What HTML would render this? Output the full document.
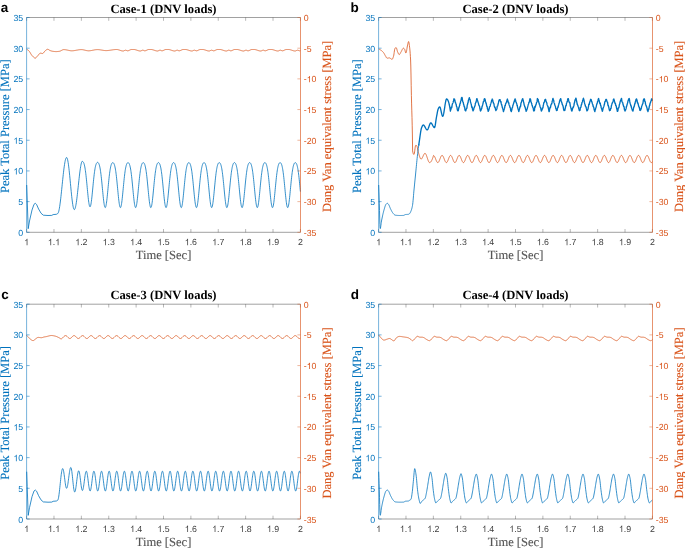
<!DOCTYPE html>
<html><head><meta charset="utf-8"><style>
html,body{margin:0;padding:0;background:#fff;}
svg{display:block;}
svg{will-change:transform;}
text{text-rendering:geometricPrecision;}
.tk{font-family:"Liberation Sans",sans-serif;font-size:8.8px;}
.lab{font-family:"Liberation Serif",serif;font-size:12.55px;stroke-width:0.12px;}
.ttl{font-family:"Liberation Serif",serif;font-size:12.6px;font-weight:bold;fill:#000;}
.let{font-family:"Liberation Sans",sans-serif;font-size:13.5px;font-weight:bold;fill:#000;}
</style></head><body>
<svg width="685" height="548" viewBox="0 0 685 548">
<rect width="685" height="548" fill="#fff"/>
<path d="M26.60 49.20 L26.85 49.32 L27.10 49.45 L27.35 49.61 L27.60 49.78 L27.85 49.97 L28.10 50.17 L28.35 50.39 L28.60 50.62 L28.85 50.85 L29.10 51.10 L29.35 51.40 L29.60 51.75 L29.85 52.13 L30.10 52.54 L30.35 52.97 L30.60 53.41 L30.85 53.84 L31.10 54.26 L31.35 54.65 L31.60 55.02 L31.85 55.33 L32.10 55.60 L32.35 55.87 L32.60 56.14 L32.85 56.42 L33.10 56.68 L33.35 56.94 L33.60 57.18 L33.85 57.41 L34.10 57.61 L34.35 57.78 L34.60 57.92 L34.85 58.02 L35.10 58.08 L35.35 58.10 L35.60 58.03 L35.85 57.87 L36.10 57.65 L36.35 57.37 L36.60 57.07 L36.85 56.75 L37.10 56.44 L37.35 56.15 L37.60 55.90 L37.85 55.63 L38.10 55.33 L38.35 55.01 L38.60 54.69 L38.85 54.37 L39.10 54.07 L39.35 53.80 L39.60 53.57 L39.85 53.38 L40.10 53.26 L40.35 53.20 L40.60 53.21 L40.85 53.23 L41.10 53.27 L41.35 53.32 L41.60 53.37 L41.85 53.42 L42.10 53.46 L42.35 53.49 L42.60 53.50 L42.85 53.44 L43.10 53.28 L43.35 53.05 L43.60 52.75 L43.85 52.42 L44.10 52.07 L44.35 51.72 L44.60 51.40 L44.85 51.13 L45.10 50.92 L45.35 50.71 L45.60 50.50 L45.85 50.29 L46.10 50.08 L46.35 49.88 L46.60 49.71 L46.85 49.55 L47.10 49.43 L47.35 49.35 L47.60 49.30 L47.85 49.31 L48.10 49.37 L48.35 49.48 L48.60 49.63 L48.85 49.79 L49.10 49.97 L49.35 50.14 L49.60 50.30 L49.85 50.44 L50.10 50.54 L50.35 50.63 L50.60 50.72 L50.85 50.80 L51.10 50.89 L51.35 50.97 L51.60 51.04 L51.85 51.11 L52.10 51.17 L52.35 51.22 L52.60 51.27 L52.85 51.31 L53.10 51.34 L53.35 51.38 L53.60 51.41 L53.85 51.44 L54.10 51.47 L54.35 51.50 L54.60 51.53 L54.85 51.55 L55.10 51.57 L55.35 51.58 L55.60 51.59 L55.85 51.60 L56.10 51.60 L56.35 51.60 L56.60 51.59 L56.85 51.58 L57.10 51.56 L57.35 51.54 L57.60 51.52 L57.85 51.49 L58.10 51.47 L58.35 51.44 L58.60 51.41 L58.85 51.38 L59.10 51.34 L59.35 51.31 L59.60 51.26 L59.85 51.20 L60.10 51.12 L60.35 51.01 L60.60 50.90 L60.85 50.78 L61.10 50.65 L61.35 50.51 L61.60 50.37 L61.85 50.24 L62.10 50.11 L62.35 49.99 L62.60 49.88 L62.85 49.78 L63.10 49.70 L63.35 49.64 L63.60 49.61 L63.85 49.60 L64.10 49.60 L64.35 49.62 L64.60 49.63 L64.85 49.66 L65.10 49.68 L65.35 49.72 L65.60 49.75 L65.85 49.80 L66.10 49.84 L66.35 49.89 L66.60 49.94 L66.85 49.99 L67.10 50.04 L67.35 50.10 L67.60 50.16 L67.85 50.21 L68.10 50.27 L68.35 50.32 L68.60 50.38 L68.85 50.43 L69.10 50.48 L69.35 50.53 L69.60 50.58 L69.85 50.62 L70.10 50.66 L70.35 50.70 L70.60 50.73 L70.85 50.75 L71.10 50.77 L71.35 50.79 L71.60 50.80 L71.85 50.80 L72.10 50.80 L72.35 50.79 L72.60 50.78 L72.85 50.76 L73.10 50.74 L73.35 50.71 L73.60 50.69 L73.85 50.66 L74.10 50.62 L74.35 50.59 L74.60 50.55 L74.85 50.51 L75.10 50.47 L75.35 50.42 L75.60 50.38 L75.85 50.33 L76.10 50.29 L76.35 50.24 L76.60 50.19 L76.85 50.14 L77.10 50.10 L77.35 50.05 L77.60 50.00 L77.85 49.96 L78.10 49.92 L78.35 49.88 L78.60 49.84 L78.85 49.80 L79.10 49.76 L79.35 49.73 L79.60 49.70 L79.85 49.68 L80.10 49.65 L80.35 49.63 L80.60 49.62 L80.85 49.61 L81.10 49.60 L81.35 49.60 L81.60 49.61 L81.85 49.62 L82.10 49.64 L82.35 49.67 L82.60 49.70 L82.85 49.74 L83.10 49.78 L83.35 49.83 L83.60 49.88 L83.85 49.94 L84.10 49.99 L84.35 50.05 L84.60 50.11 L84.85 50.18 L85.10 50.24 L85.35 50.30 L85.60 50.36 L85.85 50.42 L86.10 50.47 L86.35 50.53 L86.60 50.58 L86.85 50.63 L87.10 50.67 L87.35 50.71 L87.60 50.74 L87.85 50.76 L88.10 50.78 L88.35 50.80 L88.60 50.80 L88.85 50.80 L89.10 50.79 L89.35 50.78 L89.60 50.76 L89.85 50.73 L90.10 50.71 L90.35 50.68 L90.60 50.64 L90.85 50.60 L91.10 50.56 L91.35 50.52 L91.60 50.48 L91.85 50.43 L92.10 50.38 L92.35 50.33 L92.60 50.28 L92.85 50.23 L93.10 50.18 L93.35 50.13 L93.60 50.08 L93.85 50.03 L94.10 49.98 L94.35 49.93 L94.60 49.89 L94.85 49.84 L95.10 49.80 L95.35 49.77 L95.60 49.73 L95.85 49.70 L96.10 49.67 L96.35 49.65 L96.60 49.63 L96.85 49.61 L97.10 49.60 L97.35 49.60 L97.60 49.60 L97.85 49.61 L98.10 49.62 L98.35 49.63 L98.60 49.65 L98.85 49.67 L99.10 49.70 L99.35 49.73 L99.60 49.76 L99.85 49.79 L100.10 49.83 L100.35 49.87 L100.60 49.91 L100.85 49.95 L101.10 49.99 L101.35 50.03 L101.60 50.07 L101.85 50.12 L102.10 50.16 L102.35 50.20 L102.60 50.24 L102.85 50.29 L103.10 50.33 L103.35 50.36 L103.60 50.40 L103.85 50.43 L104.10 50.47 L104.35 50.49 L104.60 50.52 L104.85 50.54 L105.10 50.56 L105.35 50.58 L105.60 50.59 L105.85 50.60 L106.10 50.60 L106.35 50.60 L106.60 50.59 L106.85 50.58 L107.10 50.57 L107.35 50.56 L107.60 50.54 L107.85 50.52 L108.10 50.50 L108.35 50.47 L108.60 50.44 L108.85 50.41 L109.10 50.38 L109.35 50.35 L109.60 50.31 L109.85 50.28 L110.10 50.24 L110.35 50.21 L110.60 50.17 L110.85 50.13 L111.10 50.09 L111.35 50.05 L111.60 50.01 L111.85 49.97 L112.10 49.93 L112.35 49.89 L112.60 49.86 L112.85 49.82 L113.10 49.79 L113.35 49.75 L113.60 49.72 L113.85 49.69 L114.10 49.66 L114.35 49.63 L114.60 49.60 L114.85 49.58 L115.10 49.56 L115.35 49.54 L115.60 49.53 L115.85 49.52 L116.10 49.51 L116.35 49.50 L116.60 49.50 L116.85 49.51 L117.10 49.53 L117.35 49.56 L117.60 49.60 L117.85 49.65 L118.10 49.70 L118.35 49.77 L118.60 49.84 L118.85 49.91 L119.10 49.99 L119.35 50.08 L119.60 50.16 L119.85 50.25 L120.10 50.34 L120.35 50.42 L120.60 50.51 L120.85 50.59 L121.10 50.66 L121.35 50.73 L121.60 50.80 L121.85 50.85 L122.10 50.90 L122.35 50.94 L122.60 50.97 L122.85 50.99 L123.10 51.00 L123.35 50.98 L123.60 50.92 L123.85 50.83 L124.10 50.72 L124.35 50.60 L124.60 50.48 L124.85 50.37 L125.10 50.28 L125.35 50.22 L125.60 50.20 L125.85 50.23 L126.10 50.29 L126.35 50.39 L126.60 50.50 L126.85 50.61 L127.10 50.71 L127.35 50.77 L127.60 50.80 L127.85 50.79 L128.10 50.74 L128.35 50.68 L128.60 50.60 L128.85 50.50 L129.10 50.39 L129.35 50.27 L129.60 50.15 L129.85 50.03 L130.10 49.91 L130.35 49.80 L130.60 49.70 L130.85 49.62 L131.10 49.56 L131.35 49.51 L131.60 49.50 L131.85 49.50 L132.10 49.50 L132.35 49.50 L132.60 49.50 L132.85 49.50 L133.10 49.50 L133.35 49.50 L133.60 49.50 L133.85 49.50 L134.10 49.51 L134.35 49.53 L134.60 49.56 L134.85 49.60 L135.10 49.66 L135.35 49.72 L135.60 49.78 L135.85 49.85 L136.10 49.93 L136.35 50.01 L136.60 50.10 L136.85 50.18 L137.10 50.27 L137.35 50.35 L137.60 50.44 L137.85 50.52 L138.10 50.60 L138.35 50.68 L138.60 50.75 L138.85 50.81 L139.10 50.87 L139.35 50.91 L139.60 50.95 L139.85 50.98 L140.10 51.00 L140.35 51.00 L140.60 50.97 L140.85 50.90 L141.10 50.81 L141.35 50.70 L141.60 50.58 L141.85 50.46 L142.10 50.35 L142.35 50.27 L142.60 50.21 L142.85 50.20 L143.10 50.24 L143.35 50.31 L143.60 50.41 L143.85 50.52 L144.10 50.63 L144.35 50.72 L144.60 50.78 L144.85 50.80 L145.10 50.78 L145.35 50.73 L145.60 50.66 L145.85 50.58 L146.10 50.48 L146.35 50.37 L146.60 50.25 L146.85 50.13 L147.10 50.00 L147.35 49.89 L147.60 49.78 L147.85 49.69 L148.10 49.61 L148.35 49.55 L148.60 49.51 L148.85 49.50 L149.10 49.50 L149.35 49.50 L149.60 49.50 L149.85 49.50 L150.10 49.50 L150.35 49.50 L150.60 49.50 L150.85 49.50 L151.10 49.50 L151.35 49.51 L151.60 49.54 L151.85 49.57 L152.10 49.61 L152.35 49.67 L152.60 49.73 L152.85 49.80 L153.10 49.87 L153.35 49.95 L153.60 50.03 L153.85 50.11 L154.10 50.20 L154.35 50.28 L154.60 50.37 L154.85 50.46 L155.10 50.54 L155.35 50.62 L155.60 50.69 L155.85 50.76 L156.10 50.82 L156.35 50.88 L156.60 50.92 L156.85 50.96 L157.10 50.98 L157.35 51.00 L157.60 51.00 L157.85 50.96 L158.10 50.88 L158.35 50.79 L158.60 50.67 L158.85 50.55 L159.10 50.44 L159.35 50.33 L159.60 50.25 L159.85 50.21 L160.10 50.20 L160.35 50.25 L160.60 50.33 L160.85 50.43 L161.10 50.54 L161.35 50.65 L161.60 50.74 L161.85 50.79 L162.10 50.80 L162.35 50.77 L162.60 50.72 L162.85 50.65 L163.10 50.56 L163.35 50.46 L163.60 50.34 L163.85 50.22 L164.10 50.10 L164.35 49.98 L164.60 49.87 L164.85 49.76 L165.10 49.67 L165.35 49.59 L165.60 49.54 L165.85 49.51 L166.10 49.50 L166.35 49.50 L166.60 49.50 L166.85 49.50 L167.10 49.50 L167.35 49.50 L167.60 49.50 L167.85 49.50 L168.10 49.50 L168.35 49.50 L168.60 49.52 L168.85 49.54 L169.10 49.58 L169.35 49.62 L169.60 49.68 L169.85 49.74 L170.10 49.81 L170.35 49.88 L170.60 49.96 L170.85 50.04 L171.10 50.13 L171.35 50.22 L171.60 50.30 L171.85 50.39 L172.10 50.47 L172.35 50.55 L172.60 50.63 L172.85 50.70 L173.10 50.77 L173.35 50.83 L173.60 50.89 L173.85 50.93 L174.10 50.96 L174.35 50.99 L174.60 51.00 L174.85 50.99 L175.10 50.95 L175.35 50.87 L175.60 50.76 L175.85 50.65 L176.10 50.53 L176.35 50.41 L176.60 50.32 L176.85 50.24 L177.10 50.20 L177.35 50.21 L177.60 50.26 L177.85 50.35 L178.10 50.46 L178.35 50.57 L178.60 50.67 L178.85 50.75 L179.10 50.80 L179.35 50.79 L179.60 50.76 L179.85 50.71 L180.10 50.63 L180.35 50.54 L180.60 50.43 L180.85 50.32 L181.10 50.20 L181.35 50.08 L181.60 49.96 L181.85 49.84 L182.10 49.74 L182.35 49.65 L182.60 49.58 L182.85 49.53 L183.10 49.50 L183.35 49.50 L183.60 49.50 L183.85 49.50 L184.10 49.50 L184.35 49.50 L184.60 49.50 L184.85 49.50 L185.10 49.50 L185.35 49.50 L185.60 49.50 L185.85 49.52 L186.10 49.55 L186.35 49.59 L186.60 49.63 L186.85 49.69 L187.10 49.75 L187.35 49.82 L187.60 49.90 L187.85 49.98 L188.10 50.06 L188.35 50.15 L188.60 50.23 L188.85 50.32 L189.10 50.40 L189.35 50.49 L189.60 50.57 L189.85 50.65 L190.10 50.72 L190.35 50.78 L190.60 50.84 L190.85 50.90 L191.10 50.94 L191.35 50.97 L191.60 50.99 L191.85 51.00 L192.10 50.99 L192.35 50.93 L192.60 50.85 L192.85 50.74 L193.10 50.62 L193.35 50.50 L193.60 50.39 L193.85 50.30 L194.10 50.23 L194.35 50.20 L194.60 50.22 L194.85 50.28 L195.10 50.37 L195.35 50.48 L195.60 50.59 L195.85 50.69 L196.10 50.76 L196.35 50.80 L196.60 50.79 L196.85 50.75 L197.10 50.69 L197.35 50.61 L197.60 50.52 L197.85 50.41 L198.10 50.30 L198.35 50.17 L198.60 50.05 L198.85 49.93 L199.10 49.82 L199.35 49.72 L199.60 49.64 L199.85 49.57 L200.10 49.52 L200.35 49.50 L200.60 49.50 L200.85 49.50 L201.10 49.50 L201.35 49.50 L201.60 49.50 L201.85 49.50 L202.10 49.50 L202.35 49.50 L202.60 49.50 L202.85 49.51 L203.10 49.53 L203.35 49.56 L203.60 49.60 L203.85 49.65 L204.10 49.70 L204.35 49.77 L204.60 49.84 L204.85 49.91 L205.10 49.99 L205.35 50.08 L205.60 50.16 L205.85 50.25 L206.10 50.34 L206.35 50.42 L206.60 50.51 L206.85 50.59 L207.10 50.66 L207.35 50.73 L207.60 50.80 L207.85 50.85 L208.10 50.90 L208.35 50.94 L208.60 50.97 L208.85 50.99 L209.10 51.00 L209.35 50.98 L209.60 50.92 L209.85 50.83 L210.10 50.72 L210.35 50.60 L210.60 50.48 L210.85 50.37 L211.10 50.28 L211.35 50.22 L211.60 50.20 L211.85 50.23 L212.10 50.29 L212.35 50.39 L212.60 50.50 L212.85 50.61 L213.10 50.71 L213.35 50.77 L213.60 50.80 L213.85 50.79 L214.10 50.74 L214.35 50.68 L214.60 50.60 L214.85 50.50 L215.10 50.39 L215.35 50.27 L215.60 50.15 L215.85 50.03 L216.10 49.91 L216.35 49.80 L216.60 49.70 L216.85 49.62 L217.10 49.56 L217.35 49.51 L217.60 49.50 L217.85 49.50 L218.10 49.50 L218.35 49.50 L218.60 49.50 L218.85 49.50 L219.10 49.50 L219.35 49.50 L219.60 49.50 L219.85 49.50 L220.10 49.51 L220.35 49.53 L220.60 49.56 L220.85 49.60 L221.10 49.66 L221.35 49.72 L221.60 49.78 L221.85 49.85 L222.10 49.93 L222.35 50.01 L222.60 50.10 L222.85 50.18 L223.10 50.27 L223.35 50.35 L223.60 50.44 L223.85 50.52 L224.10 50.60 L224.35 50.68 L224.60 50.75 L224.85 50.81 L225.10 50.87 L225.35 50.91 L225.60 50.95 L225.85 50.98 L226.10 51.00 L226.35 51.00 L226.60 50.97 L226.85 50.90 L227.10 50.81 L227.35 50.70 L227.60 50.58 L227.85 50.46 L228.10 50.35 L228.35 50.27 L228.60 50.21 L228.85 50.20 L229.10 50.24 L229.35 50.31 L229.60 50.41 L229.85 50.52 L230.10 50.63 L230.35 50.72 L230.60 50.78 L230.85 50.80 L231.10 50.78 L231.35 50.73 L231.60 50.66 L231.85 50.58 L232.10 50.48 L232.35 50.37 L232.60 50.25 L232.85 50.13 L233.10 50.00 L233.35 49.89 L233.60 49.78 L233.85 49.69 L234.10 49.61 L234.35 49.55 L234.60 49.51 L234.85 49.50 L235.10 49.50 L235.35 49.50 L235.60 49.50 L235.85 49.50 L236.10 49.50 L236.35 49.50 L236.60 49.50 L236.85 49.50 L237.10 49.50 L237.35 49.51 L237.60 49.54 L237.85 49.57 L238.10 49.61 L238.35 49.67 L238.60 49.73 L238.85 49.80 L239.10 49.87 L239.35 49.95 L239.60 50.03 L239.85 50.11 L240.10 50.20 L240.35 50.28 L240.60 50.37 L240.85 50.46 L241.10 50.54 L241.35 50.62 L241.60 50.69 L241.85 50.76 L242.10 50.82 L242.35 50.88 L242.60 50.92 L242.85 50.96 L243.10 50.98 L243.35 51.00 L243.60 51.00 L243.85 50.96 L244.10 50.88 L244.35 50.79 L244.60 50.67 L244.85 50.55 L245.10 50.44 L245.35 50.33 L245.60 50.25 L245.85 50.21 L246.10 50.20 L246.35 50.25 L246.60 50.33 L246.85 50.43 L247.10 50.54 L247.35 50.65 L247.60 50.74 L247.85 50.79 L248.10 50.80 L248.35 50.77 L248.60 50.72 L248.85 50.65 L249.10 50.56 L249.35 50.46 L249.60 50.34 L249.85 50.22 L250.10 50.10 L250.35 49.98 L250.60 49.87 L250.85 49.76 L251.10 49.67 L251.35 49.59 L251.60 49.54 L251.85 49.51 L252.10 49.50 L252.35 49.50 L252.60 49.50 L252.85 49.50 L253.10 49.50 L253.35 49.50 L253.60 49.50 L253.85 49.50 L254.10 49.50 L254.35 49.50 L254.60 49.52 L254.85 49.54 L255.10 49.58 L255.35 49.62 L255.60 49.68 L255.85 49.74 L256.10 49.81 L256.35 49.88 L256.60 49.96 L256.85 50.04 L257.10 50.13 L257.35 50.22 L257.60 50.30 L257.85 50.39 L258.10 50.47 L258.35 50.55 L258.60 50.63 L258.85 50.70 L259.10 50.77 L259.35 50.83 L259.60 50.89 L259.85 50.93 L260.10 50.96 L260.35 50.99 L260.60 51.00 L260.85 50.99 L261.10 50.95 L261.35 50.87 L261.60 50.76 L261.85 50.65 L262.10 50.53 L262.35 50.41 L262.60 50.32 L262.85 50.24 L263.10 50.20 L263.35 50.21 L263.60 50.26 L263.85 50.35 L264.10 50.46 L264.35 50.57 L264.60 50.67 L264.85 50.75 L265.10 50.80 L265.35 50.79 L265.60 50.76 L265.85 50.71 L266.10 50.63 L266.35 50.54 L266.60 50.43 L266.85 50.32 L267.10 50.20 L267.35 50.08 L267.60 49.96 L267.85 49.84 L268.10 49.74 L268.35 49.65 L268.60 49.58 L268.85 49.53 L269.10 49.50 L269.35 49.50 L269.60 49.50 L269.85 49.50 L270.10 49.50 L270.35 49.50 L270.60 49.50 L270.85 49.50 L271.10 49.50 L271.35 49.50 L271.60 49.50 L271.85 49.52 L272.10 49.55 L272.35 49.59 L272.60 49.63 L272.85 49.69 L273.10 49.75 L273.35 49.82 L273.60 49.90 L273.85 49.98 L274.10 50.06 L274.35 50.15 L274.60 50.23 L274.85 50.32 L275.10 50.40 L275.35 50.49 L275.60 50.57 L275.85 50.65 L276.10 50.72 L276.35 50.78 L276.60 50.84 L276.85 50.90 L277.10 50.94 L277.35 50.97 L277.60 50.99 L277.85 51.00 L278.10 50.99 L278.35 50.93 L278.60 50.85 L278.85 50.74 L279.10 50.62 L279.35 50.50 L279.60 50.39 L279.85 50.30 L280.10 50.23 L280.35 50.20 L280.60 50.22 L280.85 50.28 L281.10 50.37 L281.35 50.48 L281.60 50.59 L281.85 50.69 L282.10 50.76 L282.35 50.80 L282.60 50.79 L282.85 50.75 L283.10 50.69 L283.35 50.61 L283.60 50.52 L283.85 50.41 L284.10 50.30 L284.35 50.17 L284.60 50.05 L284.85 49.93 L285.10 49.82 L285.35 49.72 L285.60 49.64 L285.85 49.57 L286.10 49.52 L286.35 49.50 L286.60 49.50 L286.85 49.50 L287.10 49.50 L287.35 49.50 L287.60 49.50 L287.85 49.50 L288.10 49.50 L288.35 49.50 L288.60 49.50 L288.85 49.51 L289.10 49.53 L289.35 49.56 L289.60 49.60 L289.85 49.65 L290.10 49.70 L290.35 49.77 L290.60 49.84 L290.85 49.91 L291.10 49.99 L291.35 50.08 L291.60 50.16 L291.85 50.25 L292.10 50.34 L292.35 50.42 L292.60 50.51 L292.85 50.59 L293.10 50.66 L293.35 50.73 L293.60 50.80 L293.85 50.85 L294.10 50.90 L294.35 50.94 L294.60 50.97 L294.85 50.99 L295.10 51.00 L295.35 50.98 L295.60 50.92 L295.85 50.83 L296.10 50.72 L296.35 50.60 L296.60 50.48 L296.85 50.37 L297.10 50.28 L297.35 50.22 L297.60 50.20 L297.85 50.23 L298.10 50.29 L298.35 50.39 L298.60 50.50 L298.85 50.61 L299.10 50.71 L299.35 50.77 L299.60 50.80 L299.85 50.79 L300.10 50.74 L300.35 50.68" fill="none" stroke="#D95319" stroke-width="0.80" stroke-linejoin="round"/>
<path d="M26.70 185.00 L27.20 200.00 L28.20 228.70 L29.50 221.00 L32.00 210.00 L34.00 204.30 L35.30 203.30 L36.60 204.50 L38.60 209.00 L41.00 213.20 L43.30 215.20 L48.00 215.50 L51.80 215.40 L53.10 214.60 L56.40 214.30 L57.60 213.60 L57.86 213.49 L58.11 213.15 L58.37 212.59 L58.63 211.81 L58.89 210.82 L59.14 209.63 L59.40 208.24 L59.66 206.67 L59.91 204.93 L60.17 203.04 L60.43 201.00 L60.69 198.84 L60.94 196.57 L61.20 194.22 L61.46 191.79 L61.71 189.32 L61.97 186.81 L62.23 184.29 L62.49 181.78 L62.74 179.31 L63.00 176.88 L63.26 174.53 L63.51 172.26 L63.77 170.10 L64.03 168.06 L64.29 166.17 L64.54 164.43 L64.80 162.86 L65.06 161.47 L65.31 160.28 L65.57 159.29 L65.83 158.51 L66.09 157.95 L66.34 157.61 L66.60 157.50 L66.86 157.64 L67.11 158.07 L67.37 158.77 L67.63 159.75 L67.88 160.99 L68.14 162.48 L68.40 164.19 L68.65 166.12 L68.91 168.24 L69.17 170.53 L69.42 172.95 L69.68 175.50 L69.94 178.13 L70.19 180.83 L70.45 183.55 L70.71 186.27 L70.96 188.97 L71.22 191.60 L71.48 194.15 L71.73 196.57 L71.99 198.86 L72.25 200.98 L72.50 202.91 L72.76 204.62 L73.02 206.11 L73.27 207.35 L73.53 208.33 L73.79 209.03 L74.04 209.46 L74.30 209.60 L74.55 209.48 L74.81 209.14 L75.06 208.56 L75.31 207.76 L75.57 206.74 L75.82 205.52 L76.07 204.11 L76.33 202.51 L76.58 200.75 L76.83 198.84 L77.08 196.81 L77.34 194.66 L77.59 192.42 L77.84 190.12 L78.10 187.77 L78.35 185.40 L78.60 183.03 L78.86 180.68 L79.11 178.38 L79.36 176.14 L79.62 173.99 L79.87 171.96 L80.12 170.05 L80.38 168.29 L80.63 166.69 L80.88 165.28 L81.13 164.06 L81.39 163.04 L81.64 162.24 L81.89 161.66 L82.15 161.32 L82.40 161.40 L82.60 161.43 L82.80 161.53 L83.00 161.68 L83.20 161.91 L83.40 162.21 L83.60 162.59 L83.80 163.06 L84.00 163.62 L84.20 164.27 L84.40 165.04 L84.60 165.91 L84.80 166.90 L85.00 168.02 L85.20 169.26 L85.40 170.62 L85.60 172.10 L85.80 173.71 L86.00 175.43 L86.20 177.25 L86.40 179.16 L86.60 181.16 L86.80 183.21 L87.00 185.31 L87.20 187.43 L87.40 189.55 L87.60 191.66 L87.80 193.71 L88.00 195.70 L88.20 197.58 L88.40 199.35 L88.60 200.98 L88.80 202.44 L89.00 203.71 L89.20 204.78 L89.40 205.64 L89.60 206.26 L89.80 206.65 L90.00 206.80 L90.20 206.70 L90.40 206.35 L90.60 205.77 L90.80 204.95 L91.00 203.92 L91.20 202.69 L91.40 201.26 L91.60 199.68 L91.80 197.95 L92.00 196.09 L92.20 194.15 L92.40 192.12 L92.60 190.05 L92.80 187.96 L93.00 185.87 L93.20 183.80 L93.40 181.77 L93.60 179.80 L93.80 177.91 L94.00 176.11 L94.20 174.42 L94.40 172.83 L94.60 171.37 L94.80 170.03 L95.00 168.81 L95.20 167.71 L95.40 166.73 L95.60 165.87 L95.80 165.13 L96.00 164.48 L96.20 163.94 L96.40 163.49 L96.60 163.12 L96.80 162.83 L97.00 162.62 L97.20 162.47 L97.40 162.38 L97.60 162.36 L97.80 162.40 L98.00 162.50 L98.20 162.66 L98.40 162.90 L98.60 163.20 L98.80 163.58 L99.00 164.05 L99.20 164.61 L99.40 165.26 L99.60 166.02 L99.80 166.89 L100.00 167.88 L100.20 168.99 L100.40 170.22 L100.60 171.58 L100.80 173.05 L101.00 174.65 L101.20 176.36 L101.40 178.17 L101.60 180.08 L101.80 182.06 L102.00 184.10 L102.20 186.19 L102.40 188.31 L102.60 190.42 L102.80 192.51 L103.00 194.56 L103.20 196.53 L103.40 198.41 L103.60 200.17 L103.80 201.79 L104.00 203.24 L104.20 204.51 L104.40 205.58 L104.60 206.43 L104.80 207.05 L105.00 207.43 L105.20 207.57 L105.40 207.46 L105.60 207.11 L105.80 206.52 L106.00 205.70 L106.20 204.66 L106.40 203.41 L106.60 201.98 L106.80 200.38 L107.00 198.64 L107.20 196.78 L107.40 194.82 L107.60 192.78 L107.80 190.70 L108.00 188.59 L108.20 186.48 L108.40 184.39 L108.60 182.35 L108.80 180.36 L109.00 178.46 L109.20 176.64 L109.40 174.92 L109.60 173.32 L109.80 171.84 L110.00 170.48 L110.20 169.24 L110.40 168.13 L110.60 167.13 L110.80 166.26 L111.00 165.49 L111.20 164.83 L111.40 164.27 L111.60 163.81 L111.80 163.43 L112.00 163.12 L112.20 162.89 L112.40 162.73 L112.60 162.63 L112.80 162.60 L113.00 162.62 L113.20 162.71 L113.40 162.87 L113.60 163.09 L113.80 163.38 L114.00 163.75 L114.20 164.21 L114.40 164.75 L114.60 165.40 L114.80 166.15 L115.00 167.01 L115.20 167.98 L115.40 169.08 L115.60 170.30 L115.80 171.65 L116.00 173.11 L116.20 174.70 L116.40 176.40 L116.60 178.20 L116.80 180.10 L117.00 182.08 L117.20 184.11 L117.40 186.20 L117.60 188.31 L117.80 190.42 L118.00 192.51 L118.20 194.55 L118.40 196.53 L118.60 198.41 L118.80 200.17 L119.00 201.79 L119.20 203.24 L119.40 204.52 L119.60 205.59 L119.80 206.44 L120.00 207.07 L120.20 207.45 L120.40 207.60 L120.60 207.50 L120.80 207.15 L121.00 206.57 L121.20 205.75 L121.40 204.72 L121.60 203.48 L121.80 202.05 L122.00 200.46 L122.20 198.72 L122.40 196.86 L122.60 194.90 L122.80 192.87 L123.00 190.78 L123.20 188.68 L123.40 186.57 L123.60 184.48 L123.80 182.43 L124.00 180.44 L124.20 178.53 L124.40 176.71 L124.60 174.99 L124.80 173.38 L125.00 171.90 L125.20 170.53 L125.40 169.29 L125.60 168.17 L125.80 167.17 L126.00 166.29 L126.20 165.52 L126.40 164.86 L126.60 164.30 L126.80 163.83 L127.00 163.44 L127.20 163.13 L127.40 162.90 L127.60 162.74 L127.80 162.64 L128.00 162.60 L128.20 162.62 L128.40 162.71 L128.60 162.86 L128.80 163.08 L129.00 163.37 L129.20 163.74 L129.40 164.19 L129.60 164.73 L129.80 165.37 L130.00 166.12 L130.20 166.98 L130.40 167.95 L130.60 169.04 L130.80 170.26 L131.00 171.60 L131.20 173.06 L131.40 174.64 L131.60 176.34 L131.80 178.14 L132.00 180.03 L132.20 182.01 L132.40 184.04 L132.60 186.12 L132.80 188.23 L133.00 190.34 L133.20 192.43 L133.40 194.48 L133.60 196.46 L133.80 198.34 L134.00 200.11 L134.20 201.73 L134.40 203.20 L134.60 204.48 L134.80 205.55 L135.00 206.42 L135.20 207.05 L135.40 207.45 L135.60 207.60 L135.80 207.51 L136.00 207.17 L136.20 206.59 L136.40 205.79 L136.60 204.76 L136.80 203.53 L137.00 202.11 L137.20 200.52 L137.40 198.79 L137.60 196.93 L137.80 194.97 L138.00 192.94 L138.20 190.86 L138.40 188.75 L138.60 186.64 L138.80 184.55 L139.00 182.50 L139.20 180.51 L139.40 178.59 L139.60 176.77 L139.80 175.05 L140.00 173.44 L140.20 171.95 L140.40 170.57 L140.60 169.33 L140.80 168.20 L141.00 167.20 L141.20 166.32 L141.40 165.55 L141.60 164.88 L141.80 164.31 L142.00 163.84 L142.20 163.45 L142.40 163.14 L142.60 162.91 L142.80 162.74 L143.00 162.64 L143.20 162.60 L143.40 162.62 L143.60 162.71 L143.80 162.86 L144.00 163.07 L144.20 163.36 L144.40 163.72 L144.60 164.17 L144.80 164.71 L145.00 165.35 L145.20 166.09 L145.40 166.94 L145.60 167.91 L145.80 169.00 L146.00 170.21 L146.20 171.55 L146.40 173.01 L146.60 174.59 L146.80 176.28 L147.00 178.07 L147.20 179.96 L147.40 181.94 L147.60 183.97 L147.80 186.05 L148.00 188.16 L148.20 190.27 L148.40 192.36 L148.60 194.41 L148.80 196.39 L149.00 198.28 L149.20 200.05 L149.40 201.68 L149.60 203.15 L149.80 204.43 L150.00 205.52 L150.20 206.39 L150.40 207.03 L150.60 207.44 L150.80 207.60 L151.00 207.51 L151.20 207.18 L151.40 206.62 L151.60 205.82 L151.80 204.80 L152.00 203.57 L152.20 202.16 L152.40 200.58 L152.60 198.85 L152.80 197.00 L153.00 195.04 L153.20 193.01 L153.40 190.93 L153.60 188.82 L153.80 186.71 L154.00 184.62 L154.20 182.57 L154.40 180.58 L154.60 178.66 L154.80 176.83 L155.00 175.11 L155.20 173.49 L155.40 172.00 L155.60 170.62 L155.80 169.37 L156.00 168.24 L156.20 167.24 L156.40 166.35 L156.60 165.57 L156.80 164.90 L157.00 164.33 L157.20 163.86 L157.40 163.47 L157.60 163.15 L157.80 162.92 L158.00 162.75 L158.20 162.64 L158.40 162.60 L158.60 162.62 L158.80 162.70 L159.00 162.85 L159.20 163.06 L159.40 163.35 L159.60 163.71 L159.80 164.16 L160.00 164.69 L160.20 165.33 L160.40 166.06 L160.60 166.91 L160.80 167.88 L161.00 168.96 L161.20 170.17 L161.40 171.50 L161.60 172.96 L161.80 174.53 L162.00 176.22 L162.20 178.01 L162.40 179.90 L162.60 181.87 L162.80 183.90 L163.00 185.98 L163.20 188.08 L163.40 190.20 L163.60 192.29 L163.80 194.34 L164.00 196.32 L164.20 198.21 L164.40 199.99 L164.60 201.62 L164.80 203.10 L165.00 204.39 L165.20 205.48 L165.40 206.36 L165.60 207.01 L165.80 207.43 L166.00 207.60 L166.20 207.52 L166.40 207.20 L166.60 206.64 L166.80 205.85 L167.00 204.84 L167.20 203.62 L167.40 202.21 L167.60 200.64 L167.80 198.91 L168.00 197.06 L168.20 195.11 L168.40 193.08 L168.60 191.00 L168.80 188.90 L169.00 186.79 L169.20 184.69 L169.40 182.64 L169.60 180.65 L169.80 178.73 L170.00 176.90 L170.20 175.17 L170.40 173.55 L170.60 172.05 L170.80 170.67 L171.00 169.41 L171.20 168.28 L171.40 167.27 L171.60 166.38 L171.80 165.60 L172.00 164.92 L172.20 164.35 L172.40 163.87 L172.60 163.48 L172.80 163.16 L173.00 162.92 L173.20 162.75 L173.40 162.65 L173.60 162.60 L173.80 162.62 L174.00 162.70 L174.20 162.84 L174.40 163.05 L174.60 163.34 L174.80 163.70 L175.00 164.14 L175.20 164.67 L175.40 165.30 L175.60 166.04 L175.80 166.88 L176.00 167.84 L176.20 168.92 L176.40 170.12 L176.60 171.45 L176.80 172.90 L177.00 174.47 L177.20 176.16 L177.40 177.95 L177.60 179.83 L177.80 181.80 L178.00 183.83 L178.20 185.90 L178.40 188.01 L178.60 190.12 L178.80 192.22 L179.00 194.27 L179.20 196.25 L179.40 198.15 L179.60 199.93 L179.80 201.57 L180.00 203.05 L180.20 204.35 L180.40 205.45 L180.60 206.34 L180.80 206.99 L181.00 207.42 L181.20 207.59 L181.40 207.53 L181.60 207.22 L181.80 206.66 L182.00 205.88 L182.20 204.88 L182.40 203.67 L182.60 202.27 L182.80 200.69 L183.00 198.97 L183.20 197.13 L183.40 195.18 L183.60 193.16 L183.80 191.08 L184.00 188.97 L184.20 186.86 L184.40 184.77 L184.60 182.71 L184.80 180.71 L185.00 178.79 L185.20 176.96 L185.40 175.22 L185.60 173.60 L185.80 172.10 L186.00 170.71 L186.20 169.45 L186.40 168.32 L186.60 167.30 L186.80 166.41 L187.00 165.62 L187.20 164.95 L187.40 164.37 L187.60 163.89 L187.80 163.49 L188.00 163.17 L188.20 162.93 L188.40 162.76 L188.60 162.65 L188.80 162.60 L189.00 162.62 L189.20 162.70 L189.40 162.84 L189.60 163.05 L189.80 163.33 L190.00 163.68 L190.20 164.12 L190.40 164.65 L190.60 165.28 L190.80 166.01 L191.00 166.85 L191.20 167.80 L191.40 168.88 L191.60 170.08 L191.80 171.40 L192.00 172.85 L192.20 174.42 L192.40 176.10 L192.60 177.88 L192.80 179.76 L193.00 181.73 L193.20 183.75 L193.40 185.83 L193.60 187.94 L193.80 190.05 L194.00 192.14 L194.20 194.20 L194.40 196.19 L194.60 198.08 L194.80 199.87 L195.00 201.52 L195.20 203.00 L195.40 204.31 L195.60 205.42 L195.80 206.31 L196.00 206.97 L196.20 207.40 L196.40 207.59 L196.60 207.53 L196.80 207.23 L197.00 206.69 L197.20 205.91 L197.40 204.91 L197.60 203.71 L197.80 202.32 L198.00 200.75 L198.20 199.04 L198.40 197.20 L198.60 195.25 L198.80 193.23 L199.00 191.15 L199.20 189.05 L199.40 186.93 L199.60 184.84 L199.80 182.78 L200.00 180.78 L200.20 178.86 L200.40 177.02 L200.60 175.28 L200.80 173.66 L201.00 172.15 L201.20 170.76 L201.40 169.49 L201.60 168.35 L201.80 167.34 L202.00 166.44 L202.20 165.65 L202.40 164.97 L202.60 164.39 L202.80 163.90 L203.00 163.50 L203.20 163.18 L203.40 162.94 L203.60 162.76 L203.80 162.65 L204.00 162.60 L204.20 162.62 L204.40 162.69 L204.60 162.83 L204.80 163.04 L205.00 163.31 L205.20 163.67 L205.40 164.10 L205.60 164.63 L205.80 165.25 L206.00 165.98 L206.20 166.82 L206.40 167.77 L206.60 168.84 L206.80 170.04 L207.00 171.35 L207.20 172.80 L207.40 174.36 L207.60 176.03 L207.80 177.82 L208.00 179.69 L208.20 181.66 L208.40 183.68 L208.60 185.76 L208.80 187.86 L209.00 189.97 L209.20 192.07 L209.40 194.13 L209.60 196.12 L209.80 198.02 L210.00 199.81 L210.20 201.46 L210.40 202.95 L210.60 204.27 L210.80 205.38 L211.00 206.28 L211.20 206.96 L211.40 207.39 L211.60 207.59 L211.80 207.54 L212.00 207.24 L212.20 206.71 L212.40 205.94 L212.60 204.95 L212.80 203.76 L213.00 202.37 L213.20 200.81 L213.40 199.10 L213.60 197.26 L213.80 195.32 L214.00 193.30 L214.20 191.22 L214.40 189.12 L214.60 187.01 L214.80 184.91 L215.00 182.85 L215.20 180.85 L215.40 178.92 L215.60 177.08 L215.80 175.34 L216.00 173.71 L216.20 172.20 L216.40 170.81 L216.60 169.54 L216.80 168.39 L217.00 167.37 L217.20 166.46 L217.40 165.67 L217.60 164.99 L217.80 164.41 L218.00 163.92 L218.20 163.52 L218.40 163.19 L218.60 162.94 L218.80 162.77 L219.00 162.65 L219.20 162.60 L219.40 162.61 L219.60 162.69 L219.80 162.82 L220.00 163.03 L220.20 163.30 L220.40 163.65 L220.60 164.09 L220.80 164.61 L221.00 165.23 L221.20 165.95 L221.40 166.79 L221.60 167.73 L221.80 168.80 L222.00 169.99 L222.20 171.31 L222.40 172.74 L222.60 174.30 L222.80 175.97 L223.00 177.75 L223.20 179.63 L223.40 181.59 L223.60 183.61 L223.80 185.68 L224.00 187.79 L224.20 189.90 L224.40 192.00 L224.60 194.06 L224.80 196.05 L225.00 197.96 L225.20 199.75 L225.40 201.41 L225.60 202.90 L225.80 204.22 L226.00 205.34 L226.20 206.25 L226.40 206.94 L226.60 207.38 L226.80 207.59 L227.00 207.55 L227.20 207.26 L227.40 206.73 L227.60 205.97 L227.80 204.99 L228.00 203.80 L228.20 202.42 L228.40 200.87 L228.60 199.16 L228.80 197.33 L229.00 195.39 L229.20 193.37 L229.40 191.30 L229.60 189.19 L229.80 187.08 L230.00 184.99 L230.20 182.93 L230.40 180.92 L230.60 178.99 L230.80 177.15 L231.00 175.40 L231.20 173.77 L231.40 172.25 L231.60 170.85 L231.80 169.58 L232.00 168.43 L232.20 167.40 L232.40 166.49 L232.60 165.70 L232.80 165.01 L233.00 164.43 L233.20 163.93 L233.40 163.53 L233.60 163.20 L233.80 162.95 L234.00 162.77 L234.20 162.66 L234.40 162.60 L234.60 162.61 L234.80 162.68 L235.00 162.82 L235.20 163.02 L235.40 163.29 L235.60 163.64 L235.80 164.07 L236.00 164.59 L236.20 165.21 L236.40 165.93 L236.60 166.76 L236.80 167.70 L237.00 168.76 L237.20 169.95 L237.40 171.26 L237.60 172.69 L237.80 174.25 L238.00 175.91 L238.20 177.69 L238.40 179.56 L238.60 181.52 L238.80 183.54 L239.00 185.61 L239.20 187.71 L239.40 189.83 L239.60 191.92 L239.80 193.98 L240.00 195.98 L240.20 197.89 L240.40 199.69 L240.60 201.35 L240.80 202.85 L241.00 204.18 L241.20 205.31 L241.40 206.23 L241.60 206.92 L241.80 207.37 L242.00 207.58 L242.20 207.55 L242.40 207.27 L242.60 206.76 L242.80 206.00 L243.00 205.03 L243.20 203.85 L243.40 202.47 L243.60 200.92 L243.80 199.22 L244.00 197.39 L244.20 195.46 L244.40 193.44 L244.60 191.37 L244.80 189.27 L245.00 187.16 L245.20 185.06 L245.40 183.00 L245.60 180.99 L245.80 179.06 L246.00 177.21 L246.20 175.46 L246.40 173.82 L246.60 172.30 L246.80 170.90 L247.00 169.62 L247.20 168.47 L247.40 167.44 L247.60 166.52 L247.80 165.73 L248.00 165.03 L248.20 164.44 L248.40 163.95 L248.60 163.54 L248.80 163.21 L249.00 162.96 L249.20 162.78 L249.40 162.66 L249.60 162.60 L249.80 162.61 L250.00 162.68 L250.20 162.81 L250.40 163.01 L250.60 163.28 L250.80 163.63 L251.00 164.05 L251.20 164.57 L251.40 165.18 L251.60 165.90 L251.80 166.72 L252.00 167.66 L252.20 168.72 L252.40 169.90 L252.60 171.21 L252.80 172.64 L253.00 174.19 L253.20 175.85 L253.40 177.63 L253.60 179.49 L253.80 181.45 L254.00 183.47 L254.20 185.54 L254.40 187.64 L254.60 189.75 L254.80 191.85 L255.00 193.91 L255.20 195.91 L255.40 197.83 L255.60 199.63 L255.80 201.29 L256.00 202.80 L256.20 204.14 L256.40 205.27 L256.60 206.20 L256.80 206.90 L257.00 207.36 L257.20 207.58 L257.40 207.56 L257.60 207.29 L257.80 206.78 L258.00 206.03 L258.20 205.07 L258.40 203.89 L258.60 202.52 L258.80 200.98 L259.00 199.29 L259.20 197.46 L259.40 195.53 L259.60 193.51 L259.80 191.44 L260.00 189.34 L260.20 187.23 L260.40 185.13 L260.60 183.07 L260.80 181.06 L261.00 179.12 L261.20 177.27 L261.40 175.52 L261.60 173.88 L261.80 172.35 L262.00 170.95 L262.20 169.66 L262.40 168.51 L262.60 167.47 L262.80 166.55 L263.00 165.75 L263.20 165.06 L263.40 164.46 L263.60 163.96 L263.80 163.55 L264.00 163.22 L264.20 162.97 L264.40 162.78 L264.60 162.66 L264.80 162.61 L265.00 162.61 L265.20 162.68 L265.40 162.81 L265.60 163.00 L265.80 163.27 L266.00 163.61 L266.20 164.04 L266.40 164.55 L266.60 165.16 L266.80 165.87 L267.00 166.69 L267.20 167.63 L267.40 168.68 L267.60 169.86 L267.80 171.16 L268.00 172.59 L268.20 174.13 L268.40 175.79 L268.60 177.56 L268.80 179.43 L269.00 181.38 L269.20 183.40 L269.40 185.47 L269.60 187.57 L269.80 189.68 L270.00 191.78 L270.20 193.84 L270.40 195.84 L270.60 197.76 L270.80 199.57 L271.00 201.24 L271.20 202.75 L271.40 204.09 L271.60 205.24 L271.80 206.17 L272.00 206.87 L272.20 207.35 L272.40 207.58 L272.60 207.56 L272.80 207.30 L273.00 206.80 L273.20 206.06 L273.40 205.10 L273.60 203.94 L273.80 202.57 L274.00 201.04 L274.20 199.35 L274.40 197.53 L274.60 195.60 L274.80 193.59 L275.00 191.52 L275.20 189.42 L275.40 187.30 L275.60 185.20 L275.80 183.14 L276.00 181.13 L276.20 179.19 L276.40 177.33 L276.60 175.58 L276.80 173.93 L277.00 172.40 L277.20 170.99 L277.40 169.71 L277.60 168.55 L277.80 167.51 L278.00 166.58 L278.20 165.78 L278.40 165.08 L278.60 164.48 L278.80 163.98 L279.00 163.57 L279.20 163.23 L279.40 162.98 L279.60 162.79 L279.80 162.67 L280.00 162.61 L280.20 162.61 L280.40 162.67 L280.60 162.80 L280.80 163.00 L281.00 163.26 L281.20 163.60 L281.40 164.02 L281.60 164.53 L281.80 165.14 L282.00 165.85 L282.20 166.66 L282.40 167.59 L282.60 168.64 L282.80 169.82 L283.00 171.11 L283.20 172.54 L283.40 174.08 L283.60 175.73 L283.80 177.50 L284.00 179.36 L284.20 181.31 L284.40 183.32 L284.60 185.39 L284.80 187.49 L285.00 189.61 L285.20 191.71 L285.40 193.77 L285.60 195.77 L285.80 197.69 L286.00 199.50 L286.20 201.18 L286.40 202.70 L286.60 204.05 L286.80 205.20 L287.00 206.14 L287.20 206.85 L287.40 207.33 L287.60 207.57 L287.80 207.57 L288.00 207.31 L288.20 206.82 L288.40 206.09 L288.60 205.14 L288.80 203.98 L289.00 202.62 L289.20 201.09 L289.40 199.41 L289.60 197.59 L289.80 195.67 L290.00 193.66 L290.20 191.59 L290.40 189.49 L290.60 187.38 L290.80 185.28 L291.00 183.21 L291.20 181.20 L291.40 179.26 L291.60 177.40 L291.80 175.64 L292.00 173.99 L292.20 172.45 L292.40 171.04 L292.60 169.75 L292.80 168.58 L293.00 167.54 L293.20 166.61 L293.40 165.80 L293.60 165.10 L293.80 164.50 L294.00 164.00 L294.20 163.58 L294.40 163.24 L294.60 162.98 L294.80 162.79 L295.00 162.67 L295.20 162.61 L295.40 162.61 L295.60 162.67 L295.80 162.80 L296.00 162.99 L296.20 163.25 L296.40 163.59 L296.60 164.01 L296.80 164.51 L297.00 165.12 L297.20 165.82 L297.40 166.63 L297.60 167.56 L297.80 168.61 L298.00 169.77 L298.20 171.07 L298.40 172.48 L298.60 174.02 L298.80 175.67 L299.00 177.43 L299.20 179.29 L299.40 181.24 L299.60 183.25 L299.80 185.32 L300.00 187.42 L300.20 189.53 L300.40 191.63" fill="none" stroke="#0072BD" stroke-width="0.80" stroke-linejoin="round"/>
<line x1="26.60" y1="17.50" x2="300.40" y2="17.50" stroke="#262626" stroke-width="0.8" stroke-opacity="0.55"/>
<line x1="26.60" y1="232.30" x2="300.40" y2="232.30" stroke="#262626" stroke-width="0.8" stroke-opacity="0.55"/>
<line x1="26.60" y1="232.30" x2="26.60" y2="229.00" stroke="#262626" stroke-width="0.6" stroke-opacity="0.55"/>
<line x1="26.60" y1="17.50" x2="26.60" y2="20.80" stroke="#262626" stroke-width="0.6" stroke-opacity="0.55"/>
<path d="M763 0L583 0L583 1147Q518 1085 412 1023Q306 961 222 930L222 1104Q373 1175 486 1276Q599 1377 646 1472L763 1472Z" transform="translate(24.15 245.20) scale(0.00430 -0.00430)" fill="#404040"/>
<line x1="53.98" y1="232.30" x2="53.98" y2="229.00" stroke="#262626" stroke-width="0.6" stroke-opacity="0.55"/>
<line x1="53.98" y1="17.50" x2="53.98" y2="20.80" stroke="#262626" stroke-width="0.6" stroke-opacity="0.55"/>
<path d="M763 0L583 0L583 1147Q518 1085 412 1023Q306 961 222 930L222 1104Q373 1175 486 1276Q599 1377 646 1472L763 1472Z" transform="translate(47.86 245.20) scale(0.00430 -0.00430)" fill="#404040"/><text x="52.76" y="245.20" class="tk" fill="#404040">.</text><path d="M763 0L583 0L583 1147Q518 1085 412 1023Q306 961 222 930L222 1104Q373 1175 486 1276Q599 1377 646 1472L763 1472Z" transform="translate(55.20 245.20) scale(0.00430 -0.00430)" fill="#404040"/>
<line x1="81.36" y1="232.30" x2="81.36" y2="229.00" stroke="#262626" stroke-width="0.6" stroke-opacity="0.55"/>
<line x1="81.36" y1="17.50" x2="81.36" y2="20.80" stroke="#262626" stroke-width="0.6" stroke-opacity="0.55"/>
<path d="M763 0L583 0L583 1147Q518 1085 412 1023Q306 961 222 930L222 1104Q373 1175 486 1276Q599 1377 646 1472L763 1472Z" transform="translate(75.24 245.20) scale(0.00430 -0.00430)" fill="#404040"/><text x="80.14" y="245.20" class="tk" fill="#404040">.</text><text x="82.58" y="245.20" class="tk" fill="#404040">2</text>
<line x1="108.74" y1="232.30" x2="108.74" y2="229.00" stroke="#262626" stroke-width="0.6" stroke-opacity="0.55"/>
<line x1="108.74" y1="17.50" x2="108.74" y2="20.80" stroke="#262626" stroke-width="0.6" stroke-opacity="0.55"/>
<path d="M763 0L583 0L583 1147Q518 1085 412 1023Q306 961 222 930L222 1104Q373 1175 486 1276Q599 1377 646 1472L763 1472Z" transform="translate(102.62 245.20) scale(0.00430 -0.00430)" fill="#404040"/><text x="107.52" y="245.20" class="tk" fill="#404040">.</text><text x="109.96" y="245.20" class="tk" fill="#404040">3</text>
<line x1="136.12" y1="232.30" x2="136.12" y2="229.00" stroke="#262626" stroke-width="0.6" stroke-opacity="0.55"/>
<line x1="136.12" y1="17.50" x2="136.12" y2="20.80" stroke="#262626" stroke-width="0.6" stroke-opacity="0.55"/>
<path d="M763 0L583 0L583 1147Q518 1085 412 1023Q306 961 222 930L222 1104Q373 1175 486 1276Q599 1377 646 1472L763 1472Z" transform="translate(130.00 245.20) scale(0.00430 -0.00430)" fill="#404040"/><text x="134.90" y="245.20" class="tk" fill="#404040">.</text><text x="137.34" y="245.20" class="tk" fill="#404040">4</text>
<line x1="163.50" y1="232.30" x2="163.50" y2="229.00" stroke="#262626" stroke-width="0.6" stroke-opacity="0.55"/>
<line x1="163.50" y1="17.50" x2="163.50" y2="20.80" stroke="#262626" stroke-width="0.6" stroke-opacity="0.55"/>
<path d="M763 0L583 0L583 1147Q518 1085 412 1023Q306 961 222 930L222 1104Q373 1175 486 1276Q599 1377 646 1472L763 1472Z" transform="translate(157.38 245.20) scale(0.00430 -0.00430)" fill="#404040"/><text x="162.28" y="245.20" class="tk" fill="#404040">.</text><text x="164.72" y="245.20" class="tk" fill="#404040">5</text>
<line x1="190.88" y1="232.30" x2="190.88" y2="229.00" stroke="#262626" stroke-width="0.6" stroke-opacity="0.55"/>
<line x1="190.88" y1="17.50" x2="190.88" y2="20.80" stroke="#262626" stroke-width="0.6" stroke-opacity="0.55"/>
<path d="M763 0L583 0L583 1147Q518 1085 412 1023Q306 961 222 930L222 1104Q373 1175 486 1276Q599 1377 646 1472L763 1472Z" transform="translate(184.76 245.20) scale(0.00430 -0.00430)" fill="#404040"/><text x="189.66" y="245.20" class="tk" fill="#404040">.</text><text x="192.10" y="245.20" class="tk" fill="#404040">6</text>
<line x1="218.26" y1="232.30" x2="218.26" y2="229.00" stroke="#262626" stroke-width="0.6" stroke-opacity="0.55"/>
<line x1="218.26" y1="17.50" x2="218.26" y2="20.80" stroke="#262626" stroke-width="0.6" stroke-opacity="0.55"/>
<path d="M763 0L583 0L583 1147Q518 1085 412 1023Q306 961 222 930L222 1104Q373 1175 486 1276Q599 1377 646 1472L763 1472Z" transform="translate(212.14 245.20) scale(0.00430 -0.00430)" fill="#404040"/><text x="217.04" y="245.20" class="tk" fill="#404040">.</text><text x="219.48" y="245.20" class="tk" fill="#404040">7</text>
<line x1="245.64" y1="232.30" x2="245.64" y2="229.00" stroke="#262626" stroke-width="0.6" stroke-opacity="0.55"/>
<line x1="245.64" y1="17.50" x2="245.64" y2="20.80" stroke="#262626" stroke-width="0.6" stroke-opacity="0.55"/>
<path d="M763 0L583 0L583 1147Q518 1085 412 1023Q306 961 222 930L222 1104Q373 1175 486 1276Q599 1377 646 1472L763 1472Z" transform="translate(239.52 245.20) scale(0.00430 -0.00430)" fill="#404040"/><text x="244.42" y="245.20" class="tk" fill="#404040">.</text><text x="246.86" y="245.20" class="tk" fill="#404040">8</text>
<line x1="273.02" y1="232.30" x2="273.02" y2="229.00" stroke="#262626" stroke-width="0.6" stroke-opacity="0.55"/>
<line x1="273.02" y1="17.50" x2="273.02" y2="20.80" stroke="#262626" stroke-width="0.6" stroke-opacity="0.55"/>
<path d="M763 0L583 0L583 1147Q518 1085 412 1023Q306 961 222 930L222 1104Q373 1175 486 1276Q599 1377 646 1472L763 1472Z" transform="translate(266.90 245.20) scale(0.00430 -0.00430)" fill="#404040"/><text x="271.80" y="245.20" class="tk" fill="#404040">.</text><text x="274.24" y="245.20" class="tk" fill="#404040">9</text>
<line x1="300.40" y1="232.30" x2="300.40" y2="229.00" stroke="#262626" stroke-width="0.6" stroke-opacity="0.55"/>
<line x1="300.40" y1="17.50" x2="300.40" y2="20.80" stroke="#262626" stroke-width="0.6" stroke-opacity="0.55"/>
<text x="297.95" y="245.20" class="tk" fill="#404040">2</text>
<line x1="26.60" y1="17.50" x2="26.60" y2="232.30" stroke="#0072BD" stroke-width="0.9" stroke-opacity="0.60"/>
<line x1="300.50" y1="17.50" x2="300.50" y2="232.30" stroke="#D95319" stroke-width="0.9" stroke-opacity="0.70"/>
<line x1="26.60" y1="232.30" x2="29.60" y2="232.30" stroke="#0072BD" stroke-width="0.7" stroke-opacity="0.75"/>
<text x="18.31" y="235.80" class="tk" fill="#0072BD">0</text>
<line x1="300.40" y1="17.50" x2="297.40" y2="17.50" stroke="#D95319" stroke-width="0.7" stroke-opacity="0.6"/>
<text x="303.80" y="21.00" class="tk" fill="#D95319">0</text>
<line x1="26.60" y1="201.61" x2="29.60" y2="201.61" stroke="#0072BD" stroke-width="0.7" stroke-opacity="0.75"/>
<text x="18.31" y="205.11" class="tk" fill="#0072BD">5</text>
<line x1="300.40" y1="48.19" x2="297.40" y2="48.19" stroke="#D95319" stroke-width="0.7" stroke-opacity="0.6"/>
<text x="303.80" y="51.69" class="tk" fill="#D95319">-</text><text x="306.73" y="51.69" class="tk" fill="#D95319">5</text>
<line x1="26.60" y1="170.93" x2="29.60" y2="170.93" stroke="#0072BD" stroke-width="0.7" stroke-opacity="0.75"/>
<path d="M763 0L583 0L583 1147Q518 1085 412 1023Q306 961 222 930L222 1104Q373 1175 486 1276Q599 1377 646 1472L763 1472Z" transform="translate(13.41 174.43) scale(0.00430 -0.00430)" fill="#0072BD"/><text x="18.31" y="174.43" class="tk" fill="#0072BD">0</text>
<line x1="300.40" y1="78.87" x2="297.40" y2="78.87" stroke="#D95319" stroke-width="0.7" stroke-opacity="0.6"/>
<text x="303.80" y="82.37" class="tk" fill="#D95319">-</text><path d="M763 0L583 0L583 1147Q518 1085 412 1023Q306 961 222 930L222 1104Q373 1175 486 1276Q599 1377 646 1472L763 1472Z" transform="translate(306.73 82.37) scale(0.00430 -0.00430)" fill="#D95319"/><text x="311.62" y="82.37" class="tk" fill="#D95319">0</text>
<line x1="26.60" y1="140.24" x2="29.60" y2="140.24" stroke="#0072BD" stroke-width="0.7" stroke-opacity="0.75"/>
<path d="M763 0L583 0L583 1147Q518 1085 412 1023Q306 961 222 930L222 1104Q373 1175 486 1276Q599 1377 646 1472L763 1472Z" transform="translate(13.41 143.74) scale(0.00430 -0.00430)" fill="#0072BD"/><text x="18.31" y="143.74" class="tk" fill="#0072BD">5</text>
<line x1="300.40" y1="109.56" x2="297.40" y2="109.56" stroke="#D95319" stroke-width="0.7" stroke-opacity="0.6"/>
<text x="303.80" y="113.06" class="tk" fill="#D95319">-</text><path d="M763 0L583 0L583 1147Q518 1085 412 1023Q306 961 222 930L222 1104Q373 1175 486 1276Q599 1377 646 1472L763 1472Z" transform="translate(306.73 113.06) scale(0.00430 -0.00430)" fill="#D95319"/><text x="311.62" y="113.06" class="tk" fill="#D95319">5</text>
<line x1="26.60" y1="109.56" x2="29.60" y2="109.56" stroke="#0072BD" stroke-width="0.7" stroke-opacity="0.75"/>
<text x="13.41" y="113.06" class="tk" fill="#0072BD">2</text><text x="18.31" y="113.06" class="tk" fill="#0072BD">0</text>
<line x1="300.40" y1="140.24" x2="297.40" y2="140.24" stroke="#D95319" stroke-width="0.7" stroke-opacity="0.6"/>
<text x="303.80" y="143.74" class="tk" fill="#D95319">-</text><text x="306.73" y="143.74" class="tk" fill="#D95319">2</text><text x="311.62" y="143.74" class="tk" fill="#D95319">0</text>
<line x1="26.60" y1="78.87" x2="29.60" y2="78.87" stroke="#0072BD" stroke-width="0.7" stroke-opacity="0.75"/>
<text x="13.41" y="82.37" class="tk" fill="#0072BD">2</text><text x="18.31" y="82.37" class="tk" fill="#0072BD">5</text>
<line x1="300.40" y1="170.93" x2="297.40" y2="170.93" stroke="#D95319" stroke-width="0.7" stroke-opacity="0.6"/>
<text x="303.80" y="174.43" class="tk" fill="#D95319">-</text><text x="306.73" y="174.43" class="tk" fill="#D95319">2</text><text x="311.62" y="174.43" class="tk" fill="#D95319">5</text>
<line x1="26.60" y1="48.19" x2="29.60" y2="48.19" stroke="#0072BD" stroke-width="0.7" stroke-opacity="0.75"/>
<text x="13.41" y="51.69" class="tk" fill="#0072BD">3</text><text x="18.31" y="51.69" class="tk" fill="#0072BD">0</text>
<line x1="300.40" y1="201.61" x2="297.40" y2="201.61" stroke="#D95319" stroke-width="0.7" stroke-opacity="0.6"/>
<text x="303.80" y="205.11" class="tk" fill="#D95319">-</text><text x="306.73" y="205.11" class="tk" fill="#D95319">3</text><text x="311.62" y="205.11" class="tk" fill="#D95319">0</text>
<line x1="26.60" y1="17.50" x2="29.60" y2="17.50" stroke="#0072BD" stroke-width="0.7" stroke-opacity="0.75"/>
<text x="13.41" y="21.00" class="tk" fill="#0072BD">3</text><text x="18.31" y="21.00" class="tk" fill="#0072BD">5</text>
<line x1="300.40" y1="232.30" x2="297.40" y2="232.30" stroke="#D95319" stroke-width="0.7" stroke-opacity="0.6"/>
<text x="303.80" y="235.80" class="tk" fill="#D95319">-</text><text x="306.73" y="235.80" class="tk" fill="#D95319">3</text><text x="311.62" y="235.80" class="tk" fill="#D95319">5</text>
<text x="163.50" y="12.70" class="ttl" text-anchor="middle">Case-1 (DNV loads)</text>
<text x="163.50" y="259.10" class="lab" fill="#555555" stroke="#555555" text-anchor="middle">Time [Sec]</text>
<text transform="translate(9.00 126.20) rotate(-90)" class="lab" fill="#0072BD" stroke="#0072BD" text-anchor="middle">Peak Total Pressure [MPa]</text>
<text transform="translate(331.30 126.30) rotate(-90)" class="lab" fill="#D95319" stroke="#D95319" text-anchor="middle">Dang Van equivalent stress [MPa]</text>
<path d="M378.80 49.10 L379.00 49.17 L379.20 49.25 L379.40 49.34 L379.60 49.43 L379.80 49.53 L380.00 49.64 L380.20 49.76 L380.40 49.88 L380.60 50.00 L380.80 50.13 L381.00 50.26 L381.20 50.40 L381.40 50.54 L381.60 50.69 L381.80 50.85 L382.00 51.02 L382.20 51.20 L382.40 51.38 L382.60 51.58 L382.80 51.78 L383.00 52.00 L383.20 52.22 L383.40 52.46 L383.60 52.70 L383.80 52.97 L384.00 53.29 L384.20 53.63 L384.40 54.00 L384.60 54.38 L384.80 54.76 L385.00 55.14 L385.20 55.50 L385.40 55.84 L385.60 56.16 L385.80 56.51 L386.00 56.87 L386.20 57.23 L386.40 57.57 L386.60 57.85 L386.80 58.07 L387.00 58.18 L387.20 58.20 L387.40 58.18 L387.60 58.16 L387.80 58.13 L388.00 58.09 L388.20 58.05 L388.40 58.01 L388.60 57.97 L388.80 57.94 L389.00 57.92 L389.20 57.90 L389.40 57.91 L389.60 57.94 L389.80 58.02 L390.00 58.12 L390.20 58.24 L390.40 58.38 L390.60 58.53 L390.80 58.67 L391.00 58.82 L391.20 58.96 L391.40 59.08 L391.60 59.18 L391.80 59.26 L392.00 59.29 L392.20 59.28 L392.40 59.11 L392.60 58.80 L392.80 58.37 L393.00 57.85 L393.20 57.26 L393.40 56.64 L393.60 56.00 L393.80 55.12 L394.00 53.87 L394.20 52.42 L394.40 50.95 L394.60 49.64 L394.80 48.67 L395.00 48.20 L395.20 48.06 L395.40 47.94 L395.60 47.84 L395.80 47.76 L396.00 47.72 L396.20 47.70 L396.40 47.87 L396.60 48.33 L396.80 48.99 L397.00 49.75 L397.20 50.54 L397.40 51.25 L397.60 51.80 L397.80 52.26 L398.00 52.73 L398.20 53.20 L398.40 53.64 L398.60 54.02 L398.80 54.33 L399.00 54.53 L399.20 54.60 L399.40 54.54 L399.60 54.38 L399.80 54.13 L400.00 53.81 L400.20 53.46 L400.40 53.08 L400.60 52.69 L400.80 52.33 L401.00 52.00 L401.20 51.67 L401.40 51.30 L401.60 50.90 L401.80 50.48 L402.00 50.06 L402.20 49.65 L402.40 49.26 L402.60 48.92 L402.80 48.62 L403.00 48.40 L403.20 48.25 L403.40 48.20 L403.60 48.24 L403.80 48.34 L404.00 48.49 L404.20 48.67 L404.40 48.89 L404.60 49.16 L404.80 49.68 L405.00 50.40 L405.20 51.20 L405.40 51.96 L405.60 52.58 L405.80 52.95 L406.00 52.94 L406.20 52.51 L406.40 51.74 L406.60 50.72 L406.80 49.54 L407.00 48.28 L407.20 47.05 L407.40 45.92 L407.60 45.00 L407.80 44.13 L408.00 43.20 L408.20 42.35 L408.40 41.74 L408.60 41.50 L408.80 41.86 L409.00 42.81 L409.20 44.13 L409.40 45.64 L409.60 47.17 L409.80 48.89 L410.00 50.94 L410.20 53.41 L410.40 56.40 L410.60 60.00 L410.80 66.00 L411.00 75.02 L411.20 85.41 L411.40 95.55 L411.60 103.92 L411.80 110.85 L412.00 117.55 L412.20 125.20 L412.40 135.00 L412.60 150.90 L412.80 152.02 L413.00 152.89 L413.20 153.52 L413.40 153.95 L413.60 154.22 L413.80 154.36 L414.00 154.40 L414.20 154.06 L414.40 153.14 L414.60 151.83 L414.80 150.30 L415.00 148.72 L415.20 147.28 L415.40 146.14 L415.60 145.49 L415.80 145.40 L416.00 145.42 L416.20 145.47 L416.40 145.53 L416.60 145.61 L416.80 145.70 L417.00 146.05 L417.20 146.80 L417.40 147.81 L417.60 148.94 L417.80 150.06 L418.00 151.02 L418.20 151.74 L418.40 152.43 L418.60 153.13 L418.80 153.84 L419.00 154.54 L419.20 155.23 L419.40 155.88 L419.60 156.51 L419.80 157.09 L420.00 157.61 L420.20 158.07 L420.40 158.46 L420.60 158.76 L420.80 158.97 L421.00 159.09 L421.20 159.09 L421.40 159.00 L421.60 158.84 L421.80 158.61 L422.00 158.32 L422.20 157.98 L422.40 157.60 L422.60 157.19 L422.80 156.75 L423.00 156.31 L423.20 155.87 L423.40 155.43 L423.60 155.01 L423.80 154.61 L424.00 154.25 L424.20 153.93 L424.40 153.67 L424.60 153.47 L424.80 153.34 L425.00 153.30 L425.20 153.35 L425.40 153.50 L425.60 153.73 L425.80 154.05 L426.00 154.43 L426.20 154.87 L426.40 155.36 L426.60 155.89 L426.80 156.46 L427.00 157.05 L427.20 157.65 L427.40 158.25 L427.60 158.85 L427.80 159.44 L428.00 160.01 L428.20 160.54 L428.40 161.03 L428.60 161.47 L428.80 161.85 L429.00 162.17 L429.20 162.40 L429.40 162.55 L429.60 162.60 L429.80 162.58 L430.00 162.52 L430.20 162.43 L430.40 162.29 L430.60 162.12 L430.80 161.91 L431.00 161.67 L431.20 161.38 L431.40 161.06 L431.60 160.70 L431.80 160.31 L432.00 159.88 L432.20 159.41 L432.40 158.91 L432.60 158.37 L432.80 157.79 L433.00 157.18 L433.20 156.54 L433.40 155.85 L433.50 155.50 L433.71 155.54 L433.91 155.66 L434.12 155.85 L434.32 156.12 L434.53 156.45 L434.73 156.84 L434.94 157.28 L435.14 157.75 L435.35 158.26 L435.55 158.78 L435.76 159.32 L435.96 159.84 L436.17 160.35 L436.37 160.82 L436.58 161.26 L436.78 161.65 L436.99 161.98 L437.19 162.25 L437.40 162.44 L437.60 162.56 L437.81 162.60 L438.01 162.56 L438.22 162.44 L438.42 162.24 L438.62 161.97 L438.83 161.64 L439.03 161.24 L439.23 160.80 L439.44 160.32 L439.64 159.80 L439.84 159.27 L440.05 158.73 L440.25 158.20 L440.45 157.68 L440.66 157.20 L440.86 156.76 L441.06 156.36 L441.27 156.03 L441.47 155.76 L441.67 155.56 L441.88 155.44 L442.08 155.40 L442.28 155.44 L442.49 155.56 L442.69 155.76 L442.89 156.03 L443.10 156.36 L443.30 156.76 L443.50 157.20 L443.71 157.68 L443.91 158.20 L444.11 158.73 L444.32 159.27 L444.52 159.80 L444.72 160.32 L444.93 160.80 L445.13 161.24 L445.33 161.64 L445.54 161.97 L445.74 162.24 L445.94 162.44 L446.15 162.56 L446.35 162.60 L446.55 162.56 L446.76 162.44 L446.96 162.24 L447.16 161.97 L447.37 161.64 L447.57 161.24 L447.77 160.80 L447.98 160.32 L448.18 159.80 L448.38 159.27 L448.59 158.73 L448.79 158.20 L448.99 157.68 L449.20 157.20 L449.40 156.76 L449.60 156.36 L449.81 156.03 L450.01 155.76 L450.21 155.56 L450.42 155.44 L450.62 155.40 L450.82 155.44 L451.03 155.56 L451.23 155.76 L451.43 156.03 L451.64 156.36 L451.84 156.76 L452.04 157.20 L452.25 157.68 L452.45 158.20 L452.65 158.73 L452.86 159.27 L453.06 159.80 L453.26 160.32 L453.47 160.80 L453.67 161.24 L453.87 161.64 L454.08 161.97 L454.28 162.24 L454.48 162.44 L454.69 162.56 L454.89 162.60 L455.09 162.56 L455.30 162.44 L455.50 162.24 L455.70 161.97 L455.91 161.64 L456.11 161.24 L456.31 160.80 L456.52 160.32 L456.72 159.80 L456.92 159.27 L457.13 158.73 L457.33 158.20 L457.53 157.68 L457.74 157.20 L457.94 156.76 L458.14 156.36 L458.35 156.03 L458.55 155.76 L458.75 155.56 L458.96 155.44 L459.16 155.40 L459.36 155.44 L459.57 155.56 L459.77 155.76 L459.97 156.03 L460.18 156.36 L460.38 156.76 L460.58 157.20 L460.79 157.68 L460.99 158.20 L461.19 158.73 L461.40 159.27 L461.60 159.80 L461.80 160.32 L462.01 160.80 L462.21 161.24 L462.41 161.64 L462.62 161.97 L462.82 162.24 L463.02 162.44 L463.23 162.56 L463.43 162.60 L463.63 162.56 L463.84 162.44 L464.04 162.24 L464.24 161.97 L464.45 161.64 L464.65 161.24 L464.85 160.80 L465.06 160.32 L465.26 159.80 L465.46 159.27 L465.67 158.73 L465.87 158.20 L466.07 157.68 L466.28 157.20 L466.48 156.76 L466.68 156.36 L466.89 156.03 L467.09 155.76 L467.29 155.56 L467.50 155.44 L467.70 155.40 L467.90 155.44 L468.11 155.56 L468.31 155.76 L468.51 156.03 L468.72 156.36 L468.92 156.76 L469.12 157.20 L469.33 157.68 L469.53 158.20 L469.73 158.73 L469.94 159.27 L470.14 159.80 L470.34 160.32 L470.55 160.80 L470.75 161.24 L470.95 161.64 L471.16 161.97 L471.36 162.24 L471.56 162.44 L471.77 162.56 L471.97 162.60 L472.17 162.56 L472.38 162.44 L472.58 162.24 L472.78 161.97 L472.99 161.64 L473.19 161.24 L473.39 160.80 L473.60 160.32 L473.80 159.80 L474.00 159.27 L474.21 158.73 L474.41 158.20 L474.61 157.68 L474.82 157.20 L475.02 156.76 L475.22 156.36 L475.43 156.03 L475.63 155.76 L475.83 155.56 L476.04 155.44 L476.24 155.40 L476.44 155.44 L476.65 155.56 L476.85 155.76 L477.05 156.03 L477.26 156.36 L477.46 156.76 L477.66 157.20 L477.87 157.68 L478.07 158.20 L478.27 158.73 L478.48 159.27 L478.68 159.80 L478.88 160.32 L479.09 160.80 L479.29 161.24 L479.49 161.64 L479.70 161.97 L479.90 162.24 L480.10 162.44 L480.31 162.56 L480.51 162.60 L480.71 162.56 L480.92 162.44 L481.12 162.24 L481.32 161.97 L481.53 161.64 L481.73 161.24 L481.93 160.80 L482.14 160.32 L482.34 159.80 L482.54 159.27 L482.75 158.73 L482.95 158.20 L483.15 157.68 L483.36 157.20 L483.56 156.76 L483.76 156.36 L483.97 156.03 L484.17 155.76 L484.37 155.56 L484.58 155.44 L484.78 155.40 L484.98 155.44 L485.19 155.56 L485.39 155.76 L485.59 156.03 L485.80 156.36 L486.00 156.76 L486.20 157.20 L486.41 157.68 L486.61 158.20 L486.81 158.73 L487.02 159.27 L487.22 159.80 L487.42 160.32 L487.63 160.80 L487.83 161.24 L488.03 161.64 L488.24 161.97 L488.44 162.24 L488.64 162.44 L488.85 162.56 L489.05 162.60 L489.25 162.56 L489.46 162.44 L489.66 162.24 L489.86 161.97 L490.07 161.64 L490.27 161.24 L490.47 160.80 L490.68 160.32 L490.88 159.80 L491.08 159.27 L491.29 158.73 L491.49 158.20 L491.69 157.68 L491.90 157.20 L492.10 156.76 L492.30 156.36 L492.51 156.03 L492.71 155.76 L492.91 155.56 L493.12 155.44 L493.32 155.40 L493.52 155.44 L493.73 155.56 L493.93 155.76 L494.13 156.03 L494.34 156.36 L494.54 156.76 L494.74 157.20 L494.95 157.68 L495.15 158.20 L495.35 158.73 L495.56 159.27 L495.76 159.80 L495.96 160.32 L496.17 160.80 L496.37 161.24 L496.57 161.64 L496.78 161.97 L496.98 162.24 L497.18 162.44 L497.39 162.56 L497.59 162.60 L497.79 162.56 L498.00 162.44 L498.20 162.24 L498.40 161.97 L498.61 161.64 L498.81 161.24 L499.01 160.80 L499.22 160.32 L499.42 159.80 L499.62 159.27 L499.83 158.73 L500.03 158.20 L500.23 157.68 L500.44 157.20 L500.64 156.76 L500.84 156.36 L501.05 156.03 L501.25 155.76 L501.45 155.56 L501.66 155.44 L501.86 155.40 L502.06 155.44 L502.27 155.56 L502.47 155.76 L502.67 156.03 L502.88 156.36 L503.08 156.76 L503.28 157.20 L503.49 157.68 L503.69 158.20 L503.89 158.73 L504.10 159.27 L504.30 159.80 L504.50 160.32 L504.71 160.80 L504.91 161.24 L505.11 161.64 L505.32 161.97 L505.52 162.24 L505.72 162.44 L505.93 162.56 L506.13 162.60 L506.33 162.56 L506.54 162.44 L506.74 162.24 L506.94 161.97 L507.15 161.64 L507.35 161.24 L507.55 160.80 L507.76 160.32 L507.96 159.80 L508.16 159.27 L508.37 158.73 L508.57 158.20 L508.77 157.68 L508.98 157.20 L509.18 156.76 L509.38 156.36 L509.59 156.03 L509.79 155.76 L509.99 155.56 L510.20 155.44 L510.40 155.40 L510.60 155.44 L510.81 155.56 L511.01 155.76 L511.21 156.03 L511.42 156.36 L511.62 156.76 L511.82 157.20 L512.03 157.68 L512.23 158.20 L512.43 158.73 L512.64 159.27 L512.84 159.80 L513.04 160.32 L513.25 160.80 L513.45 161.24 L513.65 161.64 L513.86 161.97 L514.06 162.24 L514.26 162.44 L514.47 162.56 L514.67 162.60 L514.87 162.56 L515.08 162.44 L515.28 162.24 L515.48 161.97 L515.69 161.64 L515.89 161.24 L516.09 160.80 L516.30 160.32 L516.50 159.80 L516.70 159.27 L516.91 158.73 L517.11 158.20 L517.31 157.68 L517.52 157.20 L517.72 156.76 L517.92 156.36 L518.13 156.03 L518.33 155.76 L518.53 155.56 L518.74 155.44 L518.94 155.40 L519.14 155.44 L519.35 155.56 L519.55 155.76 L519.75 156.03 L519.96 156.36 L520.16 156.76 L520.36 157.20 L520.57 157.68 L520.77 158.20 L520.97 158.73 L521.18 159.27 L521.38 159.80 L521.58 160.32 L521.79 160.80 L521.99 161.24 L522.19 161.64 L522.40 161.97 L522.60 162.24 L522.80 162.44 L523.01 162.56 L523.21 162.60 L523.41 162.56 L523.62 162.44 L523.82 162.24 L524.02 161.97 L524.23 161.64 L524.43 161.24 L524.63 160.80 L524.84 160.32 L525.04 159.80 L525.24 159.27 L525.45 158.73 L525.65 158.20 L525.85 157.68 L526.06 157.20 L526.26 156.76 L526.46 156.36 L526.67 156.03 L526.87 155.76 L527.07 155.56 L527.28 155.44 L527.48 155.40 L527.68 155.44 L527.89 155.56 L528.09 155.76 L528.29 156.03 L528.50 156.36 L528.70 156.76 L528.90 157.20 L529.11 157.68 L529.31 158.20 L529.51 158.73 L529.72 159.27 L529.92 159.80 L530.12 160.32 L530.33 160.80 L530.53 161.24 L530.73 161.64 L530.94 161.97 L531.14 162.24 L531.34 162.44 L531.55 162.56 L531.75 162.60 L531.95 162.56 L532.16 162.44 L532.36 162.24 L532.56 161.97 L532.77 161.64 L532.97 161.24 L533.17 160.80 L533.38 160.32 L533.58 159.80 L533.78 159.27 L533.99 158.73 L534.19 158.20 L534.39 157.68 L534.60 157.20 L534.80 156.76 L535.00 156.36 L535.21 156.03 L535.41 155.76 L535.61 155.56 L535.82 155.44 L536.02 155.40 L536.22 155.44 L536.43 155.56 L536.63 155.76 L536.83 156.03 L537.04 156.36 L537.24 156.76 L537.44 157.20 L537.65 157.68 L537.85 158.20 L538.05 158.73 L538.26 159.27 L538.46 159.80 L538.66 160.32 L538.87 160.80 L539.07 161.24 L539.27 161.64 L539.48 161.97 L539.68 162.24 L539.88 162.44 L540.09 162.56 L540.29 162.60 L540.49 162.56 L540.70 162.44 L540.90 162.24 L541.10 161.97 L541.31 161.64 L541.51 161.24 L541.71 160.80 L541.92 160.32 L542.12 159.80 L542.32 159.27 L542.53 158.73 L542.73 158.20 L542.93 157.68 L543.14 157.20 L543.34 156.76 L543.54 156.36 L543.75 156.03 L543.95 155.76 L544.15 155.56 L544.36 155.44 L544.56 155.40 L544.76 155.44 L544.97 155.56 L545.17 155.76 L545.37 156.03 L545.58 156.36 L545.78 156.76 L545.98 157.20 L546.19 157.68 L546.39 158.20 L546.59 158.73 L546.80 159.27 L547.00 159.80 L547.20 160.32 L547.41 160.80 L547.61 161.24 L547.81 161.64 L548.02 161.97 L548.22 162.24 L548.42 162.44 L548.63 162.56 L548.83 162.60 L549.03 162.56 L549.24 162.44 L549.44 162.24 L549.64 161.97 L549.85 161.64 L550.05 161.24 L550.25 160.80 L550.46 160.32 L550.66 159.80 L550.86 159.27 L551.07 158.73 L551.27 158.20 L551.47 157.68 L551.68 157.20 L551.88 156.76 L552.08 156.36 L552.29 156.03 L552.49 155.76 L552.69 155.56 L552.90 155.44 L553.10 155.40 L553.30 155.44 L553.51 155.56 L553.71 155.76 L553.91 156.03 L554.12 156.36 L554.32 156.76 L554.52 157.20 L554.73 157.68 L554.93 158.20 L555.13 158.73 L555.34 159.27 L555.54 159.80 L555.74 160.32 L555.95 160.80 L556.15 161.24 L556.35 161.64 L556.56 161.97 L556.76 162.24 L556.96 162.44 L557.17 162.56 L557.37 162.60 L557.57 162.56 L557.78 162.44 L557.98 162.24 L558.18 161.97 L558.39 161.64 L558.59 161.24 L558.79 160.80 L559.00 160.32 L559.20 159.80 L559.40 159.27 L559.61 158.73 L559.81 158.20 L560.01 157.68 L560.22 157.20 L560.42 156.76 L560.62 156.36 L560.83 156.03 L561.03 155.76 L561.23 155.56 L561.44 155.44 L561.64 155.40 L561.84 155.44 L562.05 155.56 L562.25 155.76 L562.45 156.03 L562.66 156.36 L562.86 156.76 L563.06 157.20 L563.27 157.68 L563.47 158.20 L563.67 158.73 L563.88 159.27 L564.08 159.80 L564.28 160.32 L564.49 160.80 L564.69 161.24 L564.89 161.64 L565.10 161.97 L565.30 162.24 L565.50 162.44 L565.71 162.56 L565.91 162.60 L566.11 162.56 L566.32 162.44 L566.52 162.24 L566.72 161.97 L566.93 161.64 L567.13 161.24 L567.33 160.80 L567.54 160.32 L567.74 159.80 L567.94 159.27 L568.15 158.73 L568.35 158.20 L568.55 157.68 L568.76 157.20 L568.96 156.76 L569.16 156.36 L569.37 156.03 L569.57 155.76 L569.77 155.56 L569.98 155.44 L570.18 155.40 L570.38 155.44 L570.59 155.56 L570.79 155.76 L570.99 156.03 L571.20 156.36 L571.40 156.76 L571.60 157.20 L571.81 157.68 L572.01 158.20 L572.21 158.73 L572.42 159.27 L572.62 159.80 L572.82 160.32 L573.03 160.80 L573.23 161.24 L573.43 161.64 L573.64 161.97 L573.84 162.24 L574.04 162.44 L574.25 162.56 L574.45 162.60 L574.65 162.56 L574.86 162.44 L575.06 162.24 L575.26 161.97 L575.47 161.64 L575.67 161.24 L575.87 160.80 L576.08 160.32 L576.28 159.80 L576.48 159.27 L576.69 158.73 L576.89 158.20 L577.09 157.68 L577.30 157.20 L577.50 156.76 L577.70 156.36 L577.91 156.03 L578.11 155.76 L578.31 155.56 L578.52 155.44 L578.72 155.40 L578.92 155.44 L579.13 155.56 L579.33 155.76 L579.53 156.03 L579.74 156.36 L579.94 156.76 L580.14 157.20 L580.35 157.68 L580.55 158.20 L580.75 158.73 L580.96 159.27 L581.16 159.80 L581.36 160.32 L581.57 160.80 L581.77 161.24 L581.97 161.64 L582.18 161.97 L582.38 162.24 L582.58 162.44 L582.79 162.56 L582.99 162.60 L583.19 162.56 L583.40 162.44 L583.60 162.24 L583.80 161.97 L584.01 161.64 L584.21 161.24 L584.41 160.80 L584.62 160.32 L584.82 159.80 L585.02 159.27 L585.23 158.73 L585.43 158.20 L585.63 157.68 L585.84 157.20 L586.04 156.76 L586.24 156.36 L586.45 156.03 L586.65 155.76 L586.85 155.56 L587.06 155.44 L587.26 155.40 L587.46 155.44 L587.67 155.56 L587.87 155.76 L588.07 156.03 L588.28 156.36 L588.48 156.76 L588.68 157.20 L588.89 157.68 L589.09 158.20 L589.29 158.73 L589.50 159.27 L589.70 159.80 L589.90 160.32 L590.11 160.80 L590.31 161.24 L590.51 161.64 L590.72 161.97 L590.92 162.24 L591.12 162.44 L591.33 162.56 L591.53 162.60 L591.73 162.56 L591.94 162.44 L592.14 162.24 L592.34 161.97 L592.55 161.64 L592.75 161.24 L592.95 160.80 L593.16 160.32 L593.36 159.80 L593.56 159.27 L593.77 158.73 L593.97 158.20 L594.17 157.68 L594.38 157.20 L594.58 156.76 L594.78 156.36 L594.99 156.03 L595.19 155.76 L595.39 155.56 L595.60 155.44 L595.80 155.40 L596.00 155.44 L596.21 155.56 L596.41 155.76 L596.61 156.03 L596.82 156.36 L597.02 156.76 L597.22 157.20 L597.43 157.68 L597.63 158.20 L597.83 158.73 L598.04 159.27 L598.24 159.80 L598.44 160.32 L598.65 160.80 L598.85 161.24 L599.05 161.64 L599.26 161.97 L599.46 162.24 L599.66 162.44 L599.87 162.56 L600.07 162.60 L600.27 162.56 L600.48 162.44 L600.68 162.24 L600.88 161.97 L601.09 161.64 L601.29 161.24 L601.49 160.80 L601.70 160.32 L601.90 159.80 L602.10 159.27 L602.31 158.73 L602.51 158.20 L602.71 157.68 L602.92 157.20 L603.12 156.76 L603.32 156.36 L603.53 156.03 L603.73 155.76 L603.93 155.56 L604.14 155.44 L604.34 155.40 L604.54 155.44 L604.75 155.56 L604.95 155.76 L605.15 156.03 L605.36 156.36 L605.56 156.76 L605.76 157.20 L605.97 157.68 L606.17 158.20 L606.37 158.73 L606.58 159.27 L606.78 159.80 L606.98 160.32 L607.19 160.80 L607.39 161.24 L607.59 161.64 L607.80 161.97 L608.00 162.24 L608.20 162.44 L608.41 162.56 L608.61 162.60 L608.81 162.56 L609.02 162.44 L609.22 162.24 L609.42 161.97 L609.63 161.64 L609.83 161.24 L610.03 160.80 L610.24 160.32 L610.44 159.80 L610.64 159.27 L610.85 158.73 L611.05 158.20 L611.25 157.68 L611.46 157.20 L611.66 156.76 L611.86 156.36 L612.07 156.03 L612.27 155.76 L612.47 155.56 L612.68 155.44 L612.88 155.40 L613.08 155.44 L613.29 155.56 L613.49 155.76 L613.69 156.03 L613.90 156.36 L614.10 156.76 L614.30 157.20 L614.51 157.68 L614.71 158.20 L614.91 158.73 L615.12 159.27 L615.32 159.80 L615.52 160.32 L615.73 160.80 L615.93 161.24 L616.13 161.64 L616.34 161.97 L616.54 162.24 L616.74 162.44 L616.95 162.56 L617.15 162.60 L617.35 162.56 L617.56 162.44 L617.76 162.24 L617.96 161.97 L618.17 161.64 L618.37 161.24 L618.57 160.80 L618.78 160.32 L618.98 159.80 L619.18 159.27 L619.39 158.73 L619.59 158.20 L619.79 157.68 L620.00 157.20 L620.20 156.76 L620.40 156.36 L620.61 156.03 L620.81 155.76 L621.01 155.56 L621.22 155.44 L621.42 155.40 L621.62 155.44 L621.83 155.56 L622.03 155.76 L622.23 156.03 L622.44 156.36 L622.64 156.76 L622.84 157.20 L623.05 157.68 L623.25 158.20 L623.45 158.73 L623.66 159.27 L623.86 159.80 L624.06 160.32 L624.27 160.80 L624.47 161.24 L624.67 161.64 L624.88 161.97 L625.08 162.24 L625.28 162.44 L625.49 162.56 L625.69 162.60 L625.89 162.56 L626.10 162.44 L626.30 162.24 L626.50 161.97 L626.71 161.64 L626.91 161.24 L627.11 160.80 L627.32 160.32 L627.52 159.80 L627.72 159.27 L627.93 158.73 L628.13 158.20 L628.33 157.68 L628.54 157.20 L628.74 156.76 L628.94 156.36 L629.15 156.03 L629.35 155.76 L629.55 155.56 L629.76 155.44 L629.96 155.40 L630.16 155.44 L630.37 155.56 L630.57 155.76 L630.77 156.03 L630.98 156.36 L631.18 156.76 L631.38 157.20 L631.59 157.68 L631.79 158.20 L631.99 158.73 L632.20 159.27 L632.40 159.80 L632.60 160.32 L632.81 160.80 L633.01 161.24 L633.21 161.64 L633.42 161.97 L633.62 162.24 L633.82 162.44 L634.03 162.56 L634.23 162.60 L634.43 162.56 L634.64 162.44 L634.84 162.24 L635.04 161.97 L635.25 161.64 L635.45 161.24 L635.65 160.80 L635.86 160.32 L636.06 159.80 L636.26 159.27 L636.47 158.73 L636.67 158.20 L636.87 157.68 L637.08 157.20 L637.28 156.76 L637.48 156.36 L637.69 156.03 L637.89 155.76 L638.09 155.56 L638.30 155.44 L638.50 155.40 L638.70 155.44 L638.91 155.56 L639.11 155.76 L639.31 156.03 L639.52 156.36 L639.72 156.76 L639.92 157.20 L640.13 157.68 L640.33 158.20 L640.53 158.73 L640.74 159.27 L640.94 159.80 L641.14 160.32 L641.35 160.80 L641.55 161.24 L641.75 161.64 L641.96 161.97 L642.16 162.24 L642.36 162.44 L642.57 162.56 L642.77 162.60 L642.97 162.56 L643.18 162.44 L643.38 162.24 L643.58 161.97 L643.79 161.64 L643.99 161.24 L644.19 160.80 L644.40 160.32 L644.60 159.80 L644.80 159.27 L645.01 158.73 L645.21 158.20 L645.41 157.68 L645.62 157.20 L645.82 156.76 L646.02 156.36 L646.23 156.03 L646.43 155.76 L646.63 155.56 L646.84 155.44 L647.04 155.40 L647.24 155.44 L647.45 155.56 L647.65 155.76 L647.85 156.03 L648.06 156.36 L648.26 156.76 L648.46 157.20 L648.67 157.68 L648.87 158.20 L649.07 158.73 L649.28 159.27 L649.48 159.80 L649.68 160.32 L649.89 160.80 L650.09 161.24 L650.29 161.64 L650.50 161.97 L650.70 162.24 L650.90 162.44 L651.11 162.56 L651.31 162.60 L651.51 162.56 L651.72 162.44 L651.92 162.24 L652.12 161.97 L652.33 161.64" fill="none" stroke="#D95319" stroke-width="0.80" stroke-linejoin="round"/>
<path d="M378.70 185.00 L378.90 191.06 L379.10 197.04 L379.30 203.19 L379.50 210.52 L379.70 218.03 L379.90 224.35 L380.10 228.16 L380.30 228.61 L380.50 227.93 L380.70 226.77 L380.90 225.30 L381.10 223.72 L381.30 222.23 L381.50 221.00 L381.70 219.98 L381.90 218.98 L382.10 218.00 L382.30 217.04 L382.50 216.11 L382.70 215.19 L382.90 214.31 L383.10 213.45 L383.30 212.63 L383.50 211.83 L383.70 211.07 L383.90 210.35 L384.10 209.65 L384.30 208.95 L384.50 208.25 L384.70 207.56 L384.90 206.90 L385.10 206.28 L385.30 205.70 L385.50 205.20 L385.70 204.77 L385.90 204.43 L386.10 204.18 L386.30 203.96 L386.50 203.75 L386.70 203.57 L386.90 203.43 L387.10 203.33 L387.30 203.30 L387.50 203.34 L387.70 203.46 L387.90 203.64 L388.10 203.86 L388.30 204.11 L388.50 204.37 L388.70 204.64 L388.90 204.97 L389.10 205.38 L389.30 205.83 L389.50 206.32 L389.70 206.83 L389.90 207.35 L390.10 207.86 L390.30 208.35 L390.50 208.80 L390.70 209.20 L390.90 209.60 L391.10 209.99 L391.30 210.39 L391.50 210.78 L391.70 211.16 L391.90 211.53 L392.10 211.88 L392.30 212.22 L392.50 212.53 L392.70 212.82 L392.90 213.08 L393.10 213.32 L393.30 213.55 L393.50 213.79 L393.70 214.02 L393.90 214.24 L394.10 214.45 L394.30 214.64 L394.50 214.81 L394.70 214.95 L394.90 215.07 L395.10 215.15 L395.30 215.20 L395.50 215.23 L395.70 215.25 L395.90 215.27 L396.10 215.30 L396.30 215.32 L396.50 215.34 L396.70 215.36 L396.90 215.37 L397.10 215.39 L397.30 215.40 L397.50 215.42 L397.70 215.43 L397.90 215.44 L398.10 215.45 L398.30 215.46 L398.50 215.47 L398.70 215.48 L398.90 215.48 L399.10 215.49 L399.30 215.49 L399.50 215.50 L399.70 215.50 L399.90 215.50 L400.10 215.50 L400.30 215.50 L400.50 215.50 L400.70 215.50 L400.90 215.50 L401.10 215.49 L401.30 215.49 L401.50 215.49 L401.70 215.48 L401.90 215.48 L402.10 215.47 L402.30 215.47 L402.50 215.46 L402.70 215.45 L402.90 215.45 L403.10 215.44 L403.30 215.43 L403.50 215.42 L403.70 215.41 L403.90 215.38 L404.10 215.29 L404.30 215.15 L404.50 214.98 L404.70 214.81 L404.90 214.67 L405.10 214.60 L405.30 214.57 L405.50 214.54 L405.70 214.52 L405.90 214.50 L406.10 214.49 L406.30 214.47 L406.50 214.46 L406.70 214.45 L406.90 214.44 L407.10 214.43 L407.30 214.42 L407.50 214.41 L407.70 214.39 L407.90 214.37 L408.10 214.35 L408.30 214.32 L408.50 214.28 L408.70 214.21 L408.90 214.11 L409.10 213.99 L409.30 213.85 L409.50 213.69 L409.70 213.50 L409.90 213.25 L410.10 212.94 L410.30 212.58 L410.50 212.16 L410.70 211.72 L410.90 211.24 L411.10 210.75 L411.30 210.22 L411.50 209.63 L411.70 208.98 L411.90 208.25 L412.10 207.44 L412.30 206.52 L412.50 205.50 L412.70 204.17 L412.90 202.41 L413.10 200.34 L413.30 198.06 L413.50 195.68 L413.70 193.30 L413.90 191.05 L414.10 188.99 L414.30 186.97 L414.50 184.96 L414.70 182.97 L414.90 180.98 L415.10 178.99 L415.30 177.00 L415.50 175.00 L415.70 172.97 L415.90 170.91 L416.10 168.82 L416.30 166.73 L416.50 164.64 L416.70 162.59 L416.90 160.58 L417.10 158.63 L417.30 156.77 L417.50 155.00 L417.70 153.31 L417.90 151.67 L418.10 150.08 L418.30 148.53 L418.50 147.02 L418.70 145.55 L418.90 144.12" fill="none" stroke="#0072BD" stroke-width="0.80" stroke-linejoin="round"/>
<path d="M418.70 145.55 L418.90 144.12 L419.10 142.72 L419.30 141.35 L419.50 140.00 L419.70 138.63 L419.90 137.21 L420.10 135.77 L420.30 134.35 L420.50 132.98 L420.70 131.69 L420.90 130.51 L421.10 129.48 L421.30 128.63 L421.50 128.00 L421.70 127.49 L421.90 127.00 L422.10 126.53 L422.30 126.11 L422.50 125.74 L422.70 125.43 L422.90 125.20 L423.10 125.05 L423.30 125.00 L423.50 125.04 L423.70 125.14 L423.90 125.31 L424.10 125.53 L424.30 125.80 L424.50 126.11 L424.70 126.44 L424.90 126.80 L425.10 127.17 L425.30 127.54 L425.50 127.92 L425.70 128.28 L425.90 128.63 L426.10 128.95 L426.30 129.24 L426.50 129.48 L426.70 129.68 L426.90 129.82 L427.10 129.89 L427.30 129.88 L427.50 129.76 L427.70 129.53 L427.90 129.21 L428.10 128.81 L428.30 128.34 L428.50 127.82 L428.70 127.27 L428.90 126.69 L429.10 126.11 L429.30 125.53 L429.50 124.98 L429.70 124.46 L429.90 123.99 L430.10 123.59 L430.30 123.27 L430.50 123.04 L430.70 122.92 L430.90 122.91 L431.10 122.99 L431.30 123.13 L431.50 123.34 L431.70 123.60 L431.90 123.90 L432.10 124.23 L432.30 124.59 L432.50 124.96 L432.70 125.35 L432.90 125.72 L433.10 126.09 L433.30 126.44 L433.50 126.76 L433.70 127.04 L433.90 127.27 L434.10 127.45 L434.30 127.56 L434.50 127.60 L434.70 127.39 L434.90 126.81 L435.10 125.93 L435.30 124.81 L435.50 123.53 L435.70 122.15 L435.90 120.74 L436.10 119.36 L436.30 118.09 L436.50 117.00 L436.70 115.98 L436.90 114.90 L437.10 113.80 L437.30 112.71 L437.50 111.67 L437.70 110.72 L437.90 109.88 L438.10 109.20 L438.30 108.70 L438.50 108.31 L438.70 107.94 L438.90 107.61 L439.10 107.32 L439.30 107.10 L439.50 106.95 L439.70 106.90 L439.90 107.02 L440.10 107.36 L440.30 107.88 L440.50 108.55 L440.70 109.34 L440.90 110.21 L441.10 111.13 L441.30 112.07 L441.50 112.99 L441.70 113.86 L441.90 114.65 L442.10 115.32 L442.30 115.84 L442.50 116.18 L442.70 116.30 L442.90 116.17 L443.10 115.79 L443.30 115.20 L443.50 114.41 L443.70 113.47 L443.90 112.39 L444.10 111.21 L444.30 109.95 L444.50 108.65 L444.70 107.32 L444.90 106.00 L445.10 104.71 L445.30 103.49 L445.50 102.35 L445.70 101.34 L445.90 100.47 L446.10 99.78 L446.30 99.29 L446.50 99.03 L446.70 99.01 L446.90 99.06 L447.10 99.17 L447.30 99.35 L447.50 99.58 L447.70 99.87 L447.90 100.23 L448.10 100.66 L448.30 101.15 L448.50 101.72 L448.70 102.36 L448.90 103.07 L449.10 103.86 L449.30 104.73 L449.50 105.68 L449.70 106.71 L449.90 107.83 L450.10 109.03 L450.30 110.32 L450.40 111.07 L450.55 110.22 L450.70 109.94 L450.85 109.65 L451.00 108.98 L451.15 108.17 L451.30 107.33 L451.45 107.03 L451.60 107.39 L451.75 107.76 L451.90 106.84 L452.05 105.61 L452.20 104.93 L452.35 104.18 L452.50 103.53 L452.65 103.32 L452.80 103.12 L452.95 102.77 L453.10 102.38 L453.25 101.71 L453.40 101.28 L453.55 101.06 L453.70 100.16 L453.85 99.11 L454.00 98.75 L454.15 99.09 L454.30 99.35 L454.45 99.10 L454.60 99.41 L454.75 100.10 L454.90 100.38 L455.05 101.07 L455.20 102.08 L455.35 102.59 L455.50 102.94 L455.65 102.93 L455.80 103.01 L455.95 103.97 L456.10 104.42 L456.25 104.72 L456.40 105.87 L456.55 106.64 L456.70 106.66 L456.85 106.88 L457.00 107.61 L457.15 108.56 L457.30 109.52 L457.45 110.04 L457.60 110.45 L457.75 110.88 L457.90 110.71 L458.05 110.53 L458.20 110.73 L458.35 110.45 L458.50 109.54 L458.65 108.78 L458.80 107.98 L458.95 107.22 L459.10 107.34 L459.25 107.00 L459.40 106.07 L459.55 105.64 L459.70 105.36 L459.85 104.75 L460.00 103.64 L460.15 103.18 L460.30 103.43 L460.45 102.72 L460.60 101.38 L460.75 100.96 L460.90 100.74 L461.05 100.24 L461.20 99.62 L461.35 98.57 L461.50 97.76 L461.65 97.55 L461.80 97.76 L461.95 97.77 L462.10 97.56 L462.25 98.23 L462.40 99.74 L462.55 100.74 L462.70 101.34 L462.85 101.96 L463.00 102.16 L463.15 102.20 L463.30 102.56 L463.45 103.55 L463.60 104.50 L463.75 104.69 L463.90 105.09 L464.05 105.94 L464.20 106.72 L464.35 107.06 L464.50 106.85 L464.65 107.16 L464.80 108.44 L464.95 109.68 L465.10 110.22 L465.25 110.38 L465.40 110.59 L465.55 110.80 L465.70 110.85 L465.85 110.56 L466.00 109.89 L466.15 109.33 L466.30 108.92 L466.45 108.48 L466.60 108.37 L466.75 108.47 L466.90 108.07 L467.05 106.81 L467.20 105.38 L467.35 104.78 L467.50 104.62 L467.65 103.77 L467.80 102.91 L467.95 102.99 L468.10 102.57 L468.25 101.20 L468.40 100.33 L468.55 99.93 L468.70 99.63 L468.85 99.49 L469.00 99.00 L469.15 98.10 L469.30 97.64 L469.45 97.87 L469.60 98.43 L469.75 99.00 L469.90 99.30 L470.05 99.46 L470.20 99.98 L470.35 101.00 L470.50 102.17 L470.65 102.67 L470.80 102.72 L470.95 103.26 L471.10 103.98 L471.25 104.36 L471.40 104.90 L471.55 106.24 L471.70 107.20 L471.85 107.00 L472.00 106.76 L472.15 106.92 L472.30 107.60 L472.45 108.84 L472.60 109.73 L472.75 110.12 L472.90 110.53 L473.05 110.83 L473.20 110.60 L473.35 110.07 L473.50 109.90 L473.65 109.63 L473.80 108.89 L473.95 108.18 L474.10 107.65 L474.25 107.47 L474.40 107.29 L474.55 106.65 L474.70 106.22 L474.85 106.07 L475.00 105.83 L475.15 104.92 L475.30 103.70 L475.45 103.28 L475.60 102.92 L475.75 102.55 L475.90 102.46 L476.05 102.13 L476.20 101.42 L476.35 100.73 L476.50 100.14 L476.65 99.21 L476.80 98.71 L476.95 98.66 L477.10 98.91 L477.25 99.75 L477.40 100.53 L477.55 100.96 L477.70 100.97 L477.85 101.17 L478.00 101.95 L478.15 102.51 L478.30 102.79 L478.45 103.30 L478.60 104.13 L478.75 104.79 L478.90 105.15 L479.05 105.60 L479.20 105.77 L479.35 105.89 L479.50 106.29 L479.65 106.85 L479.80 107.87 L479.95 108.79 L480.10 109.30 L480.25 110.08 L480.40 110.82 L480.55 110.94 L480.70 110.83 L480.85 110.43 L481.00 110.08 L481.15 109.82 L481.30 109.23 L481.45 108.93 L481.60 108.73 L481.75 108.27 L481.90 107.44 L482.05 106.72 L482.20 106.39 L482.35 105.86 L482.50 105.36 L482.65 104.92 L482.80 104.34 L482.95 103.64 L483.10 103.02 L483.25 102.34 L483.40 101.67 L483.55 101.37 L483.70 101.25 L483.85 101.34 L484.00 100.64 L484.15 99.34 L484.30 98.99 L484.45 98.80 L484.60 98.62 L484.75 98.99 L484.90 99.05 L485.05 99.19 L485.20 100.09 L485.35 101.03 L485.50 101.46 L485.65 101.86 L485.80 102.74 L485.95 103.22 L486.10 103.14 L486.25 103.58 L486.40 104.32 L486.55 105.21 L486.70 106.20 L486.85 106.36 L487.00 106.17 L487.15 106.61 L487.30 107.78 L487.45 108.79 L487.60 108.94 L487.75 109.27 L487.90 109.95 L488.05 110.74 L488.20 111.33 L488.35 111.14 L488.50 110.92 L488.65 110.72 L488.80 110.00 L488.95 109.40 L489.10 109.19 L489.25 108.50 L489.40 107.54 L489.55 106.79 L489.70 106.48 L489.85 106.58 L490.00 106.42 L490.15 105.97 L490.30 105.45 L490.45 104.70 L490.60 104.00 L490.75 103.65 L490.90 103.15 L491.05 102.57 L491.20 102.37 L491.35 102.00 L491.50 101.06 L491.65 100.28 L491.80 100.23 L491.95 100.06 L492.10 99.32 L492.25 98.99 L492.40 99.46 L492.55 99.80 L492.70 99.88 L492.85 100.85 L493.00 101.74 L493.15 102.10 L493.30 102.86 L493.45 103.17 L493.60 103.20 L493.75 103.43 L493.90 103.63 L494.05 104.61 L494.20 105.69 L494.35 106.17 L494.50 106.81 L494.65 107.26 L494.80 107.58 L494.95 107.50 L495.10 107.34 L495.25 108.23 L495.40 109.15 L495.55 109.35 L495.70 109.81 L495.85 110.50 L496.00 110.34 L496.15 109.81 L496.30 109.89 L496.45 109.86 L496.60 109.32 L496.75 109.10 L496.90 108.74 L497.05 107.62 L497.20 106.46 L497.35 105.98 L497.50 106.08 L497.65 106.01 L497.80 105.46 L497.95 104.74 L498.10 104.06 L498.25 103.53 L498.40 102.97 L498.55 102.29 L498.70 101.50 L498.85 100.95 L499.00 100.65 L499.15 100.09 L499.30 99.77 L499.45 99.75 L499.60 99.95 L499.75 100.38 L499.90 100.02 L500.05 99.67 L500.20 100.27 L500.35 100.72 L500.50 101.16 L500.65 101.81 L500.80 101.56 L500.95 101.54 L501.10 102.67 L501.25 103.65 L501.40 104.23 L501.55 104.26 L501.70 104.70 L501.85 105.65 L502.00 105.95 L502.15 106.64 L502.30 107.51 L502.45 107.68 L502.60 107.89 L502.75 108.59 L502.90 109.17 L503.05 109.57 L503.20 110.31 L503.35 111.27 L503.50 111.63 L503.65 110.90 L503.80 110.28 L503.95 110.13 L504.10 109.60 L504.25 109.01 L504.40 108.68 L504.55 108.17 L504.70 107.33 L504.85 106.33 L505.00 105.41 L505.15 105.50 L505.30 105.73 L505.45 104.83 L505.60 103.82 L505.75 103.46 L505.90 103.47 L506.05 102.98 L506.20 102.34 L506.35 102.24 L506.50 102.03 L506.65 101.35 L506.80 100.81 L506.95 100.64 L507.10 100.07 L507.25 99.31 L507.40 99.06 L507.55 99.43 L507.70 100.02 L507.85 100.53 L508.00 101.27 L508.15 102.01 L508.30 102.61 L508.45 102.87 L508.60 102.57 L508.75 102.57 L508.90 103.55 L509.05 104.47 L509.20 104.91 L509.35 105.30 L509.50 105.56 L509.65 105.82 L509.80 106.51 L509.95 107.45 L510.10 107.78 L510.25 107.69 L510.40 108.04 L510.55 109.18 L510.70 110.36 L510.85 110.59 L511.00 110.73 L511.15 111.42 L511.30 111.63 L511.45 111.13 L511.60 110.57 L511.75 109.98 L511.90 109.28 L512.05 108.41 L512.20 107.80 L512.35 107.64 L512.50 107.46 L512.65 106.69 L512.80 105.57 L512.95 105.34 L513.10 105.13 L513.25 104.34 L513.40 103.95 L513.55 103.71 L513.70 103.09 L513.85 102.31 L514.00 102.00 L514.15 102.01 L514.30 101.54 L514.45 100.61 L514.60 99.90 L514.75 99.70 L514.90 99.44 L515.05 98.82 L515.20 98.84 L515.35 99.49 L515.50 99.93 L515.65 100.58 L515.80 101.52 L515.95 102.01 L516.10 102.31 L516.25 102.67 L516.40 102.94 L516.55 103.38 L516.70 103.60 L516.85 104.19 L517.00 105.28 L517.15 105.71 L517.30 105.94 L517.45 106.61 L517.60 107.35 L517.75 107.80 L517.90 108.43 L518.05 109.07 L518.20 109.28 L518.35 109.61 L518.50 110.39 L518.65 111.23 L518.80 111.57 L518.95 111.23 L519.10 110.42 L519.25 109.80 L519.40 109.33 L519.55 108.69 L519.70 108.34 L519.85 107.78 L520.00 106.91 L520.15 106.43 L520.30 106.38 L520.45 106.66 L520.60 106.27 L520.75 104.95 L520.90 103.60 L521.05 102.76 L521.20 102.74 L521.35 102.48 L521.50 101.94 L521.65 101.51 L521.80 100.70 L521.95 100.25 L522.10 99.79 L522.25 99.25 L522.40 99.44 L522.55 99.31 L522.70 98.59 L522.85 98.81 L523.00 99.87 L523.15 100.36 L523.30 100.58 L523.45 101.27 L523.60 101.99 L523.75 102.63 L523.90 103.32 L524.05 104.03 L524.20 104.86 L524.35 105.36 L524.50 105.67 L524.65 106.28 L524.80 106.84 L524.95 106.80 L525.10 106.83 L525.25 107.54 L525.40 108.38 L525.55 109.06 L525.70 109.46 L525.85 109.90 L526.00 110.68 L526.15 111.25 L526.30 111.09 L526.45 110.75 L526.60 110.49 L526.75 109.99 L526.90 109.49 L527.05 108.99 L527.20 108.77 L527.35 108.46 L527.50 107.54 L527.65 106.79 L527.80 106.49 L527.95 105.94 L528.10 105.01 L528.25 104.42 L528.40 104.29 L528.55 103.98 L528.70 103.31 L528.85 102.54 L529.00 102.13 L529.15 102.24 L529.30 102.09 L529.45 101.27 L529.60 100.48 L529.75 99.74 L529.90 98.96 L530.05 98.68 L530.20 98.85 L530.35 99.18 L530.50 99.34 L530.65 99.80 L530.80 101.10 L530.95 101.95 L531.10 102.02 L531.25 102.37 L531.40 102.98 L531.55 103.19 L531.70 103.50 L531.85 104.33 L532.00 104.99 L532.15 105.58 L532.30 105.92 L532.45 106.09 L532.60 106.74 L532.75 107.29 L532.90 107.40 L533.05 107.74 L533.20 108.13 L533.35 108.81 L533.50 110.10 L533.65 110.77 L533.80 110.97 L533.95 111.04 L534.10 110.54 L534.25 110.47 L534.40 110.63 L534.55 109.55 L534.70 107.51 L534.85 106.40 L535.00 106.87 L535.15 107.28 L535.30 106.71 L535.45 106.21 L535.60 105.79 L535.75 105.06 L535.90 104.73 L536.05 104.53 L536.20 103.99 L536.35 103.26 L536.50 102.65 L536.65 102.25 L536.80 101.93 L536.95 102.05 L537.10 101.63 L537.25 99.85 L537.40 98.55 L537.55 98.65 L537.70 99.16 L537.85 99.58 L538.00 99.64 L538.15 99.44 L538.30 100.03 L538.45 100.93 L538.60 101.42 L538.75 102.06 L538.90 102.63 L539.05 103.18 L539.20 103.80 L539.35 104.31 L539.50 104.55 L539.65 104.70 L539.80 105.33 L539.95 106.03 L540.10 106.73 L540.25 107.30 L540.40 107.31 L540.55 107.36 L540.70 107.87 L540.85 108.78 L541.00 109.54 L541.15 110.08 L541.30 110.80 L541.45 111.01 L541.60 110.53 L541.75 110.13 L541.90 110.17 L542.05 109.65 L542.20 108.79 L542.35 108.89 L542.50 108.80 L542.65 107.96 L542.80 107.66 L542.95 107.71 L543.10 106.79 L543.25 105.47 L543.40 104.84 L543.55 104.39 L543.70 103.45 L543.85 102.72 L544.00 102.72 L544.15 102.47 L544.30 102.00 L544.45 101.70 L544.60 101.24 L544.75 100.32 L544.90 99.60 L545.05 99.64 L545.20 99.54 L545.35 99.27 L545.50 99.49 L545.65 99.59 L545.80 99.98 L545.95 100.73 L546.10 101.18 L546.25 101.71 L546.40 102.17 L546.55 102.40 L546.70 102.49 L546.85 103.13 L547.00 104.21 L547.15 104.75 L547.30 105.02 L547.45 105.52 L547.60 105.94 L547.75 105.97 L547.90 106.36 L548.05 107.08 L548.20 107.52 L548.35 108.10 L548.50 108.92 L548.65 109.59 L548.80 110.40 L548.95 111.32 L549.10 111.65 L549.25 111.35 L549.40 110.59 L549.55 109.59 L549.70 108.80 L549.85 108.12 L550.00 107.40 L550.15 107.33 L550.30 107.75 L550.45 107.72 L550.60 106.87 L550.75 105.86 L550.90 105.27 L551.05 104.79 L551.20 104.41 L551.35 104.01 L551.50 104.00 L551.65 104.03 L551.80 103.55 L551.95 102.91 L552.10 101.78 L552.25 100.94 L552.40 100.91 L552.55 100.38 L552.70 99.32 L552.85 98.63 L553.00 98.39 L553.15 98.95 L553.30 99.78 L553.45 100.08 L553.60 100.18 L553.75 100.70 L553.90 101.79 L554.05 102.70 L554.20 103.10 L554.35 103.13 L554.50 103.54 L554.65 104.53 L554.80 104.95 L554.95 105.31 L555.10 105.63 L555.25 105.64 L555.40 106.31 L555.55 107.19 L555.70 107.99 L555.85 108.77 L556.00 108.80 L556.15 108.69 L556.30 109.48 L556.45 110.41 L556.60 110.56 L556.75 110.09 L556.90 109.96 L557.05 110.29 L557.20 110.04 L557.35 109.00 L557.50 108.36 L557.65 107.91 L557.80 106.83 L557.95 106.87 L558.10 107.33 L558.25 106.58 L558.40 105.57 L558.55 105.05 L558.70 104.67 L558.85 103.92 L559.00 103.46 L559.15 103.01 L559.30 102.47 L559.45 102.08 L559.60 101.25 L559.75 100.68 L559.90 100.38 L560.05 99.92 L560.20 99.72 L560.35 99.44 L560.50 98.87 L560.65 98.63 L560.80 98.90 L560.95 99.62 L561.10 100.44 L561.25 101.00 L561.40 101.52 L561.55 101.84 L561.70 102.26 L561.85 102.84 L562.00 103.11 L562.15 103.89 L562.30 104.67 L562.45 104.76 L562.60 104.95 L562.75 105.31 L562.90 105.73 L563.05 106.22 L563.20 106.86 L563.35 107.59 L563.50 108.58 L563.65 109.56 L563.80 110.02 L563.95 110.35 L564.10 110.57 L564.25 110.52 L564.40 110.13 L564.55 109.80 L564.70 110.16 L564.85 110.29 L565.00 109.39 L565.15 108.63 L565.30 108.32 L565.45 107.45 L565.60 106.47 L565.75 105.82 L565.90 105.46 L566.05 105.63 L566.20 105.61 L566.35 104.53 L566.50 103.40 L566.65 102.97 L566.80 102.46 L566.95 101.88 L567.10 101.90 L567.25 101.85 L567.40 101.30 L567.55 100.41 L567.70 99.15 L567.85 98.72 L568.00 99.34 L568.15 99.24 L568.30 98.73 L568.45 99.20 L568.60 100.03 L568.75 100.71 L568.90 101.15 L569.05 101.52 L569.20 102.13 L569.35 102.66 L569.50 102.71 L569.65 102.31 L569.80 102.49 L569.95 103.45 L570.10 104.42 L570.25 105.56 L570.40 106.48 L570.55 106.76 L570.70 106.99 L570.85 107.68 L571.00 108.30 L571.15 108.66 L571.30 109.46 L571.45 110.19 L571.60 110.72 L571.75 111.05 L571.90 110.96 L572.05 110.77 L572.20 110.15 L572.35 109.36 L572.50 108.99 L572.65 108.62 L572.80 108.01 L572.95 107.39 L573.10 107.06 L573.25 107.31 L573.40 107.23 L573.55 106.56 L573.70 106.05 L573.85 105.65 L574.00 105.11 L574.15 103.86 L574.30 102.96 L574.45 103.01 L574.60 102.37 L574.75 101.36 L574.90 100.63 L575.05 100.03 L575.20 99.62 L575.35 99.46 L575.50 99.62 L575.65 99.14 L575.80 98.20 L575.95 98.23 L576.10 98.76 L576.25 99.31 L576.40 100.31 L576.55 101.11 L576.70 101.44 L576.85 102.05 L577.00 103.07 L577.15 104.04 L577.30 104.45 L577.45 104.61 L577.60 104.91 L577.75 105.25 L577.90 105.67 L578.05 106.18 L578.20 106.64 L578.35 106.74 L578.50 107.13 L578.65 108.12 L578.80 108.70 L578.95 108.86 L579.10 109.51 L579.25 110.40 L579.40 110.67 L579.55 110.56 L579.70 110.49 L579.85 110.46 L580.00 110.33 L580.15 109.41 L580.30 107.86 L580.45 107.07 L580.60 107.41 L580.75 107.56 L580.90 107.08 L581.05 106.44 L581.20 105.43 L581.35 104.71 L581.50 104.63 L581.65 104.33 L581.80 103.55 L581.95 102.74 L582.10 102.34 L582.25 102.12 L582.40 101.74 L582.55 100.95 L582.70 100.12 L582.85 99.86 L583.00 99.78 L583.15 99.16 L583.30 98.46 L583.45 98.30 L583.60 98.99 L583.75 99.75 L583.90 99.78 L584.05 100.40 L584.20 101.75 L584.35 102.49 L584.50 102.75 L584.65 103.28 L584.80 103.94 L584.95 104.34 L585.10 104.86 L585.25 105.56 L585.40 106.12 L585.55 106.39 L585.70 106.54 L585.85 106.86 L586.00 106.86 L586.15 107.22 L586.30 108.18 L586.45 108.87 L586.60 109.42 L586.75 110.12 L586.90 110.94 L587.05 110.88 L587.20 110.43 L587.35 110.59 L587.50 110.36 L587.65 109.58 L587.80 109.42 L587.95 109.39 L588.10 108.56 L588.25 107.47 L588.40 106.87 L588.55 106.36 L588.70 105.08 L588.85 104.08 L589.00 104.03 L589.15 104.24 L589.30 104.34 L589.45 103.59 L589.60 102.42 L589.75 102.01 L589.90 101.86 L590.05 101.22 L590.20 100.59 L590.35 100.24 L590.50 99.82 L590.65 99.39 L590.80 99.31 L590.95 99.72 L591.10 99.64 L591.25 99.64 L591.40 100.62 L591.55 101.29 L591.70 101.49 L591.85 101.73 L592.00 102.23 L592.15 102.82 L592.30 103.34 L592.45 104.01 L592.60 104.29 L592.75 104.37 L592.90 105.10 L593.05 106.08 L593.20 106.54 L593.35 106.65 L593.50 106.96 L593.65 107.31 L593.80 107.46 L593.95 108.28 L594.10 109.50 L594.25 109.98 L594.40 110.17 L594.55 110.68 L594.70 111.48 L594.85 111.57 L595.00 110.78 L595.15 110.00 L595.30 109.55 L595.45 109.47 L595.60 108.74 L595.75 107.83 L595.90 107.63 L596.05 107.25 L596.20 106.64 L596.35 105.96 L596.50 105.08 L596.65 104.60 L596.80 104.36 L596.95 103.65 L597.10 103.26 L597.25 103.31 L597.40 102.53 L597.55 101.51 L597.70 101.11 L597.85 101.04 L598.00 100.66 L598.15 100.02 L598.30 99.28 L598.45 98.54 L598.60 98.51 L598.75 98.99 L598.90 99.65 L599.05 100.01 L599.20 100.70 L599.35 101.95 L599.50 102.20 L599.65 102.49 L599.80 103.32 L599.95 103.76 L600.10 103.48 L600.25 103.11 L600.40 104.06 L600.55 105.29 L600.70 105.53 L600.85 105.45 L601.00 106.05 L601.15 107.39 L601.30 107.99 L601.45 108.02 L601.60 108.62 L601.75 109.18 L601.90 109.54 L602.05 110.21 L602.20 110.89 L602.35 111.28 L602.50 111.19 L602.65 110.43 L602.80 109.67 L602.95 109.12 L603.10 108.21 L603.25 107.68 L603.40 107.65 L603.55 107.17 L603.70 106.72 L603.85 106.22 L604.00 105.49 L604.15 105.22 L604.30 104.81 L604.45 104.13 L604.60 103.50 L604.75 102.47 L604.90 101.65 L605.05 101.50 L605.20 101.43 L605.35 101.28 L605.50 100.65 L605.65 99.78 L605.80 99.57 L605.95 99.74 L606.10 99.61 L606.25 99.41 L606.40 99.48 L606.55 99.75 L606.70 100.38 L606.85 101.13 L607.00 101.64 L607.15 101.93 L607.30 101.87 L607.45 101.87 L607.60 102.45 L607.75 103.69 L607.90 105.03 L608.05 105.46 L608.20 105.12 L608.35 105.47 L608.50 106.62 L608.65 107.04 L608.80 107.22 L608.95 108.08 L609.10 108.93 L609.25 109.59 L609.40 110.14 L609.55 110.59 L609.70 110.68 L609.85 110.47 L610.00 110.40 L610.15 110.39 L610.30 110.09 L610.45 109.07 L610.60 108.35 L610.75 108.54 L610.90 108.61 L611.05 108.26 L611.20 107.29 L611.35 106.00 L611.50 105.38 L611.65 105.14 L611.80 104.43 L611.95 103.60 L612.10 103.49 L612.25 103.27 L612.40 102.62 L612.55 102.52 L612.70 102.41 L612.85 101.86 L613.00 101.43 L613.15 100.89 L613.30 100.10 L613.45 99.40 L613.60 99.13 L613.75 99.20 L613.90 99.02 L614.05 99.27 L614.20 99.99 L614.35 100.52 L614.50 101.38 L614.65 102.17 L614.80 102.44 L614.95 102.87 L615.10 103.58 L615.25 103.74 L615.40 103.45 L615.55 104.14 L615.70 105.49 L615.85 105.73 L616.00 105.33 L616.15 105.86 L616.30 106.74 L616.45 107.34 L616.60 108.11 L616.75 108.85 L616.90 109.23 L617.05 109.62 L617.20 110.69 L617.35 111.34 L617.50 111.11 L617.65 111.20 L617.80 111.08 L617.95 110.29 L618.10 109.22 L618.25 108.17 L618.40 107.80 L618.55 107.95 L618.70 107.90 L618.85 107.53 L619.00 107.01 L619.15 106.21 L619.30 105.06 L619.45 104.25 L619.60 104.12 L619.75 103.88 L619.90 103.03 L620.05 102.12 L620.20 101.57 L620.35 101.21 L620.50 100.86 L620.65 100.30 L620.80 99.89 L620.95 99.65 L621.10 99.48 L621.25 99.24 L621.40 98.43 L621.55 98.42 L621.70 99.85 L621.85 101.12 L622.00 101.60 L622.15 101.83 L622.30 102.17 L622.45 102.30 L622.60 102.30 L622.75 102.95 L622.90 103.74 L623.05 104.51 L623.20 105.14 L623.35 105.12 L623.50 105.70 L623.65 106.62 L623.80 106.65 L623.95 106.57 L624.10 106.98 L624.25 108.08 L624.40 109.35 L624.55 109.97 L624.70 110.20 L624.85 110.55 L625.00 110.99 L625.15 110.84 L625.30 110.24 L625.45 109.96 L625.60 109.91 L625.75 109.56 L625.90 108.81 L626.05 108.51 L626.20 108.16 L626.35 106.91 L626.50 106.20 L626.65 106.34 L626.80 105.93 L626.95 105.17 L627.10 104.54 L627.25 104.01 L627.40 103.55 L627.55 103.14 L627.70 102.59 L627.85 101.70 L628.00 101.14 L628.15 100.87 L628.30 100.44 L628.45 100.04 L628.60 99.40 L628.75 98.89 L628.90 98.81 L629.05 98.62 L629.20 98.53 L629.35 99.04 L629.50 99.87 L629.65 100.74 L629.80 101.70 L629.95 102.53 L630.10 103.22 L630.25 103.95 L630.40 104.19 L630.55 104.41 L630.70 105.25 L630.85 105.68 L631.00 105.70 L631.15 106.33 L631.30 107.07 L631.45 107.49 L631.60 107.96 L631.75 108.42 L631.90 108.78 L632.05 109.18 L632.20 109.71 L632.35 110.28 L632.50 110.50 L632.65 110.40 L632.80 110.82 L632.95 111.12 L633.10 110.49 L633.25 109.70 L633.40 108.96 L633.55 108.00 L633.70 107.32 L633.85 107.05 L634.00 106.96 L634.15 106.60 L634.30 105.99 L634.45 105.36 L634.60 104.37 L634.75 103.78 L634.90 103.86 L635.05 103.62 L635.20 102.48 L635.35 101.64 L635.50 101.72 L635.65 101.30 L635.80 100.29 L635.95 99.58 L636.10 99.29 L636.25 99.28 L636.40 98.98 L636.55 98.94 L636.70 99.67 L636.85 99.85 L637.00 100.04 L637.15 100.84 L637.30 101.80 L637.45 102.81 L637.60 103.00 L637.75 102.72 L637.90 102.88 L638.05 103.34 L638.20 104.07 L638.35 104.76 L638.50 105.43 L638.65 106.23 L638.80 106.52 L638.95 106.85 L639.10 107.16 L639.25 106.97 L639.40 107.59 L639.55 108.77 L639.70 109.42 L639.85 109.96 L640.00 110.42 L640.15 110.54 L640.30 110.43 L640.45 109.87 L640.60 109.70 L640.75 109.83 L640.90 109.07 L641.05 108.54 L641.20 108.70 L641.35 108.17 L641.50 107.09 L641.65 106.44 L641.80 105.98 L641.95 105.52 L642.10 105.29 L642.25 104.85 L642.40 104.34 L642.55 104.04 L642.70 103.86 L642.85 103.74 L643.00 102.81 L643.15 101.59 L643.30 101.04 L643.45 100.15 L643.60 99.47 L643.75 99.39 L643.90 98.95 L644.05 98.89 L644.20 99.19 L644.35 99.05 L644.50 99.33 L644.65 100.44 L644.80 101.44 L644.95 101.56 L645.10 101.39 L645.25 101.90 L645.40 103.05 L645.55 104.14 L645.70 104.62 L645.85 105.01 L646.00 105.41 L646.15 105.63 L646.30 106.17 L646.45 106.54 L646.60 106.65 L646.75 107.28 L646.90 107.84 L647.05 108.22 L647.20 109.16 L647.35 110.12 L647.50 110.44 L647.65 110.45 L647.80 110.94 L647.95 111.48 L648.10 111.00 L648.25 110.11 L648.40 109.86 L648.55 109.61 L648.70 108.79 L648.85 108.53 L649.00 108.43 L649.15 107.44 L649.30 106.35 L649.45 105.61 L649.60 105.43 L649.75 105.41 L649.90 104.48 L650.05 103.34 L650.20 102.91 L650.35 102.96 L650.50 102.68 L650.65 102.07 L650.80 101.60 L650.95 101.02 L651.10 100.54 L651.25 100.18 L651.40 99.57 L651.55 98.95 L651.70 98.87 L651.85 98.97 L652.00 99.05 L652.15 99.81 L652.30 100.86" fill="none" stroke="#0072BD" stroke-width="1.35" stroke-linejoin="round"/>
<line x1="378.60" y1="17.50" x2="652.40" y2="17.50" stroke="#262626" stroke-width="0.8" stroke-opacity="0.55"/>
<line x1="378.60" y1="232.30" x2="652.40" y2="232.30" stroke="#262626" stroke-width="0.8" stroke-opacity="0.55"/>
<line x1="378.60" y1="232.30" x2="378.60" y2="229.00" stroke="#262626" stroke-width="0.6" stroke-opacity="0.55"/>
<line x1="378.60" y1="17.50" x2="378.60" y2="20.80" stroke="#262626" stroke-width="0.6" stroke-opacity="0.55"/>
<path d="M763 0L583 0L583 1147Q518 1085 412 1023Q306 961 222 930L222 1104Q373 1175 486 1276Q599 1377 646 1472L763 1472Z" transform="translate(376.15 245.20) scale(0.00430 -0.00430)" fill="#404040"/>
<line x1="405.98" y1="232.30" x2="405.98" y2="229.00" stroke="#262626" stroke-width="0.6" stroke-opacity="0.55"/>
<line x1="405.98" y1="17.50" x2="405.98" y2="20.80" stroke="#262626" stroke-width="0.6" stroke-opacity="0.55"/>
<path d="M763 0L583 0L583 1147Q518 1085 412 1023Q306 961 222 930L222 1104Q373 1175 486 1276Q599 1377 646 1472L763 1472Z" transform="translate(399.86 245.20) scale(0.00430 -0.00430)" fill="#404040"/><text x="404.76" y="245.20" class="tk" fill="#404040">.</text><path d="M763 0L583 0L583 1147Q518 1085 412 1023Q306 961 222 930L222 1104Q373 1175 486 1276Q599 1377 646 1472L763 1472Z" transform="translate(407.20 245.20) scale(0.00430 -0.00430)" fill="#404040"/>
<line x1="433.36" y1="232.30" x2="433.36" y2="229.00" stroke="#262626" stroke-width="0.6" stroke-opacity="0.55"/>
<line x1="433.36" y1="17.50" x2="433.36" y2="20.80" stroke="#262626" stroke-width="0.6" stroke-opacity="0.55"/>
<path d="M763 0L583 0L583 1147Q518 1085 412 1023Q306 961 222 930L222 1104Q373 1175 486 1276Q599 1377 646 1472L763 1472Z" transform="translate(427.24 245.20) scale(0.00430 -0.00430)" fill="#404040"/><text x="432.14" y="245.20" class="tk" fill="#404040">.</text><text x="434.58" y="245.20" class="tk" fill="#404040">2</text>
<line x1="460.74" y1="232.30" x2="460.74" y2="229.00" stroke="#262626" stroke-width="0.6" stroke-opacity="0.55"/>
<line x1="460.74" y1="17.50" x2="460.74" y2="20.80" stroke="#262626" stroke-width="0.6" stroke-opacity="0.55"/>
<path d="M763 0L583 0L583 1147Q518 1085 412 1023Q306 961 222 930L222 1104Q373 1175 486 1276Q599 1377 646 1472L763 1472Z" transform="translate(454.62 245.20) scale(0.00430 -0.00430)" fill="#404040"/><text x="459.52" y="245.20" class="tk" fill="#404040">.</text><text x="461.96" y="245.20" class="tk" fill="#404040">3</text>
<line x1="488.12" y1="232.30" x2="488.12" y2="229.00" stroke="#262626" stroke-width="0.6" stroke-opacity="0.55"/>
<line x1="488.12" y1="17.50" x2="488.12" y2="20.80" stroke="#262626" stroke-width="0.6" stroke-opacity="0.55"/>
<path d="M763 0L583 0L583 1147Q518 1085 412 1023Q306 961 222 930L222 1104Q373 1175 486 1276Q599 1377 646 1472L763 1472Z" transform="translate(482.00 245.20) scale(0.00430 -0.00430)" fill="#404040"/><text x="486.90" y="245.20" class="tk" fill="#404040">.</text><text x="489.34" y="245.20" class="tk" fill="#404040">4</text>
<line x1="515.50" y1="232.30" x2="515.50" y2="229.00" stroke="#262626" stroke-width="0.6" stroke-opacity="0.55"/>
<line x1="515.50" y1="17.50" x2="515.50" y2="20.80" stroke="#262626" stroke-width="0.6" stroke-opacity="0.55"/>
<path d="M763 0L583 0L583 1147Q518 1085 412 1023Q306 961 222 930L222 1104Q373 1175 486 1276Q599 1377 646 1472L763 1472Z" transform="translate(509.38 245.20) scale(0.00430 -0.00430)" fill="#404040"/><text x="514.28" y="245.20" class="tk" fill="#404040">.</text><text x="516.72" y="245.20" class="tk" fill="#404040">5</text>
<line x1="542.88" y1="232.30" x2="542.88" y2="229.00" stroke="#262626" stroke-width="0.6" stroke-opacity="0.55"/>
<line x1="542.88" y1="17.50" x2="542.88" y2="20.80" stroke="#262626" stroke-width="0.6" stroke-opacity="0.55"/>
<path d="M763 0L583 0L583 1147Q518 1085 412 1023Q306 961 222 930L222 1104Q373 1175 486 1276Q599 1377 646 1472L763 1472Z" transform="translate(536.76 245.20) scale(0.00430 -0.00430)" fill="#404040"/><text x="541.66" y="245.20" class="tk" fill="#404040">.</text><text x="544.10" y="245.20" class="tk" fill="#404040">6</text>
<line x1="570.26" y1="232.30" x2="570.26" y2="229.00" stroke="#262626" stroke-width="0.6" stroke-opacity="0.55"/>
<line x1="570.26" y1="17.50" x2="570.26" y2="20.80" stroke="#262626" stroke-width="0.6" stroke-opacity="0.55"/>
<path d="M763 0L583 0L583 1147Q518 1085 412 1023Q306 961 222 930L222 1104Q373 1175 486 1276Q599 1377 646 1472L763 1472Z" transform="translate(564.14 245.20) scale(0.00430 -0.00430)" fill="#404040"/><text x="569.04" y="245.20" class="tk" fill="#404040">.</text><text x="571.48" y="245.20" class="tk" fill="#404040">7</text>
<line x1="597.64" y1="232.30" x2="597.64" y2="229.00" stroke="#262626" stroke-width="0.6" stroke-opacity="0.55"/>
<line x1="597.64" y1="17.50" x2="597.64" y2="20.80" stroke="#262626" stroke-width="0.6" stroke-opacity="0.55"/>
<path d="M763 0L583 0L583 1147Q518 1085 412 1023Q306 961 222 930L222 1104Q373 1175 486 1276Q599 1377 646 1472L763 1472Z" transform="translate(591.52 245.20) scale(0.00430 -0.00430)" fill="#404040"/><text x="596.42" y="245.20" class="tk" fill="#404040">.</text><text x="598.86" y="245.20" class="tk" fill="#404040">8</text>
<line x1="625.02" y1="232.30" x2="625.02" y2="229.00" stroke="#262626" stroke-width="0.6" stroke-opacity="0.55"/>
<line x1="625.02" y1="17.50" x2="625.02" y2="20.80" stroke="#262626" stroke-width="0.6" stroke-opacity="0.55"/>
<path d="M763 0L583 0L583 1147Q518 1085 412 1023Q306 961 222 930L222 1104Q373 1175 486 1276Q599 1377 646 1472L763 1472Z" transform="translate(618.90 245.20) scale(0.00430 -0.00430)" fill="#404040"/><text x="623.80" y="245.20" class="tk" fill="#404040">.</text><text x="626.24" y="245.20" class="tk" fill="#404040">9</text>
<line x1="652.40" y1="232.30" x2="652.40" y2="229.00" stroke="#262626" stroke-width="0.6" stroke-opacity="0.55"/>
<line x1="652.40" y1="17.50" x2="652.40" y2="20.80" stroke="#262626" stroke-width="0.6" stroke-opacity="0.55"/>
<text x="649.95" y="245.20" class="tk" fill="#404040">2</text>
<line x1="378.60" y1="17.50" x2="378.60" y2="232.30" stroke="#0072BD" stroke-width="0.9" stroke-opacity="0.60"/>
<line x1="652.50" y1="17.50" x2="652.50" y2="232.30" stroke="#D95319" stroke-width="0.9" stroke-opacity="0.70"/>
<line x1="378.60" y1="232.30" x2="381.60" y2="232.30" stroke="#0072BD" stroke-width="0.7" stroke-opacity="0.75"/>
<text x="370.31" y="235.80" class="tk" fill="#0072BD">0</text>
<line x1="652.40" y1="17.50" x2="649.40" y2="17.50" stroke="#D95319" stroke-width="0.7" stroke-opacity="0.6"/>
<text x="655.80" y="21.00" class="tk" fill="#D95319">0</text>
<line x1="378.60" y1="201.61" x2="381.60" y2="201.61" stroke="#0072BD" stroke-width="0.7" stroke-opacity="0.75"/>
<text x="370.31" y="205.11" class="tk" fill="#0072BD">5</text>
<line x1="652.40" y1="48.19" x2="649.40" y2="48.19" stroke="#D95319" stroke-width="0.7" stroke-opacity="0.6"/>
<text x="655.80" y="51.69" class="tk" fill="#D95319">-</text><text x="658.73" y="51.69" class="tk" fill="#D95319">5</text>
<line x1="378.60" y1="170.93" x2="381.60" y2="170.93" stroke="#0072BD" stroke-width="0.7" stroke-opacity="0.75"/>
<path d="M763 0L583 0L583 1147Q518 1085 412 1023Q306 961 222 930L222 1104Q373 1175 486 1276Q599 1377 646 1472L763 1472Z" transform="translate(365.41 174.43) scale(0.00430 -0.00430)" fill="#0072BD"/><text x="370.31" y="174.43" class="tk" fill="#0072BD">0</text>
<line x1="652.40" y1="78.87" x2="649.40" y2="78.87" stroke="#D95319" stroke-width="0.7" stroke-opacity="0.6"/>
<text x="655.80" y="82.37" class="tk" fill="#D95319">-</text><path d="M763 0L583 0L583 1147Q518 1085 412 1023Q306 961 222 930L222 1104Q373 1175 486 1276Q599 1377 646 1472L763 1472Z" transform="translate(658.73 82.37) scale(0.00430 -0.00430)" fill="#D95319"/><text x="663.62" y="82.37" class="tk" fill="#D95319">0</text>
<line x1="378.60" y1="140.24" x2="381.60" y2="140.24" stroke="#0072BD" stroke-width="0.7" stroke-opacity="0.75"/>
<path d="M763 0L583 0L583 1147Q518 1085 412 1023Q306 961 222 930L222 1104Q373 1175 486 1276Q599 1377 646 1472L763 1472Z" transform="translate(365.41 143.74) scale(0.00430 -0.00430)" fill="#0072BD"/><text x="370.31" y="143.74" class="tk" fill="#0072BD">5</text>
<line x1="652.40" y1="109.56" x2="649.40" y2="109.56" stroke="#D95319" stroke-width="0.7" stroke-opacity="0.6"/>
<text x="655.80" y="113.06" class="tk" fill="#D95319">-</text><path d="M763 0L583 0L583 1147Q518 1085 412 1023Q306 961 222 930L222 1104Q373 1175 486 1276Q599 1377 646 1472L763 1472Z" transform="translate(658.73 113.06) scale(0.00430 -0.00430)" fill="#D95319"/><text x="663.62" y="113.06" class="tk" fill="#D95319">5</text>
<line x1="378.60" y1="109.56" x2="381.60" y2="109.56" stroke="#0072BD" stroke-width="0.7" stroke-opacity="0.75"/>
<text x="365.41" y="113.06" class="tk" fill="#0072BD">2</text><text x="370.31" y="113.06" class="tk" fill="#0072BD">0</text>
<line x1="652.40" y1="140.24" x2="649.40" y2="140.24" stroke="#D95319" stroke-width="0.7" stroke-opacity="0.6"/>
<text x="655.80" y="143.74" class="tk" fill="#D95319">-</text><text x="658.73" y="143.74" class="tk" fill="#D95319">2</text><text x="663.62" y="143.74" class="tk" fill="#D95319">0</text>
<line x1="378.60" y1="78.87" x2="381.60" y2="78.87" stroke="#0072BD" stroke-width="0.7" stroke-opacity="0.75"/>
<text x="365.41" y="82.37" class="tk" fill="#0072BD">2</text><text x="370.31" y="82.37" class="tk" fill="#0072BD">5</text>
<line x1="652.40" y1="170.93" x2="649.40" y2="170.93" stroke="#D95319" stroke-width="0.7" stroke-opacity="0.6"/>
<text x="655.80" y="174.43" class="tk" fill="#D95319">-</text><text x="658.73" y="174.43" class="tk" fill="#D95319">2</text><text x="663.62" y="174.43" class="tk" fill="#D95319">5</text>
<line x1="378.60" y1="48.19" x2="381.60" y2="48.19" stroke="#0072BD" stroke-width="0.7" stroke-opacity="0.75"/>
<text x="365.41" y="51.69" class="tk" fill="#0072BD">3</text><text x="370.31" y="51.69" class="tk" fill="#0072BD">0</text>
<line x1="652.40" y1="201.61" x2="649.40" y2="201.61" stroke="#D95319" stroke-width="0.7" stroke-opacity="0.6"/>
<text x="655.80" y="205.11" class="tk" fill="#D95319">-</text><text x="658.73" y="205.11" class="tk" fill="#D95319">3</text><text x="663.62" y="205.11" class="tk" fill="#D95319">0</text>
<line x1="378.60" y1="17.50" x2="381.60" y2="17.50" stroke="#0072BD" stroke-width="0.7" stroke-opacity="0.75"/>
<text x="365.41" y="21.00" class="tk" fill="#0072BD">3</text><text x="370.31" y="21.00" class="tk" fill="#0072BD">5</text>
<line x1="652.40" y1="232.30" x2="649.40" y2="232.30" stroke="#D95319" stroke-width="0.7" stroke-opacity="0.6"/>
<text x="655.80" y="235.80" class="tk" fill="#D95319">-</text><text x="658.73" y="235.80" class="tk" fill="#D95319">3</text><text x="663.62" y="235.80" class="tk" fill="#D95319">5</text>
<text x="515.50" y="12.70" class="ttl" text-anchor="middle">Case-2 (DNV loads)</text>
<text x="515.50" y="259.10" class="lab" fill="#555555" stroke="#555555" text-anchor="middle">Time [Sec]</text>
<text transform="translate(361.00 126.20) rotate(-90)" class="lab" fill="#0072BD" stroke="#0072BD" text-anchor="middle">Peak Total Pressure [MPa]</text>
<text transform="translate(683.30 126.30) rotate(-90)" class="lab" fill="#D95319" stroke="#D95319" text-anchor="middle">Dang Van equivalent stress [MPa]</text>
<path d="M26.60 335.50 L26.80 335.67 L27.00 335.84 L27.20 336.02 L27.40 336.19 L27.60 336.37 L27.80 336.55 L28.00 336.74 L28.20 336.92 L28.40 337.11 L28.60 337.30 L28.80 337.50 L29.00 337.71 L29.20 337.94 L29.40 338.16 L29.60 338.39 L29.80 338.61 L30.00 338.83 L30.20 339.04 L30.40 339.23 L30.60 339.41 L30.80 339.57 L31.00 339.70 L31.20 339.82 L31.40 339.94 L31.60 340.06 L31.80 340.17 L32.00 340.28 L32.20 340.38 L32.40 340.46 L32.60 340.53 L32.80 340.57 L33.00 340.60 L33.20 340.59 L33.40 340.55 L33.60 340.47 L33.80 340.36 L34.00 340.23 L34.20 340.07 L34.40 339.90 L34.60 339.73 L34.80 339.55 L35.00 339.38 L35.20 339.21 L35.40 339.07 L35.60 338.94 L35.80 338.80 L36.00 338.65 L36.20 338.49 L36.40 338.33 L36.60 338.18 L36.80 338.02 L37.00 337.88 L37.20 337.75 L37.40 337.63 L37.60 337.54 L37.80 337.46 L38.00 337.42 L38.20 337.40 L38.40 337.40 L38.60 337.41 L38.80 337.43 L39.00 337.44 L39.20 337.47 L39.40 337.49 L39.60 337.52 L39.80 337.54 L40.00 337.57 L40.20 337.60 L40.40 337.62 L40.60 337.65 L40.80 337.67 L41.00 337.68 L41.20 337.69 L41.40 337.70 L41.60 337.70 L41.80 337.68 L42.00 337.64 L42.20 337.60 L42.40 337.54 L42.60 337.47 L42.80 337.40 L43.00 337.32 L43.20 337.25 L43.40 337.18 L43.60 337.11 L43.80 337.05 L44.00 337.00 L44.20 336.96 L44.40 336.92 L44.60 336.88 L44.80 336.85 L45.00 336.82 L45.20 336.79 L45.40 336.75 L45.60 336.72 L45.80 336.69 L46.00 336.65 L46.20 336.62 L46.40 336.58 L46.60 336.54 L46.80 336.49 L47.00 336.44 L47.20 336.39 L47.40 336.34 L47.60 336.28 L47.80 336.23 L48.00 336.17 L48.20 336.11 L48.40 336.06 L48.60 336.00 L48.80 335.94 L49.00 335.89 L49.20 335.83 L49.40 335.78 L49.60 335.74 L49.80 335.69 L50.00 335.65 L50.20 335.61 L50.40 335.58 L50.60 335.55 L50.80 335.53 L51.00 335.51 L51.20 335.50 L51.40 335.50 L51.60 335.50 L51.80 335.51 L52.00 335.52 L52.20 335.54 L52.40 335.56 L52.60 335.58 L52.80 335.61 L53.00 335.64 L53.20 335.68 L53.40 335.71 L53.60 335.75 L53.80 335.79 L54.00 335.84 L54.20 335.88 L54.40 335.93 L54.60 335.98 L54.80 336.03 L55.00 336.08 L55.20 336.13 L55.40 336.18 L55.60 336.23 L55.80 336.28 L56.00 336.35 L56.20 336.41 L56.40 336.49 L56.60 336.57 L56.80 336.65 L57.00 336.74 L57.20 336.83 L57.40 336.92 L57.60 337.01 L57.80 337.11 L58.00 337.20 L58.20 337.30 L58.40 337.40 L58.60 337.50 L58.80 337.61 L59.00 337.72 L59.20 337.83 L59.40 337.94 L59.60 338.06 L59.80 338.18 L60.00 338.31 L60.20 338.43 L60.40 338.56 L60.60 338.70 L60.80 338.83 L60.90 338.90 L61.10 338.88 L61.31 338.84 L61.51 338.76 L61.71 338.66 L61.92 338.53 L62.12 338.38 L62.32 338.20 L62.52 338.01 L62.73 337.80 L62.93 337.59 L63.13 337.36 L63.34 337.14 L63.54 336.91 L63.74 336.70 L63.95 336.49 L64.15 336.30 L64.35 336.12 L64.55 335.97 L64.76 335.84 L64.96 335.74 L65.16 335.66 L65.37 335.62 L65.57 335.60 L65.77 335.62 L65.97 335.66 L66.18 335.74 L66.38 335.85 L66.58 335.99 L66.78 336.15 L66.99 336.32 L67.19 336.52 L67.39 336.73 L67.59 336.94 L67.80 337.16 L68.00 337.37 L68.20 337.58 L68.40 337.77 L68.61 337.95 L68.81 338.11 L69.01 338.25 L69.21 338.36 L69.42 338.44 L69.62 338.48 L69.82 338.50 L70.02 338.48 L70.23 338.44 L70.43 338.36 L70.63 338.25 L70.83 338.11 L71.04 337.95 L71.24 337.77 L71.44 337.58 L71.64 337.37 L71.85 337.16 L72.05 336.94 L72.25 336.73 L72.45 336.52 L72.66 336.32 L72.86 336.15 L73.06 335.99 L73.26 335.85 L73.47 335.74 L73.67 335.66 L73.87 335.62 L74.07 335.60 L74.28 335.62 L74.48 335.66 L74.68 335.74 L74.88 335.85 L75.09 335.99 L75.29 336.15 L75.49 336.32 L75.69 336.52 L75.90 336.73 L76.10 336.94 L76.30 337.16 L76.50 337.37 L76.71 337.58 L76.91 337.77 L77.11 337.95 L77.31 338.11 L77.52 338.25 L77.72 338.36 L77.92 338.44 L78.12 338.48 L78.33 338.50 L78.53 338.48 L78.73 338.44 L78.93 338.36 L79.14 338.25 L79.34 338.11 L79.54 337.95 L79.74 337.77 L79.95 337.58 L80.15 337.37 L80.35 337.16 L80.55 336.94 L80.76 336.73 L80.96 336.52 L81.16 336.32 L81.36 336.15 L81.57 335.99 L81.77 335.85 L81.97 335.74 L82.17 335.66 L82.38 335.62 L82.58 335.60 L82.78 335.62 L82.98 335.66 L83.19 335.74 L83.39 335.85 L83.59 335.99 L83.80 336.15 L84.00 336.32 L84.20 336.52 L84.40 336.73 L84.61 336.94 L84.81 337.16 L85.01 337.37 L85.21 337.58 L85.41 337.77 L85.62 337.95 L85.82 338.11 L86.02 338.25 L86.22 338.36 L86.43 338.44 L86.63 338.48 L86.83 338.50 L87.03 338.48 L87.24 338.44 L87.44 338.36 L87.64 338.25 L87.84 338.11 L88.05 337.95 L88.25 337.77 L88.45 337.58 L88.66 337.37 L88.86 337.16 L89.06 336.94 L89.26 336.73 L89.46 336.52 L89.67 336.32 L89.87 336.15 L90.07 335.99 L90.27 335.85 L90.48 335.74 L90.68 335.66 L90.88 335.62 L91.08 335.60 L91.29 335.62 L91.49 335.66 L91.69 335.74 L91.89 335.85 L92.10 335.99 L92.30 336.15 L92.50 336.32 L92.70 336.52 L92.91 336.73 L93.11 336.94 L93.31 337.16 L93.51 337.37 L93.72 337.58 L93.92 337.77 L94.12 337.95 L94.32 338.11 L94.53 338.25 L94.73 338.36 L94.93 338.44 L95.13 338.48 L95.34 338.50 L95.54 338.48 L95.74 338.44 L95.94 338.36 L96.15 338.25 L96.35 338.11 L96.55 337.95 L96.75 337.77 L96.96 337.58 L97.16 337.37 L97.36 337.16 L97.56 336.94 L97.77 336.73 L97.97 336.52 L98.17 336.32 L98.38 336.15 L98.58 335.99 L98.78 335.85 L98.98 335.74 L99.19 335.66 L99.39 335.62 L99.59 335.60 L99.79 335.62 L100.00 335.66 L100.20 335.74 L100.40 335.85 L100.60 335.99 L100.81 336.15 L101.01 336.32 L101.21 336.52 L101.41 336.73 L101.62 336.94 L101.82 337.16 L102.02 337.37 L102.22 337.58 L102.42 337.77 L102.63 337.95 L102.83 338.11 L103.03 338.25 L103.23 338.36 L103.44 338.44 L103.64 338.48 L103.84 338.50 L104.05 338.48 L104.25 338.44 L104.45 338.36 L104.65 338.25 L104.86 338.11 L105.06 337.95 L105.26 337.77 L105.46 337.58 L105.67 337.37 L105.87 337.16 L106.07 336.94 L106.27 336.73 L106.47 336.52 L106.68 336.32 L106.88 336.15 L107.08 335.99 L107.28 335.85 L107.49 335.74 L107.69 335.66 L107.89 335.62 L108.09 335.60 L108.30 335.62 L108.50 335.66 L108.70 335.74 L108.91 335.85 L109.11 335.99 L109.31 336.15 L109.51 336.32 L109.72 336.52 L109.92 336.73 L110.12 336.94 L110.32 337.16 L110.52 337.37 L110.73 337.58 L110.93 337.77 L111.13 337.95 L111.33 338.11 L111.54 338.25 L111.74 338.36 L111.94 338.44 L112.14 338.48 L112.35 338.50 L112.55 338.48 L112.75 338.44 L112.95 338.36 L113.16 338.25 L113.36 338.11 L113.56 337.95 L113.77 337.77 L113.97 337.58 L114.17 337.37 L114.37 337.16 L114.57 336.94 L114.78 336.73 L114.98 336.52 L115.18 336.32 L115.38 336.15 L115.59 335.99 L115.79 335.85 L115.99 335.74 L116.19 335.66 L116.40 335.62 L116.60 335.60 L116.80 335.62 L117.00 335.66 L117.21 335.74 L117.41 335.85 L117.61 335.99 L117.81 336.15 L118.02 336.32 L118.22 336.52 L118.42 336.73 L118.62 336.94 L118.83 337.16 L119.03 337.37 L119.23 337.58 L119.43 337.77 L119.64 337.95 L119.84 338.11 L120.04 338.25 L120.24 338.36 L120.45 338.44 L120.65 338.48 L120.85 338.50 L121.05 338.48 L121.26 338.44 L121.46 338.36 L121.66 338.25 L121.86 338.11 L122.07 337.95 L122.27 337.77 L122.47 337.58 L122.67 337.37 L122.88 337.16 L123.08 336.94 L123.28 336.73 L123.48 336.52 L123.69 336.32 L123.89 336.15 L124.09 335.99 L124.29 335.85 L124.50 335.74 L124.70 335.66 L124.90 335.62 L125.10 335.60 L125.31 335.62 L125.51 335.66 L125.71 335.74 L125.91 335.85 L126.12 335.99 L126.32 336.15 L126.52 336.32 L126.72 336.52 L126.93 336.73 L127.13 336.94 L127.33 337.16 L127.54 337.37 L127.74 337.58 L127.94 337.77 L128.14 337.95 L128.34 338.11 L128.55 338.25 L128.75 338.36 L128.95 338.44 L129.16 338.48 L129.36 338.50 L129.56 338.48 L129.76 338.44 L129.97 338.36 L130.17 338.25 L130.37 338.11 L130.57 337.95 L130.78 337.77 L130.98 337.58 L131.18 337.37 L131.38 337.16 L131.59 336.94 L131.79 336.73 L131.99 336.52 L132.19 336.32 L132.40 336.15 L132.60 335.99 L132.80 335.85 L133.00 335.74 L133.21 335.66 L133.41 335.62 L133.61 335.60 L133.81 335.62 L134.02 335.66 L134.22 335.74 L134.42 335.85 L134.62 335.99 L134.83 336.15 L135.03 336.32 L135.23 336.52 L135.43 336.73 L135.64 336.94 L135.84 337.16 L136.04 337.37 L136.24 337.58 L136.45 337.77 L136.65 337.95 L136.85 338.11 L137.05 338.25 L137.26 338.36 L137.46 338.44 L137.66 338.48 L137.86 338.50 L138.06 338.48 L138.27 338.44 L138.47 338.36 L138.67 338.25 L138.88 338.11 L139.08 337.95 L139.28 337.77 L139.48 337.58 L139.69 337.37 L139.89 337.16 L140.09 336.94 L140.29 336.73 L140.50 336.52 L140.70 336.32 L140.90 336.15 L141.10 335.99 L141.31 335.85 L141.51 335.74 L141.71 335.66 L141.91 335.62 L142.12 335.60 L142.32 335.62 L142.52 335.66 L142.72 335.74 L142.93 335.85 L143.13 335.99 L143.33 336.15 L143.53 336.32 L143.74 336.52 L143.94 336.73 L144.14 336.94 L144.34 337.16 L144.55 337.37 L144.75 337.58 L144.95 337.77 L145.15 337.95 L145.36 338.11 L145.56 338.25 L145.76 338.36 L145.96 338.44 L146.17 338.48 L146.37 338.50 L146.57 338.48 L146.77 338.44 L146.97 338.36 L147.18 338.25 L147.38 338.11 L147.58 337.95 L147.78 337.77 L147.99 337.58 L148.19 337.37 L148.39 337.16 L148.59 336.94 L148.80 336.73 L149.00 336.52 L149.20 336.32 L149.41 336.15 L149.61 335.99 L149.81 335.85 L150.01 335.74 L150.22 335.66 L150.42 335.62 L150.62 335.60 L150.82 335.62 L151.03 335.66 L151.23 335.74 L151.43 335.85 L151.63 335.99 L151.84 336.15 L152.04 336.32 L152.24 336.52 L152.44 336.73 L152.65 336.94 L152.85 337.16 L153.05 337.37 L153.25 337.58 L153.46 337.77 L153.66 337.95 L153.86 338.11 L154.06 338.25 L154.27 338.36 L154.47 338.44 L154.67 338.48 L154.87 338.50 L155.07 338.48 L155.28 338.44 L155.48 338.36 L155.68 338.25 L155.88 338.11 L156.09 337.95 L156.29 337.77 L156.49 337.58 L156.69 337.37 L156.90 337.16 L157.10 336.94 L157.30 336.73 L157.50 336.52 L157.71 336.32 L157.91 336.15 L158.11 335.99 L158.31 335.85 L158.52 335.74 L158.72 335.66 L158.92 335.62 L159.12 335.60 L159.33 335.62 L159.53 335.66 L159.73 335.74 L159.94 335.85 L160.14 335.99 L160.34 336.15 L160.54 336.32 L160.75 336.52 L160.95 336.73 L161.15 336.94 L161.35 337.16 L161.56 337.37 L161.76 337.58 L161.96 337.77 L162.16 337.95 L162.37 338.11 L162.57 338.25 L162.77 338.36 L162.97 338.44 L163.18 338.48 L163.38 338.50 L163.58 338.48 L163.78 338.44 L163.98 338.36 L164.19 338.25 L164.39 338.11 L164.59 337.95 L164.79 337.77 L165.00 337.58 L165.20 337.37 L165.40 337.16 L165.60 336.94 L165.81 336.73 L166.01 336.52 L166.21 336.32 L166.41 336.15 L166.62 335.99 L166.82 335.85 L167.02 335.74 L167.22 335.66 L167.43 335.62 L167.63 335.60 L167.83 335.62 L168.03 335.66 L168.24 335.74 L168.44 335.85 L168.64 335.99 L168.84 336.15 L169.05 336.32 L169.25 336.52 L169.45 336.73 L169.66 336.94 L169.86 337.16 L170.06 337.37 L170.26 337.58 L170.47 337.77 L170.67 337.95 L170.87 338.11 L171.07 338.25 L171.28 338.36 L171.48 338.44 L171.68 338.48 L171.88 338.50 L172.08 338.48 L172.29 338.44 L172.49 338.36 L172.69 338.25 L172.89 338.11 L173.10 337.95 L173.30 337.77 L173.50 337.58 L173.70 337.37 L173.91 337.16 L174.11 336.94 L174.31 336.73 L174.51 336.52 L174.72 336.32 L174.92 336.15 L175.12 335.99 L175.32 335.85 L175.53 335.74 L175.73 335.66 L175.93 335.62 L176.13 335.60 L176.34 335.62 L176.54 335.66 L176.74 335.74 L176.94 335.85 L177.15 335.99 L177.35 336.15 L177.55 336.32 L177.75 336.52 L177.96 336.73 L178.16 336.94 L178.36 337.16 L178.56 337.37 L178.77 337.58 L178.97 337.77 L179.17 337.95 L179.38 338.11 L179.58 338.25 L179.78 338.36 L179.98 338.44 L180.19 338.48 L180.39 338.50 L180.59 338.48 L180.79 338.44 L180.99 338.36 L181.20 338.25 L181.40 338.11 L181.60 337.95 L181.80 337.77 L182.01 337.58 L182.21 337.37 L182.41 337.16 L182.61 336.94 L182.82 336.73 L183.02 336.52 L183.22 336.32 L183.42 336.15 L183.63 335.99 L183.83 335.85 L184.03 335.74 L184.23 335.66 L184.44 335.62 L184.64 335.60 L184.84 335.62 L185.04 335.66 L185.25 335.74 L185.45 335.85 L185.65 335.99 L185.85 336.15 L186.06 336.32 L186.26 336.52 L186.46 336.73 L186.66 336.94 L186.87 337.16 L187.07 337.37 L187.27 337.58 L187.47 337.77 L187.68 337.95 L187.88 338.11 L188.08 338.25 L188.28 338.36 L188.49 338.44 L188.69 338.48 L188.89 338.50 L189.09 338.48 L189.30 338.44 L189.50 338.36 L189.70 338.25 L189.91 338.11 L190.11 337.95 L190.31 337.77 L190.51 337.58 L190.72 337.37 L190.92 337.16 L191.12 336.94 L191.32 336.73 L191.53 336.52 L191.73 336.32 L191.93 336.15 L192.13 335.99 L192.34 335.85 L192.54 335.74 L192.74 335.66 L192.94 335.62 L193.15 335.60 L193.35 335.62 L193.55 335.66 L193.75 335.74 L193.96 335.85 L194.16 335.99 L194.36 336.15 L194.56 336.32 L194.77 336.52 L194.97 336.73 L195.17 336.94 L195.37 337.16 L195.58 337.37 L195.78 337.58 L195.98 337.77 L196.18 337.95 L196.39 338.11 L196.59 338.25 L196.79 338.36 L196.99 338.44 L197.20 338.48 L197.40 338.50 L197.60 338.48 L197.80 338.44 L198.00 338.36 L198.21 338.25 L198.41 338.11 L198.61 337.95 L198.81 337.77 L199.02 337.58 L199.22 337.37 L199.42 337.16 L199.62 336.94 L199.83 336.73 L200.03 336.52 L200.23 336.32 L200.44 336.15 L200.64 335.99 L200.84 335.85 L201.04 335.74 L201.25 335.66 L201.45 335.62 L201.65 335.60 L201.85 335.62 L202.06 335.66 L202.26 335.74 L202.46 335.85 L202.66 335.99 L202.87 336.15 L203.07 336.32 L203.27 336.52 L203.47 336.73 L203.68 336.94 L203.88 337.16 L204.08 337.37 L204.28 337.58 L204.49 337.77 L204.69 337.95 L204.89 338.11 L205.09 338.25 L205.30 338.36 L205.50 338.44 L205.70 338.48 L205.90 338.50 L206.10 338.48 L206.31 338.44 L206.51 338.36 L206.71 338.25 L206.91 338.11 L207.12 337.95 L207.32 337.77 L207.52 337.58 L207.72 337.37 L207.93 337.16 L208.13 336.94 L208.33 336.73 L208.53 336.52 L208.74 336.32 L208.94 336.15 L209.14 335.99 L209.34 335.85 L209.55 335.74 L209.75 335.66 L209.95 335.62 L210.16 335.60 L210.36 335.62 L210.56 335.66 L210.76 335.74 L210.97 335.85 L211.17 335.99 L211.37 336.15 L211.57 336.32 L211.78 336.52 L211.98 336.73 L212.18 336.94 L212.38 337.16 L212.59 337.37 L212.79 337.58 L212.99 337.77 L213.19 337.95 L213.40 338.11 L213.60 338.25 L213.80 338.36 L214.00 338.44 L214.21 338.48 L214.41 338.50 L214.61 338.48 L214.81 338.44 L215.01 338.36 L215.22 338.25 L215.42 338.11 L215.62 337.95 L215.82 337.77 L216.03 337.58 L216.23 337.37 L216.43 337.16 L216.63 336.94 L216.84 336.73 L217.04 336.52 L217.24 336.32 L217.44 336.15 L217.65 335.99 L217.85 335.85 L218.05 335.74 L218.25 335.66 L218.46 335.62 L218.66 335.60 L218.86 335.62 L219.06 335.66 L219.27 335.74 L219.47 335.85 L219.67 335.99 L219.88 336.15 L220.08 336.32 L220.28 336.52 L220.48 336.73 L220.69 336.94 L220.89 337.16 L221.09 337.37 L221.29 337.58 L221.50 337.77 L221.70 337.95 L221.90 338.11 L222.10 338.25 L222.31 338.36 L222.51 338.44 L222.71 338.48 L222.91 338.50 L223.12 338.48 L223.32 338.44 L223.52 338.36 L223.72 338.25 L223.93 338.11 L224.13 337.95 L224.33 337.77 L224.53 337.58 L224.74 337.37 L224.94 337.16 L225.14 336.94 L225.34 336.73 L225.55 336.52 L225.75 336.32 L225.95 336.15 L226.15 335.99 L226.36 335.85 L226.56 335.74 L226.76 335.66 L226.96 335.62 L227.17 335.60 L227.37 335.62 L227.57 335.66 L227.77 335.74 L227.98 335.85 L228.18 335.99 L228.38 336.15 L228.58 336.32 L228.79 336.52 L228.99 336.73 L229.19 336.94 L229.39 337.16 L229.60 337.37 L229.80 337.58 L230.00 337.77 L230.20 337.95 L230.41 338.11 L230.61 338.25 L230.81 338.36 L231.01 338.44 L231.22 338.48 L231.42 338.50 L231.62 338.48 L231.82 338.44 L232.03 338.36 L232.23 338.25 L232.43 338.11 L232.63 337.95 L232.84 337.77 L233.04 337.58 L233.24 337.37 L233.44 337.16 L233.65 336.94 L233.85 336.73 L234.05 336.52 L234.25 336.32 L234.46 336.15 L234.66 335.99 L234.86 335.85 L235.06 335.74 L235.27 335.66 L235.47 335.62 L235.67 335.60 L235.87 335.62 L236.08 335.66 L236.28 335.74 L236.48 335.85 L236.68 335.99 L236.89 336.15 L237.09 336.32 L237.29 336.52 L237.49 336.73 L237.70 336.94 L237.90 337.16 L238.10 337.37 L238.30 337.58 L238.51 337.77 L238.71 337.95 L238.91 338.11 L239.11 338.25 L239.32 338.36 L239.52 338.44 L239.72 338.48 L239.92 338.50 L240.12 338.48 L240.33 338.44 L240.53 338.36 L240.73 338.25 L240.94 338.11 L241.14 337.95 L241.34 337.77 L241.54 337.58 L241.75 337.37 L241.95 337.16 L242.15 336.94 L242.35 336.73 L242.56 336.52 L242.76 336.32 L242.96 336.15 L243.16 335.99 L243.37 335.85 L243.57 335.74 L243.77 335.66 L243.97 335.62 L244.18 335.60 L244.38 335.62 L244.58 335.66 L244.78 335.74 L244.99 335.85 L245.19 335.99 L245.39 336.15 L245.59 336.32 L245.80 336.52 L246.00 336.73 L246.20 336.94 L246.40 337.16 L246.61 337.37 L246.81 337.58 L247.01 337.77 L247.21 337.95 L247.42 338.11 L247.62 338.25 L247.82 338.36 L248.02 338.44 L248.23 338.48 L248.43 338.50 L248.63 338.48 L248.83 338.44 L249.03 338.36 L249.24 338.25 L249.44 338.11 L249.64 337.95 L249.84 337.77 L250.05 337.58 L250.25 337.37 L250.45 337.16 L250.66 336.94 L250.86 336.73 L251.06 336.52 L251.26 336.32 L251.47 336.15 L251.67 335.99 L251.87 335.85 L252.07 335.74 L252.28 335.66 L252.48 335.62 L252.68 335.60 L252.88 335.62 L253.09 335.66 L253.29 335.74 L253.49 335.85 L253.69 335.99 L253.90 336.15 L254.10 336.32 L254.30 336.52 L254.50 336.73 L254.71 336.94 L254.91 337.16 L255.11 337.37 L255.31 337.58 L255.52 337.77 L255.72 337.95 L255.92 338.11 L256.12 338.25 L256.32 338.36 L256.53 338.44 L256.73 338.48 L256.93 338.50 L257.13 338.48 L257.34 338.44 L257.54 338.36 L257.74 338.25 L257.94 338.11 L258.15 337.95 L258.35 337.77 L258.55 337.58 L258.75 337.37 L258.96 337.16 L259.16 336.94 L259.36 336.73 L259.56 336.52 L259.77 336.32 L259.97 336.15 L260.17 335.99 L260.38 335.85 L260.58 335.74 L260.78 335.66 L260.98 335.62 L261.19 335.60 L261.39 335.62 L261.59 335.66 L261.79 335.74 L262.00 335.85 L262.20 335.99 L262.40 336.15 L262.60 336.32 L262.81 336.52 L263.01 336.73 L263.21 336.94 L263.41 337.16 L263.62 337.37 L263.82 337.58 L264.02 337.77 L264.22 337.95 L264.43 338.11 L264.63 338.25 L264.83 338.36 L265.03 338.44 L265.24 338.48 L265.44 338.50 L265.64 338.48 L265.84 338.44 L266.05 338.36 L266.25 338.25 L266.45 338.11 L266.65 337.95 L266.86 337.77 L267.06 337.58 L267.26 337.37 L267.46 337.16 L267.67 336.94 L267.87 336.73 L268.07 336.52 L268.27 336.32 L268.48 336.15 L268.68 335.99 L268.88 335.85 L269.08 335.74 L269.29 335.66 L269.49 335.62 L269.69 335.60 L269.89 335.62 L270.09 335.66 L270.30 335.74 L270.50 335.85 L270.70 335.99 L270.90 336.15 L271.11 336.32 L271.31 336.52 L271.51 336.73 L271.71 336.94 L271.92 337.16 L272.12 337.37 L272.32 337.58 L272.52 337.77 L272.73 337.95 L272.93 338.11 L273.13 338.25 L273.33 338.36 L273.54 338.44 L273.74 338.48 L273.94 338.50 L274.14 338.48 L274.35 338.44 L274.55 338.36 L274.75 338.25 L274.95 338.11 L275.16 337.95 L275.36 337.77 L275.56 337.58 L275.77 337.37 L275.97 337.16 L276.17 336.94 L276.37 336.73 L276.58 336.52 L276.78 336.32 L276.98 336.15 L277.18 335.99 L277.39 335.85 L277.59 335.74 L277.79 335.66 L277.99 335.62 L278.20 335.60 L278.40 335.62 L278.60 335.66 L278.80 335.74 L279.01 335.85 L279.21 335.99 L279.41 336.15 L279.61 336.32 L279.82 336.52 L280.02 336.73 L280.22 336.94 L280.42 337.16 L280.62 337.37 L280.83 337.58 L281.03 337.77 L281.23 337.95 L281.44 338.11 L281.64 338.25 L281.84 338.36 L282.04 338.44 L282.25 338.48 L282.45 338.50 L282.65 338.48 L282.85 338.44 L283.06 338.36 L283.26 338.25 L283.46 338.11 L283.66 337.95 L283.87 337.77 L284.07 337.58 L284.27 337.37 L284.47 337.16 L284.68 336.94 L284.88 336.73 L285.08 336.52 L285.28 336.32 L285.49 336.15 L285.69 335.99 L285.89 335.85 L286.09 335.74 L286.30 335.66 L286.50 335.62 L286.70 335.60 L286.90 335.62 L287.11 335.66 L287.31 335.74 L287.51 335.85 L287.71 335.99 L287.92 336.15 L288.12 336.32 L288.32 336.52 L288.52 336.73 L288.73 336.94 L288.93 337.16 L289.13 337.37 L289.33 337.58 L289.54 337.77 L289.74 337.95 L289.94 338.11 L290.14 338.25 L290.34 338.36 L290.55 338.44 L290.75 338.48 L290.95 338.50 L291.15 338.48 L291.36 338.44 L291.56 338.36 L291.76 338.25 L291.96 338.11 L292.17 337.95 L292.37 337.77 L292.57 337.58 L292.78 337.37 L292.98 337.16 L293.18 336.94 L293.38 336.73 L293.59 336.52 L293.79 336.32 L293.99 336.15 L294.19 335.99 L294.40 335.85 L294.60 335.74 L294.80 335.66 L295.00 335.62 L295.21 335.60 L295.41 335.62 L295.61 335.66 L295.81 335.74 L296.02 335.85 L296.22 335.99 L296.42 336.15 L296.62 336.32 L296.83 336.52 L297.03 336.73 L297.23 336.94 L297.43 337.16 L297.63 337.37 L297.84 337.58 L298.04 337.77 L298.24 337.95 L298.44 338.11 L298.65 338.25 L298.85 338.36 L299.05 338.44 L299.25 338.48 L299.46 338.50 L299.66 338.48 L299.86 338.44 L300.06 338.36 L300.27 338.25" fill="none" stroke="#D95319" stroke-width="0.80" stroke-linejoin="round"/>
<path d="M26.70 471.70 L27.20 486.70 L28.20 515.40 L29.50 507.70 L32.00 496.70 L34.00 491.00 L35.30 490.00 L36.60 491.20 L38.60 495.70 L41.00 499.90 L43.30 501.90 L48.00 502.20 L51.80 502.10 L53.10 501.30 L56.40 501.00 L57.60 500.30 L57.80 500.18 L58.01 499.80 L58.21 499.19 L58.42 498.34 L58.62 497.27 L58.82 496.00 L59.03 494.55 L59.23 492.94 L59.44 491.20 L59.64 489.35 L59.84 487.42 L60.05 485.45 L60.25 483.45 L60.46 481.48 L60.66 479.55 L60.86 477.70 L61.07 475.96 L61.27 474.35 L61.48 472.90 L61.68 471.63 L61.88 470.56 L62.09 469.71 L62.29 469.10 L62.50 468.72 L62.70 468.60 L62.91 468.73 L63.11 469.13 L63.32 469.79 L63.52 470.68 L63.73 471.78 L63.93 473.06 L64.14 474.49 L64.34 476.03 L64.55 477.64 L64.75 479.26 L64.96 480.87 L65.16 482.41 L65.37 483.84 L65.57 485.12 L65.78 486.22 L65.98 487.11 L66.19 487.77 L66.39 488.17 L66.60 488.30 L66.80 488.18 L67.00 487.84 L67.20 487.27 L67.40 486.49 L67.60 485.52 L67.80 484.38 L68.00 483.10 L68.20 481.70 L68.40 480.21 L68.60 478.68 L68.80 477.12 L69.00 475.59 L69.20 474.10 L69.40 472.70 L69.60 471.42 L69.80 470.28 L70.00 469.31 L70.20 468.53 L70.40 467.96 L70.60 467.62 L70.80 467.50 L71.01 467.67 L71.21 468.16 L71.42 468.98 L71.62 470.08 L71.83 471.45 L72.03 473.05 L72.24 474.83 L72.44 476.74 L72.65 478.74 L72.85 480.76 L73.06 482.76 L73.26 484.67 L73.47 486.45 L73.67 488.05 L73.88 489.42 L74.08 490.52 L74.29 491.34 L74.49 491.83 L74.70 492.00 L74.90 491.87 L75.10 491.48 L75.30 490.84 L75.50 489.98 L75.70 488.90 L75.90 487.63 L76.10 486.21 L76.30 484.68 L76.50 483.06 L76.70 481.40 L76.90 479.74 L77.10 478.12 L77.30 476.59 L77.50 475.17 L77.70 473.90 L77.90 472.82 L78.10 471.96 L78.30 471.32 L78.50 470.93 L78.70 470.80 L78.91 470.95 L79.11 471.39 L79.32 472.12 L79.52 473.10 L79.73 474.32 L79.93 475.73 L80.14 477.28 L80.34 478.94 L80.55 480.65 L80.76 482.36 L80.96 484.02 L81.17 485.57 L81.37 486.98 L81.58 488.20 L81.78 489.18 L81.99 489.91 L82.19 490.35 L82.40 490.50 L82.61 490.37 L82.81 489.98 L83.02 489.34 L83.22 488.47 L83.43 487.39 L83.63 486.13 L83.84 484.73 L84.04 483.22 L84.25 481.65 L84.45 480.05 L84.66 478.48 L84.86 476.97 L85.07 475.57 L85.27 474.31 L85.48 473.23 L85.68 472.36 L85.89 471.72 L86.09 471.33 L86.30 471.20 L86.50 471.34 L86.70 471.74 L86.90 472.39 L87.10 473.29 L87.30 474.39 L87.50 475.69 L87.70 477.12 L87.90 478.67 L88.10 480.28 L88.30 481.92 L88.50 483.53 L88.70 485.08 L88.90 486.51 L89.11 487.81 L89.31 488.91 L89.51 489.81 L89.71 490.46 L89.91 490.86 L90.11 491.00 L90.31 490.86 L90.51 490.46 L90.71 489.81 L90.91 488.91 L91.11 487.81 L91.31 486.51 L91.51 485.08 L91.71 483.53 L91.91 481.92 L92.11 480.28 L92.31 478.67 L92.51 477.12 L92.71 475.69 L92.91 474.39 L93.11 473.29 L93.31 472.39 L93.51 471.74 L93.71 471.34 L93.91 471.20 L94.11 471.34 L94.31 471.74 L94.52 472.39 L94.72 473.29 L94.92 474.39 L95.12 475.69 L95.32 477.12 L95.52 478.67 L95.72 480.28 L95.92 481.92 L96.12 483.53 L96.32 485.08 L96.52 486.51 L96.72 487.81 L96.92 488.91 L97.12 489.81 L97.32 490.46 L97.52 490.86 L97.72 491.00 L97.92 490.86 L98.12 490.46 L98.32 489.81 L98.52 488.91 L98.72 487.81 L98.92 486.51 L99.12 485.08 L99.32 483.53 L99.52 481.92 L99.72 480.28 L99.93 478.67 L100.13 477.12 L100.33 475.69 L100.53 474.39 L100.73 473.29 L100.93 472.39 L101.13 471.74 L101.33 471.34 L101.53 471.20 L101.73 471.34 L101.93 471.74 L102.13 472.39 L102.33 473.29 L102.53 474.39 L102.73 475.69 L102.93 477.12 L103.13 478.67 L103.33 480.28 L103.53 481.92 L103.73 483.53 L103.93 485.08 L104.13 486.51 L104.33 487.81 L104.53 488.91 L104.73 489.81 L104.93 490.46 L105.13 490.86 L105.33 491.00 L105.54 490.86 L105.74 490.46 L105.94 489.81 L106.14 488.91 L106.34 487.81 L106.54 486.51 L106.74 485.08 L106.94 483.53 L107.14 481.92 L107.34 480.28 L107.54 478.67 L107.74 477.12 L107.94 475.69 L108.14 474.39 L108.34 473.29 L108.54 472.39 L108.74 471.74 L108.94 471.34 L109.14 471.20 L109.34 471.34 L109.54 471.74 L109.74 472.39 L109.94 473.29 L110.14 474.39 L110.34 475.69 L110.54 477.12 L110.74 478.67 L110.95 480.28 L111.15 481.92 L111.35 483.53 L111.55 485.08 L111.75 486.51 L111.95 487.81 L112.15 488.91 L112.35 489.81 L112.55 490.46 L112.75 490.86 L112.95 491.00 L113.15 490.86 L113.35 490.46 L113.55 489.81 L113.75 488.91 L113.95 487.81 L114.15 486.51 L114.35 485.08 L114.55 483.53 L114.75 481.92 L114.95 480.28 L115.15 478.67 L115.35 477.12 L115.55 475.69 L115.75 474.39 L115.95 473.29 L116.15 472.39 L116.36 471.74 L116.56 471.34 L116.76 471.20 L116.96 471.34 L117.16 471.74 L117.36 472.39 L117.56 473.29 L117.76 474.39 L117.96 475.69 L118.16 477.12 L118.36 478.67 L118.56 480.28 L118.76 481.92 L118.96 483.53 L119.16 485.08 L119.36 486.51 L119.56 487.81 L119.76 488.91 L119.96 489.81 L120.16 490.46 L120.36 490.86 L120.56 491.00 L120.76 490.86 L120.96 490.46 L121.16 489.81 L121.36 488.91 L121.56 487.81 L121.77 486.51 L121.97 485.08 L122.17 483.53 L122.37 481.92 L122.57 480.28 L122.77 478.67 L122.97 477.12 L123.17 475.69 L123.37 474.39 L123.57 473.29 L123.77 472.39 L123.97 471.74 L124.17 471.34 L124.37 471.20 L124.57 471.34 L124.77 471.74 L124.97 472.39 L125.17 473.29 L125.37 474.39 L125.57 475.69 L125.77 477.12 L125.97 478.67 L126.17 480.28 L126.37 481.92 L126.57 483.53 L126.77 485.08 L126.97 486.51 L127.18 487.81 L127.38 488.91 L127.58 489.81 L127.78 490.46 L127.98 490.86 L128.18 491.00 L128.38 490.86 L128.58 490.46 L128.78 489.81 L128.98 488.91 L129.18 487.81 L129.38 486.51 L129.58 485.08 L129.78 483.53 L129.98 481.92 L130.18 480.28 L130.38 478.67 L130.58 477.12 L130.78 475.69 L130.98 474.39 L131.18 473.29 L131.38 472.39 L131.58 471.74 L131.78 471.34 L131.98 471.20 L132.18 471.34 L132.38 471.74 L132.59 472.39 L132.79 473.29 L132.99 474.39 L133.19 475.69 L133.39 477.12 L133.59 478.67 L133.79 480.28 L133.99 481.92 L134.19 483.53 L134.39 485.08 L134.59 486.51 L134.79 487.81 L134.99 488.91 L135.19 489.81 L135.39 490.46 L135.59 490.86 L135.79 491.00 L135.99 490.86 L136.19 490.46 L136.39 489.81 L136.59 488.91 L136.79 487.81 L136.99 486.51 L137.19 485.08 L137.39 483.53 L137.59 481.92 L137.79 480.28 L138.00 478.67 L138.20 477.12 L138.40 475.69 L138.60 474.39 L138.80 473.29 L139.00 472.39 L139.20 471.74 L139.40 471.34 L139.60 471.20 L139.80 471.34 L140.00 471.74 L140.20 472.39 L140.40 473.29 L140.60 474.39 L140.80 475.69 L141.00 477.12 L141.20 478.67 L141.40 480.28 L141.60 481.92 L141.80 483.53 L142.00 485.08 L142.20 486.51 L142.40 487.81 L142.60 488.91 L142.80 489.81 L143.00 490.46 L143.20 490.86 L143.41 491.00 L143.61 490.86 L143.81 490.46 L144.01 489.81 L144.21 488.91 L144.41 487.81 L144.61 486.51 L144.81 485.08 L145.01 483.53 L145.21 481.92 L145.41 480.28 L145.61 478.67 L145.81 477.12 L146.01 475.69 L146.21 474.39 L146.41 473.29 L146.61 472.39 L146.81 471.74 L147.01 471.34 L147.21 471.20 L147.41 471.34 L147.61 471.74 L147.81 472.39 L148.01 473.29 L148.21 474.39 L148.41 475.69 L148.61 477.12 L148.81 478.67 L149.02 480.28 L149.22 481.92 L149.42 483.53 L149.62 485.08 L149.82 486.51 L150.02 487.81 L150.22 488.91 L150.42 489.81 L150.62 490.46 L150.82 490.86 L151.02 491.00 L151.22 490.86 L151.42 490.46 L151.62 489.81 L151.82 488.91 L152.02 487.81 L152.22 486.51 L152.42 485.08 L152.62 483.53 L152.82 481.92 L153.02 480.28 L153.22 478.67 L153.42 477.12 L153.62 475.69 L153.82 474.39 L154.02 473.29 L154.22 472.39 L154.43 471.74 L154.63 471.34 L154.83 471.20 L155.03 471.34 L155.23 471.74 L155.43 472.39 L155.63 473.29 L155.83 474.39 L156.03 475.69 L156.23 477.12 L156.43 478.67 L156.63 480.28 L156.83 481.92 L157.03 483.53 L157.23 485.08 L157.43 486.51 L157.63 487.81 L157.83 488.91 L158.03 489.81 L158.23 490.46 L158.43 490.86 L158.63 491.00 L158.83 490.86 L159.03 490.46 L159.23 489.81 L159.43 488.91 L159.63 487.81 L159.84 486.51 L160.04 485.08 L160.24 483.53 L160.44 481.92 L160.64 480.28 L160.84 478.67 L161.04 477.12 L161.24 475.69 L161.44 474.39 L161.64 473.29 L161.84 472.39 L162.04 471.74 L162.24 471.34 L162.44 471.20 L162.64 471.34 L162.84 471.74 L163.04 472.39 L163.24 473.29 L163.44 474.39 L163.64 475.69 L163.84 477.12 L164.04 478.67 L164.24 480.28 L164.44 481.92 L164.64 483.53 L164.84 485.08 L165.04 486.51 L165.25 487.81 L165.45 488.91 L165.65 489.81 L165.85 490.46 L166.05 490.86 L166.25 491.00 L166.45 490.86 L166.65 490.46 L166.85 489.81 L167.05 488.91 L167.25 487.81 L167.45 486.51 L167.65 485.08 L167.85 483.53 L168.05 481.92 L168.25 480.28 L168.45 478.67 L168.65 477.12 L168.85 475.69 L169.05 474.39 L169.25 473.29 L169.45 472.39 L169.65 471.74 L169.85 471.34 L170.05 471.20 L170.25 471.34 L170.45 471.74 L170.66 472.39 L170.86 473.29 L171.06 474.39 L171.26 475.69 L171.46 477.12 L171.66 478.67 L171.86 480.28 L172.06 481.92 L172.26 483.53 L172.46 485.08 L172.66 486.51 L172.86 487.81 L173.06 488.91 L173.26 489.81 L173.46 490.46 L173.66 490.86 L173.86 491.00 L174.06 490.86 L174.26 490.46 L174.46 489.81 L174.66 488.91 L174.86 487.81 L175.06 486.51 L175.26 485.08 L175.46 483.53 L175.66 481.92 L175.86 480.28 L176.07 478.67 L176.27 477.12 L176.47 475.69 L176.67 474.39 L176.87 473.29 L177.07 472.39 L177.27 471.74 L177.47 471.34 L177.67 471.20 L177.87 471.34 L178.07 471.74 L178.27 472.39 L178.47 473.29 L178.67 474.39 L178.87 475.69 L179.07 477.12 L179.27 478.67 L179.47 480.28 L179.67 481.92 L179.87 483.53 L180.07 485.08 L180.27 486.51 L180.47 487.81 L180.67 488.91 L180.87 489.81 L181.07 490.46 L181.27 490.86 L181.47 491.00 L181.68 490.86 L181.88 490.46 L182.08 489.81 L182.28 488.91 L182.48 487.81 L182.68 486.51 L182.88 485.08 L183.08 483.53 L183.28 481.92 L183.48 480.28 L183.68 478.67 L183.88 477.12 L184.08 475.69 L184.28 474.39 L184.48 473.29 L184.68 472.39 L184.88 471.74 L185.08 471.34 L185.28 471.20 L185.48 471.34 L185.68 471.74 L185.88 472.39 L186.08 473.29 L186.28 474.39 L186.48 475.69 L186.68 477.12 L186.88 478.67 L187.09 480.28 L187.29 481.92 L187.49 483.53 L187.69 485.08 L187.89 486.51 L188.09 487.81 L188.29 488.91 L188.49 489.81 L188.69 490.46 L188.89 490.86 L189.09 491.00 L189.29 490.86 L189.49 490.46 L189.69 489.81 L189.89 488.91 L190.09 487.81 L190.29 486.51 L190.49 485.08 L190.69 483.53 L190.89 481.92 L191.09 480.28 L191.29 478.67 L191.49 477.12 L191.69 475.69 L191.89 474.39 L192.09 473.29 L192.29 472.39 L192.50 471.74 L192.70 471.34 L192.90 471.20 L193.10 471.34 L193.30 471.74 L193.50 472.39 L193.70 473.29 L193.90 474.39 L194.10 475.69 L194.30 477.12 L194.50 478.67 L194.70 480.28 L194.90 481.92 L195.10 483.53 L195.30 485.08 L195.50 486.51 L195.70 487.81 L195.90 488.91 L196.10 489.81 L196.30 490.46 L196.50 490.86 L196.70 491.00 L196.90 490.86 L197.10 490.46 L197.30 489.81 L197.50 488.91 L197.70 487.81 L197.91 486.51 L198.11 485.08 L198.31 483.53 L198.51 481.92 L198.71 480.28 L198.91 478.67 L199.11 477.12 L199.31 475.69 L199.51 474.39 L199.71 473.29 L199.91 472.39 L200.11 471.74 L200.31 471.34 L200.51 471.20 L200.71 471.34 L200.91 471.74 L201.11 472.39 L201.31 473.29 L201.51 474.39 L201.71 475.69 L201.91 477.12 L202.11 478.67 L202.31 480.28 L202.51 481.92 L202.71 483.53 L202.91 485.08 L203.11 486.51 L203.32 487.81 L203.52 488.91 L203.72 489.81 L203.92 490.46 L204.12 490.86 L204.32 491.00 L204.52 490.86 L204.72 490.46 L204.92 489.81 L205.12 488.91 L205.32 487.81 L205.52 486.51 L205.72 485.08 L205.92 483.53 L206.12 481.92 L206.32 480.28 L206.52 478.67 L206.72 477.12 L206.92 475.69 L207.12 474.39 L207.32 473.29 L207.52 472.39 L207.72 471.74 L207.92 471.34 L208.12 471.20 L208.32 471.34 L208.52 471.74 L208.73 472.39 L208.93 473.29 L209.13 474.39 L209.33 475.69 L209.53 477.12 L209.73 478.67 L209.93 480.28 L210.13 481.92 L210.33 483.53 L210.53 485.08 L210.73 486.51 L210.93 487.81 L211.13 488.91 L211.33 489.81 L211.53 490.46 L211.73 490.86 L211.93 491.00 L212.13 490.86 L212.33 490.46 L212.53 489.81 L212.73 488.91 L212.93 487.81 L213.13 486.51 L213.33 485.08 L213.53 483.53 L213.73 481.92 L213.93 480.28 L214.14 478.67 L214.34 477.12 L214.54 475.69 L214.74 474.39 L214.94 473.29 L215.14 472.39 L215.34 471.74 L215.54 471.34 L215.74 471.20 L215.94 471.34 L216.14 471.74 L216.34 472.39 L216.54 473.29 L216.74 474.39 L216.94 475.69 L217.14 477.12 L217.34 478.67 L217.54 480.28 L217.74 481.92 L217.94 483.53 L218.14 485.08 L218.34 486.51 L218.54 487.81 L218.74 488.91 L218.94 489.81 L219.14 490.46 L219.34 490.86 L219.55 491.00 L219.75 490.86 L219.95 490.46 L220.15 489.81 L220.35 488.91 L220.55 487.81 L220.75 486.51 L220.95 485.08 L221.15 483.53 L221.35 481.92 L221.55 480.28 L221.75 478.67 L221.95 477.12 L222.15 475.69 L222.35 474.39 L222.55 473.29 L222.75 472.39 L222.95 471.74 L223.15 471.34 L223.35 471.20 L223.55 471.34 L223.75 471.74 L223.95 472.39 L224.15 473.29 L224.35 474.39 L224.55 475.69 L224.75 477.12 L224.95 478.67 L225.16 480.28 L225.36 481.92 L225.56 483.53 L225.76 485.08 L225.96 486.51 L226.16 487.81 L226.36 488.91 L226.56 489.81 L226.76 490.46 L226.96 490.86 L227.16 491.00 L227.36 490.86 L227.56 490.46 L227.76 489.81 L227.96 488.91 L228.16 487.81 L228.36 486.51 L228.56 485.08 L228.76 483.53 L228.96 481.92 L229.16 480.28 L229.36 478.67 L229.56 477.12 L229.76 475.69 L229.96 474.39 L230.16 473.29 L230.36 472.39 L230.57 471.74 L230.77 471.34 L230.97 471.20 L231.17 471.34 L231.37 471.74 L231.57 472.39 L231.77 473.29 L231.97 474.39 L232.17 475.69 L232.37 477.12 L232.57 478.67 L232.77 480.28 L232.97 481.92 L233.17 483.53 L233.37 485.08 L233.57 486.51 L233.77 487.81 L233.97 488.91 L234.17 489.81 L234.37 490.46 L234.57 490.86 L234.77 491.00 L234.97 490.86 L235.17 490.46 L235.37 489.81 L235.57 488.91 L235.77 487.81 L235.98 486.51 L236.18 485.08 L236.38 483.53 L236.58 481.92 L236.78 480.28 L236.98 478.67 L237.18 477.12 L237.38 475.69 L237.58 474.39 L237.78 473.29 L237.98 472.39 L238.18 471.74 L238.38 471.34 L238.58 471.20 L238.78 471.34 L238.98 471.74 L239.18 472.39 L239.38 473.29 L239.58 474.39 L239.78 475.69 L239.98 477.12 L240.18 478.67 L240.38 480.28 L240.58 481.92 L240.78 483.53 L240.98 485.08 L241.18 486.51 L241.39 487.81 L241.59 488.91 L241.79 489.81 L241.99 490.46 L242.19 490.86 L242.39 491.00 L242.59 490.86 L242.79 490.46 L242.99 489.81 L243.19 488.91 L243.39 487.81 L243.59 486.51 L243.79 485.08 L243.99 483.53 L244.19 481.92 L244.39 480.28 L244.59 478.67 L244.79 477.12 L244.99 475.69 L245.19 474.39 L245.39 473.29 L245.59 472.39 L245.79 471.74 L245.99 471.34 L246.19 471.20 L246.39 471.34 L246.59 471.74 L246.80 472.39 L247.00 473.29 L247.20 474.39 L247.40 475.69 L247.60 477.12 L247.80 478.67 L248.00 480.28 L248.20 481.92 L248.40 483.53 L248.60 485.08 L248.80 486.51 L249.00 487.81 L249.20 488.91 L249.40 489.81 L249.60 490.46 L249.80 490.86 L250.00 491.00 L250.20 490.86 L250.40 490.46 L250.60 489.81 L250.80 488.91 L251.00 487.81 L251.20 486.51 L251.40 485.08 L251.60 483.53 L251.80 481.92 L252.00 480.28 L252.21 478.67 L252.41 477.12 L252.61 475.69 L252.81 474.39 L253.01 473.29 L253.21 472.39 L253.41 471.74 L253.61 471.34 L253.81 471.20 L254.01 471.34 L254.21 471.74 L254.41 472.39 L254.61 473.29 L254.81 474.39 L255.01 475.69 L255.21 477.12 L255.41 478.67 L255.61 480.28 L255.81 481.92 L256.01 483.53 L256.21 485.08 L256.41 486.51 L256.61 487.81 L256.81 488.91 L257.01 489.81 L257.21 490.46 L257.41 490.86 L257.62 491.00 L257.82 490.86 L258.02 490.46 L258.22 489.81 L258.42 488.91 L258.62 487.81 L258.82 486.51 L259.02 485.08 L259.22 483.53 L259.42 481.92 L259.62 480.28 L259.82 478.67 L260.02 477.12 L260.22 475.69 L260.42 474.39 L260.62 473.29 L260.82 472.39 L261.02 471.74 L261.22 471.34 L261.42 471.20 L261.62 471.34 L261.82 471.74 L262.02 472.39 L262.22 473.29 L262.42 474.39 L262.62 475.69 L262.82 477.12 L263.02 478.67 L263.23 480.28 L263.43 481.92 L263.63 483.53 L263.83 485.08 L264.03 486.51 L264.23 487.81 L264.43 488.91 L264.63 489.81 L264.83 490.46 L265.03 490.86 L265.23 491.00 L265.43 490.86 L265.63 490.46 L265.83 489.81 L266.03 488.91 L266.23 487.81 L266.43 486.51 L266.63 485.08 L266.83 483.53 L267.03 481.92 L267.23 480.28 L267.43 478.67 L267.63 477.12 L267.83 475.69 L268.03 474.39 L268.23 473.29 L268.43 472.39 L268.64 471.74 L268.84 471.34 L269.04 471.20 L269.24 471.34 L269.44 471.74 L269.64 472.39 L269.84 473.29 L270.04 474.39 L270.24 475.69 L270.44 477.12 L270.64 478.67 L270.84 480.28 L271.04 481.92 L271.24 483.53 L271.44 485.08 L271.64 486.51 L271.84 487.81 L272.04 488.91 L272.24 489.81 L272.44 490.46 L272.64 490.86 L272.84 491.00 L273.04 490.86 L273.24 490.46 L273.44 489.81 L273.64 488.91 L273.84 487.81 L274.05 486.51 L274.25 485.08 L274.45 483.53 L274.65 481.92 L274.85 480.28 L275.05 478.67 L275.25 477.12 L275.45 475.69 L275.65 474.39 L275.85 473.29 L276.05 472.39 L276.25 471.74 L276.45 471.34 L276.65 471.20 L276.85 471.34 L277.05 471.74 L277.25 472.39 L277.45 473.29 L277.65 474.39 L277.85 475.69 L278.05 477.12 L278.25 478.67 L278.45 480.28 L278.65 481.92 L278.85 483.53 L279.05 485.08 L279.25 486.51 L279.46 487.81 L279.66 488.91 L279.86 489.81 L280.06 490.46 L280.26 490.86 L280.46 491.00 L280.66 490.86 L280.86 490.46 L281.06 489.81 L281.26 488.91 L281.46 487.81 L281.66 486.51 L281.86 485.08 L282.06 483.53 L282.26 481.92 L282.46 480.28 L282.66 478.67 L282.86 477.12 L283.06 475.69 L283.26 474.39 L283.46 473.29 L283.66 472.39 L283.86 471.74 L284.06 471.34 L284.26 471.20 L284.46 471.34 L284.66 471.74 L284.87 472.39 L285.07 473.29 L285.27 474.39 L285.47 475.69 L285.67 477.12 L285.87 478.67 L286.07 480.28 L286.27 481.92 L286.47 483.53 L286.67 485.08 L286.87 486.51 L287.07 487.81 L287.27 488.91 L287.47 489.81 L287.67 490.46 L287.87 490.86 L288.07 491.00 L288.27 490.86 L288.47 490.46 L288.67 489.81 L288.87 488.91 L289.07 487.81 L289.27 486.51 L289.47 485.08 L289.67 483.53 L289.87 481.92 L290.07 480.28 L290.28 478.67 L290.48 477.12 L290.68 475.69 L290.88 474.39 L291.08 473.29 L291.28 472.39 L291.48 471.74 L291.68 471.34 L291.88 471.20 L292.08 471.34 L292.28 471.74 L292.48 472.39 L292.68 473.29 L292.88 474.39 L293.08 475.69 L293.28 477.12 L293.48 478.67 L293.68 480.28 L293.88 481.92 L294.08 483.53 L294.28 485.08 L294.48 486.51 L294.68 487.81 L294.88 488.91 L295.08 489.81 L295.28 490.46 L295.48 490.86 L295.69 491.00 L295.89 490.86 L296.09 490.46 L296.29 489.81 L296.49 488.91 L296.69 487.81 L296.89 486.51 L297.09 485.08 L297.29 483.53 L297.49 481.92 L297.69 480.28 L297.89 478.67 L298.09 477.12 L298.29 475.69 L298.49 474.39 L298.69 473.29 L298.89 472.39 L299.09 471.74 L299.29 471.34 L299.49 471.20 L299.69 471.34 L299.89 471.74 L300.09 472.39 L300.29 473.29" fill="none" stroke="#0072BD" stroke-width="0.80" stroke-linejoin="round"/>
<line x1="26.60" y1="304.20" x2="300.40" y2="304.20" stroke="#262626" stroke-width="0.8" stroke-opacity="0.55"/>
<line x1="26.60" y1="519.00" x2="300.40" y2="519.00" stroke="#262626" stroke-width="0.8" stroke-opacity="0.55"/>
<line x1="26.60" y1="519.00" x2="26.60" y2="515.70" stroke="#262626" stroke-width="0.6" stroke-opacity="0.55"/>
<line x1="26.60" y1="304.20" x2="26.60" y2="307.50" stroke="#262626" stroke-width="0.6" stroke-opacity="0.55"/>
<path d="M763 0L583 0L583 1147Q518 1085 412 1023Q306 961 222 930L222 1104Q373 1175 486 1276Q599 1377 646 1472L763 1472Z" transform="translate(24.15 531.90) scale(0.00430 -0.00430)" fill="#404040"/>
<line x1="53.98" y1="519.00" x2="53.98" y2="515.70" stroke="#262626" stroke-width="0.6" stroke-opacity="0.55"/>
<line x1="53.98" y1="304.20" x2="53.98" y2="307.50" stroke="#262626" stroke-width="0.6" stroke-opacity="0.55"/>
<path d="M763 0L583 0L583 1147Q518 1085 412 1023Q306 961 222 930L222 1104Q373 1175 486 1276Q599 1377 646 1472L763 1472Z" transform="translate(47.86 531.90) scale(0.00430 -0.00430)" fill="#404040"/><text x="52.76" y="531.90" class="tk" fill="#404040">.</text><path d="M763 0L583 0L583 1147Q518 1085 412 1023Q306 961 222 930L222 1104Q373 1175 486 1276Q599 1377 646 1472L763 1472Z" transform="translate(55.20 531.90) scale(0.00430 -0.00430)" fill="#404040"/>
<line x1="81.36" y1="519.00" x2="81.36" y2="515.70" stroke="#262626" stroke-width="0.6" stroke-opacity="0.55"/>
<line x1="81.36" y1="304.20" x2="81.36" y2="307.50" stroke="#262626" stroke-width="0.6" stroke-opacity="0.55"/>
<path d="M763 0L583 0L583 1147Q518 1085 412 1023Q306 961 222 930L222 1104Q373 1175 486 1276Q599 1377 646 1472L763 1472Z" transform="translate(75.24 531.90) scale(0.00430 -0.00430)" fill="#404040"/><text x="80.14" y="531.90" class="tk" fill="#404040">.</text><text x="82.58" y="531.90" class="tk" fill="#404040">2</text>
<line x1="108.74" y1="519.00" x2="108.74" y2="515.70" stroke="#262626" stroke-width="0.6" stroke-opacity="0.55"/>
<line x1="108.74" y1="304.20" x2="108.74" y2="307.50" stroke="#262626" stroke-width="0.6" stroke-opacity="0.55"/>
<path d="M763 0L583 0L583 1147Q518 1085 412 1023Q306 961 222 930L222 1104Q373 1175 486 1276Q599 1377 646 1472L763 1472Z" transform="translate(102.62 531.90) scale(0.00430 -0.00430)" fill="#404040"/><text x="107.52" y="531.90" class="tk" fill="#404040">.</text><text x="109.96" y="531.90" class="tk" fill="#404040">3</text>
<line x1="136.12" y1="519.00" x2="136.12" y2="515.70" stroke="#262626" stroke-width="0.6" stroke-opacity="0.55"/>
<line x1="136.12" y1="304.20" x2="136.12" y2="307.50" stroke="#262626" stroke-width="0.6" stroke-opacity="0.55"/>
<path d="M763 0L583 0L583 1147Q518 1085 412 1023Q306 961 222 930L222 1104Q373 1175 486 1276Q599 1377 646 1472L763 1472Z" transform="translate(130.00 531.90) scale(0.00430 -0.00430)" fill="#404040"/><text x="134.90" y="531.90" class="tk" fill="#404040">.</text><text x="137.34" y="531.90" class="tk" fill="#404040">4</text>
<line x1="163.50" y1="519.00" x2="163.50" y2="515.70" stroke="#262626" stroke-width="0.6" stroke-opacity="0.55"/>
<line x1="163.50" y1="304.20" x2="163.50" y2="307.50" stroke="#262626" stroke-width="0.6" stroke-opacity="0.55"/>
<path d="M763 0L583 0L583 1147Q518 1085 412 1023Q306 961 222 930L222 1104Q373 1175 486 1276Q599 1377 646 1472L763 1472Z" transform="translate(157.38 531.90) scale(0.00430 -0.00430)" fill="#404040"/><text x="162.28" y="531.90" class="tk" fill="#404040">.</text><text x="164.72" y="531.90" class="tk" fill="#404040">5</text>
<line x1="190.88" y1="519.00" x2="190.88" y2="515.70" stroke="#262626" stroke-width="0.6" stroke-opacity="0.55"/>
<line x1="190.88" y1="304.20" x2="190.88" y2="307.50" stroke="#262626" stroke-width="0.6" stroke-opacity="0.55"/>
<path d="M763 0L583 0L583 1147Q518 1085 412 1023Q306 961 222 930L222 1104Q373 1175 486 1276Q599 1377 646 1472L763 1472Z" transform="translate(184.76 531.90) scale(0.00430 -0.00430)" fill="#404040"/><text x="189.66" y="531.90" class="tk" fill="#404040">.</text><text x="192.10" y="531.90" class="tk" fill="#404040">6</text>
<line x1="218.26" y1="519.00" x2="218.26" y2="515.70" stroke="#262626" stroke-width="0.6" stroke-opacity="0.55"/>
<line x1="218.26" y1="304.20" x2="218.26" y2="307.50" stroke="#262626" stroke-width="0.6" stroke-opacity="0.55"/>
<path d="M763 0L583 0L583 1147Q518 1085 412 1023Q306 961 222 930L222 1104Q373 1175 486 1276Q599 1377 646 1472L763 1472Z" transform="translate(212.14 531.90) scale(0.00430 -0.00430)" fill="#404040"/><text x="217.04" y="531.90" class="tk" fill="#404040">.</text><text x="219.48" y="531.90" class="tk" fill="#404040">7</text>
<line x1="245.64" y1="519.00" x2="245.64" y2="515.70" stroke="#262626" stroke-width="0.6" stroke-opacity="0.55"/>
<line x1="245.64" y1="304.20" x2="245.64" y2="307.50" stroke="#262626" stroke-width="0.6" stroke-opacity="0.55"/>
<path d="M763 0L583 0L583 1147Q518 1085 412 1023Q306 961 222 930L222 1104Q373 1175 486 1276Q599 1377 646 1472L763 1472Z" transform="translate(239.52 531.90) scale(0.00430 -0.00430)" fill="#404040"/><text x="244.42" y="531.90" class="tk" fill="#404040">.</text><text x="246.86" y="531.90" class="tk" fill="#404040">8</text>
<line x1="273.02" y1="519.00" x2="273.02" y2="515.70" stroke="#262626" stroke-width="0.6" stroke-opacity="0.55"/>
<line x1="273.02" y1="304.20" x2="273.02" y2="307.50" stroke="#262626" stroke-width="0.6" stroke-opacity="0.55"/>
<path d="M763 0L583 0L583 1147Q518 1085 412 1023Q306 961 222 930L222 1104Q373 1175 486 1276Q599 1377 646 1472L763 1472Z" transform="translate(266.90 531.90) scale(0.00430 -0.00430)" fill="#404040"/><text x="271.80" y="531.90" class="tk" fill="#404040">.</text><text x="274.24" y="531.90" class="tk" fill="#404040">9</text>
<line x1="300.40" y1="519.00" x2="300.40" y2="515.70" stroke="#262626" stroke-width="0.6" stroke-opacity="0.55"/>
<line x1="300.40" y1="304.20" x2="300.40" y2="307.50" stroke="#262626" stroke-width="0.6" stroke-opacity="0.55"/>
<text x="297.95" y="531.90" class="tk" fill="#404040">2</text>
<line x1="26.60" y1="304.20" x2="26.60" y2="519.00" stroke="#0072BD" stroke-width="0.9" stroke-opacity="0.60"/>
<line x1="300.50" y1="304.20" x2="300.50" y2="519.00" stroke="#D95319" stroke-width="0.9" stroke-opacity="0.70"/>
<line x1="26.60" y1="519.00" x2="29.60" y2="519.00" stroke="#0072BD" stroke-width="0.7" stroke-opacity="0.75"/>
<text x="18.31" y="522.50" class="tk" fill="#0072BD">0</text>
<line x1="300.40" y1="304.20" x2="297.40" y2="304.20" stroke="#D95319" stroke-width="0.7" stroke-opacity="0.6"/>
<text x="303.80" y="307.70" class="tk" fill="#D95319">0</text>
<line x1="26.60" y1="488.31" x2="29.60" y2="488.31" stroke="#0072BD" stroke-width="0.7" stroke-opacity="0.75"/>
<text x="18.31" y="491.81" class="tk" fill="#0072BD">5</text>
<line x1="300.40" y1="334.89" x2="297.40" y2="334.89" stroke="#D95319" stroke-width="0.7" stroke-opacity="0.6"/>
<text x="303.80" y="338.39" class="tk" fill="#D95319">-</text><text x="306.73" y="338.39" class="tk" fill="#D95319">5</text>
<line x1="26.60" y1="457.63" x2="29.60" y2="457.63" stroke="#0072BD" stroke-width="0.7" stroke-opacity="0.75"/>
<path d="M763 0L583 0L583 1147Q518 1085 412 1023Q306 961 222 930L222 1104Q373 1175 486 1276Q599 1377 646 1472L763 1472Z" transform="translate(13.41 461.13) scale(0.00430 -0.00430)" fill="#0072BD"/><text x="18.31" y="461.13" class="tk" fill="#0072BD">0</text>
<line x1="300.40" y1="365.57" x2="297.40" y2="365.57" stroke="#D95319" stroke-width="0.7" stroke-opacity="0.6"/>
<text x="303.80" y="369.07" class="tk" fill="#D95319">-</text><path d="M763 0L583 0L583 1147Q518 1085 412 1023Q306 961 222 930L222 1104Q373 1175 486 1276Q599 1377 646 1472L763 1472Z" transform="translate(306.73 369.07) scale(0.00430 -0.00430)" fill="#D95319"/><text x="311.62" y="369.07" class="tk" fill="#D95319">0</text>
<line x1="26.60" y1="426.94" x2="29.60" y2="426.94" stroke="#0072BD" stroke-width="0.7" stroke-opacity="0.75"/>
<path d="M763 0L583 0L583 1147Q518 1085 412 1023Q306 961 222 930L222 1104Q373 1175 486 1276Q599 1377 646 1472L763 1472Z" transform="translate(13.41 430.44) scale(0.00430 -0.00430)" fill="#0072BD"/><text x="18.31" y="430.44" class="tk" fill="#0072BD">5</text>
<line x1="300.40" y1="396.26" x2="297.40" y2="396.26" stroke="#D95319" stroke-width="0.7" stroke-opacity="0.6"/>
<text x="303.80" y="399.76" class="tk" fill="#D95319">-</text><path d="M763 0L583 0L583 1147Q518 1085 412 1023Q306 961 222 930L222 1104Q373 1175 486 1276Q599 1377 646 1472L763 1472Z" transform="translate(306.73 399.76) scale(0.00430 -0.00430)" fill="#D95319"/><text x="311.62" y="399.76" class="tk" fill="#D95319">5</text>
<line x1="26.60" y1="396.26" x2="29.60" y2="396.26" stroke="#0072BD" stroke-width="0.7" stroke-opacity="0.75"/>
<text x="13.41" y="399.76" class="tk" fill="#0072BD">2</text><text x="18.31" y="399.76" class="tk" fill="#0072BD">0</text>
<line x1="300.40" y1="426.94" x2="297.40" y2="426.94" stroke="#D95319" stroke-width="0.7" stroke-opacity="0.6"/>
<text x="303.80" y="430.44" class="tk" fill="#D95319">-</text><text x="306.73" y="430.44" class="tk" fill="#D95319">2</text><text x="311.62" y="430.44" class="tk" fill="#D95319">0</text>
<line x1="26.60" y1="365.57" x2="29.60" y2="365.57" stroke="#0072BD" stroke-width="0.7" stroke-opacity="0.75"/>
<text x="13.41" y="369.07" class="tk" fill="#0072BD">2</text><text x="18.31" y="369.07" class="tk" fill="#0072BD">5</text>
<line x1="300.40" y1="457.63" x2="297.40" y2="457.63" stroke="#D95319" stroke-width="0.7" stroke-opacity="0.6"/>
<text x="303.80" y="461.13" class="tk" fill="#D95319">-</text><text x="306.73" y="461.13" class="tk" fill="#D95319">2</text><text x="311.62" y="461.13" class="tk" fill="#D95319">5</text>
<line x1="26.60" y1="334.89" x2="29.60" y2="334.89" stroke="#0072BD" stroke-width="0.7" stroke-opacity="0.75"/>
<text x="13.41" y="338.39" class="tk" fill="#0072BD">3</text><text x="18.31" y="338.39" class="tk" fill="#0072BD">0</text>
<line x1="300.40" y1="488.31" x2="297.40" y2="488.31" stroke="#D95319" stroke-width="0.7" stroke-opacity="0.6"/>
<text x="303.80" y="491.81" class="tk" fill="#D95319">-</text><text x="306.73" y="491.81" class="tk" fill="#D95319">3</text><text x="311.62" y="491.81" class="tk" fill="#D95319">0</text>
<line x1="26.60" y1="304.20" x2="29.60" y2="304.20" stroke="#0072BD" stroke-width="0.7" stroke-opacity="0.75"/>
<text x="13.41" y="307.70" class="tk" fill="#0072BD">3</text><text x="18.31" y="307.70" class="tk" fill="#0072BD">5</text>
<line x1="300.40" y1="519.00" x2="297.40" y2="519.00" stroke="#D95319" stroke-width="0.7" stroke-opacity="0.6"/>
<text x="303.80" y="522.50" class="tk" fill="#D95319">-</text><text x="306.73" y="522.50" class="tk" fill="#D95319">3</text><text x="311.62" y="522.50" class="tk" fill="#D95319">5</text>
<text x="163.50" y="299.40" class="ttl" text-anchor="middle">Case-3 (DNV loads)</text>
<text x="163.50" y="545.80" class="lab" fill="#555555" stroke="#555555" text-anchor="middle">Time [Sec]</text>
<text transform="translate(9.00 412.90) rotate(-90)" class="lab" fill="#0072BD" stroke="#0072BD" text-anchor="middle">Peak Total Pressure [MPa]</text>
<text transform="translate(331.30 413.00) rotate(-90)" class="lab" fill="#D95319" stroke="#D95319" text-anchor="middle">Dang Van equivalent stress [MPa]</text>
<path d="M378.60 334.90 L378.80 335.18 L379.00 335.46 L379.20 335.73 L379.40 335.99 L379.60 336.24 L379.80 336.48 L380.00 336.70 L380.20 336.92 L380.40 337.14 L380.60 337.37 L380.80 337.60 L381.00 337.83 L381.20 338.06 L381.40 338.28 L381.60 338.51 L381.80 338.72 L382.00 338.93 L382.20 339.13 L382.40 339.31 L382.60 339.48 L382.80 339.63 L383.00 339.77 L383.20 339.88 L383.40 339.97 L383.60 340.04 L383.80 340.09 L384.00 340.10 L384.20 340.09 L384.40 340.07 L384.60 340.03 L384.80 339.99 L385.00 339.93 L385.20 339.87 L385.40 339.80 L385.60 339.72 L385.80 339.64 L386.00 339.56 L386.20 339.48 L386.40 339.40 L386.60 339.33 L386.80 339.26 L387.00 339.20 L387.20 339.14 L387.40 339.07 L387.60 339.00 L387.80 338.92 L388.00 338.85 L388.20 338.78 L388.40 338.71 L388.60 338.65 L388.80 338.59 L389.00 338.55 L389.20 338.52 L389.40 338.50 L389.60 338.50 L389.80 338.53 L390.00 338.58 L390.20 338.66 L390.40 338.75 L390.60 338.86 L390.80 338.98 L391.00 339.12 L391.20 339.26 L391.40 339.42 L391.60 339.57 L391.80 339.73 L392.00 339.88 L392.20 340.04 L392.40 340.18 L392.60 340.32 L392.80 340.44 L393.00 340.55 L393.20 340.64 L393.40 340.72 L393.60 340.77 L393.80 340.80 L394.00 340.79 L394.20 340.71 L394.40 340.55 L394.60 340.34 L394.80 340.08 L395.00 339.78 L395.20 339.46 L395.40 339.14 L395.60 338.81 L395.80 338.50 L396.00 338.21 L396.20 337.97 L396.40 337.77 L396.60 337.63 L396.80 337.50 L397.00 337.37 L397.20 337.24 L397.40 337.12 L397.60 337.00 L397.80 336.89 L398.00 336.79 L398.20 336.69 L398.40 336.61 L398.60 336.54 L398.80 336.48 L399.00 336.44 L399.20 336.41 L399.40 336.40 L399.60 336.40 L399.80 336.41 L400.00 336.42 L400.20 336.43 L400.40 336.45 L400.60 336.47 L400.80 336.49 L401.00 336.51 L401.20 336.54 L401.40 336.57 L401.60 336.60 L401.80 336.63 L402.00 336.66 L402.20 336.70 L402.40 336.73 L402.60 336.77 L402.80 336.80 L403.00 336.84 L403.20 336.87 L403.40 336.90 L403.60 336.94 L403.80 336.97 L404.00 337.00 L404.20 337.03 L404.40 337.06 L404.60 337.09 L404.80 337.11 L405.00 337.14 L405.20 337.17 L405.40 337.20 L405.60 337.22 L405.80 337.25 L406.00 337.28 L406.20 337.32 L406.40 337.35 L406.60 337.38 L406.80 337.42 L407.00 337.46 L407.20 337.50 L407.40 337.55 L407.60 337.59 L407.80 337.65 L408.00 337.70 L408.20 337.77 L408.40 337.85 L408.60 337.94 L408.80 338.05 L409.00 338.17 L409.20 338.30 L409.40 338.43 L409.60 338.57 L409.80 338.71 L410.00 338.85 L410.20 338.99 L410.40 339.13 L410.60 339.27 L410.80 339.44 L411.00 339.62 L411.20 339.82 L411.40 340.02 L411.60 340.21 L411.80 340.38 L412.00 340.53 L412.20 340.63 L412.40 340.69 L412.60 340.69 L412.80 340.64 L413.00 340.55 L413.20 340.42 L413.40 340.26 L413.60 340.07 L413.80 339.87 L414.00 339.65 L414.20 339.43 L414.40 339.21 L414.60 338.99 L414.80 338.79 L415.00 338.60 L415.20 338.39 L415.40 338.15 L415.60 337.89 L415.80 337.62 L416.00 337.36 L416.20 337.10 L416.40 336.87 L416.60 336.66 L416.80 336.49 L417.00 336.37 L417.20 336.31 L417.40 336.30 L417.60 336.34 L417.80 336.39 L418.00 336.47 L418.20 336.55 L418.40 336.64 L418.60 336.73 L418.80 336.80 L419.00 336.88 L419.20 336.96 L419.40 337.05 L419.60 337.13 L419.80 337.18 L420.00 337.20 L420.20 337.20 L420.40 337.20 L420.60 337.20 L420.80 337.20 L421.00 337.20 L421.20 337.20 L421.40 337.20 L421.60 337.20 L421.80 337.20 L422.00 337.20 L422.20 337.21 L422.40 337.23 L422.60 337.26 L422.80 337.31 L423.00 337.36 L423.20 337.41 L423.40 337.47 L423.60 337.53 L423.80 337.61 L424.00 337.70 L424.20 337.82 L424.40 337.94 L424.60 338.07 L424.80 338.22 L425.00 338.37 L425.20 338.52 L425.40 338.67 L425.60 338.82 L425.80 338.96 L426.00 339.10 L426.20 339.23 L426.40 339.35 L426.60 339.45 L426.80 339.56 L427.00 339.67 L427.20 339.79 L427.40 339.90 L427.60 340.02 L427.80 340.13 L428.00 340.24 L428.20 340.34 L428.40 340.43 L428.60 340.51 L428.80 340.58 L429.00 340.64 L429.20 340.67 L429.40 340.70 L429.60 340.70 L429.80 340.65 L430.00 340.56 L430.20 340.43 L430.40 340.28 L430.60 340.09 L430.80 339.89 L431.00 339.67 L431.20 339.45 L431.40 339.23 L431.60 339.02 L431.80 338.81 L432.00 338.62 L432.20 338.41 L432.40 338.17 L432.60 337.91 L432.80 337.65 L433.00 337.38 L433.20 337.13 L433.40 336.89 L433.60 336.68 L433.80 336.51 L434.00 336.38 L434.20 336.31 L434.40 336.30 L434.60 336.33 L434.80 336.39 L435.00 336.46 L435.20 336.54 L435.40 336.63 L435.60 336.72 L435.80 336.79 L436.00 336.87 L436.20 336.95 L436.40 337.04 L436.60 337.12 L436.80 337.18 L437.00 337.20 L437.20 337.20 L437.40 337.20 L437.60 337.20 L437.80 337.20 L438.00 337.20 L438.20 337.20 L438.40 337.20 L438.60 337.20 L438.80 337.20 L439.00 337.20 L439.20 337.21 L439.40 337.23 L439.60 337.26 L439.80 337.30 L440.00 337.35 L440.20 337.41 L440.40 337.47 L440.60 337.52 L440.80 337.60 L441.00 337.69 L441.20 337.80 L441.40 337.93 L441.60 338.06 L441.80 338.20 L442.00 338.35 L442.20 338.50 L442.40 338.65 L442.60 338.80 L442.80 338.95 L443.00 339.09 L443.20 339.22 L443.40 339.34 L443.60 339.44 L443.80 339.55 L444.00 339.66 L444.20 339.78 L444.40 339.89 L444.60 340.01 L444.80 340.12 L445.00 340.23 L445.20 340.33 L445.40 340.42 L445.60 340.50 L445.80 340.57 L446.00 340.63 L446.20 340.67 L446.40 340.70 L446.60 340.70 L446.80 340.66 L447.00 340.57 L447.20 340.45 L447.40 340.29 L447.60 340.11 L447.80 339.91 L448.00 339.70 L448.20 339.47 L448.40 339.25 L448.60 339.04 L448.80 338.83 L449.00 338.64 L449.20 338.43 L449.40 338.20 L449.60 337.94 L449.80 337.67 L450.00 337.41 L450.20 337.15 L450.40 336.91 L450.60 336.70 L450.80 336.52 L451.00 336.39 L451.20 336.32 L451.40 336.30 L451.60 336.33 L451.80 336.38 L452.00 336.45 L452.20 336.53 L452.40 336.62 L452.60 336.71 L452.80 336.79 L453.00 336.86 L453.20 336.95 L453.40 337.03 L453.60 337.11 L453.80 337.17 L454.00 337.20 L454.20 337.20 L454.40 337.20 L454.60 337.20 L454.80 337.20 L455.00 337.20 L455.20 337.20 L455.40 337.20 L455.60 337.20 L455.80 337.20 L456.00 337.20 L456.20 337.21 L456.40 337.22 L456.60 337.26 L456.80 337.30 L457.00 337.35 L457.20 337.40 L457.40 337.46 L457.60 337.52 L457.80 337.59 L458.00 337.68 L458.20 337.79 L458.40 337.91 L458.60 338.05 L458.80 338.19 L459.00 338.34 L459.20 338.49 L459.40 338.64 L459.60 338.79 L459.80 338.93 L460.00 339.07 L460.20 339.21 L460.40 339.32 L460.60 339.43 L460.80 339.54 L461.00 339.65 L461.20 339.77 L461.40 339.88 L461.60 340.00 L461.80 340.11 L462.00 340.22 L462.20 340.32 L462.40 340.41 L462.60 340.50 L462.80 340.57 L463.00 340.63 L463.20 340.67 L463.40 340.69 L463.60 340.70 L463.80 340.66 L464.00 340.58 L464.20 340.46 L464.40 340.31 L464.60 340.13 L464.80 339.93 L465.00 339.72 L465.20 339.50 L465.40 339.28 L465.60 339.06 L465.80 338.85 L466.00 338.66 L466.20 338.46 L466.40 338.22 L466.60 337.97 L466.80 337.70 L467.00 337.43 L467.20 337.18 L467.40 336.94 L467.60 336.72 L467.80 336.54 L468.00 336.40 L468.20 336.32 L468.40 336.30 L468.60 336.32 L468.80 336.37 L469.00 336.44 L469.20 336.53 L469.40 336.61 L469.60 336.70 L469.80 336.78 L470.00 336.85 L470.20 336.94 L470.40 337.02 L470.60 337.10 L470.80 337.17 L471.00 337.20 L471.20 337.20 L471.40 337.20 L471.60 337.20 L471.80 337.20 L472.00 337.20 L472.20 337.20 L472.40 337.20 L472.60 337.20 L472.80 337.20 L473.00 337.20 L473.20 337.20 L473.40 337.22 L473.60 337.25 L473.80 337.29 L474.00 337.34 L474.20 337.40 L474.40 337.45 L474.60 337.51 L474.80 337.58 L475.00 337.67 L475.20 337.78 L475.40 337.90 L475.60 338.03 L475.80 338.17 L476.00 338.32 L476.20 338.47 L476.40 338.62 L476.60 338.77 L476.80 338.92 L477.00 339.06 L477.20 339.19 L477.40 339.31 L477.60 339.42 L477.80 339.53 L478.00 339.64 L478.20 339.75 L478.40 339.87 L478.60 339.99 L478.80 340.10 L479.00 340.21 L479.20 340.31 L479.40 340.40 L479.60 340.49 L479.80 340.56 L480.00 340.62 L480.20 340.66 L480.40 340.69 L480.60 340.70 L480.80 340.67 L481.00 340.59 L481.20 340.48 L481.40 340.33 L481.60 340.15 L481.80 339.95 L482.00 339.74 L482.20 339.52 L482.40 339.30 L482.60 339.08 L482.80 338.87 L483.00 338.68 L483.20 338.48 L483.40 338.25 L483.60 337.99 L483.80 337.73 L484.00 337.46 L484.20 337.20 L484.40 336.96 L484.60 336.74 L484.80 336.56 L485.00 336.42 L485.20 336.33 L485.40 336.30 L485.60 336.32 L485.80 336.37 L486.00 336.44 L486.20 336.52 L486.40 336.61 L486.60 336.69 L486.80 336.77 L487.00 336.84 L487.20 336.93 L487.40 337.02 L487.60 337.10 L487.80 337.16 L488.00 337.20 L488.20 337.20 L488.40 337.20 L488.60 337.20 L488.80 337.20 L489.00 337.20 L489.20 337.20 L489.40 337.20 L489.60 337.20 L489.80 337.20 L490.00 337.20 L490.20 337.20 L490.40 337.22 L490.60 337.25 L490.80 337.29 L491.00 337.34 L491.20 337.39 L491.40 337.45 L491.60 337.51 L491.80 337.58 L492.00 337.66 L492.20 337.77 L492.40 337.89 L492.60 338.02 L492.80 338.16 L493.00 338.31 L493.20 338.46 L493.40 338.61 L493.60 338.76 L493.80 338.91 L494.00 339.05 L494.20 339.18 L494.40 339.30 L494.60 339.41 L494.80 339.52 L495.00 339.63 L495.20 339.74 L495.40 339.86 L495.60 339.97 L495.80 340.09 L496.00 340.20 L496.20 340.30 L496.40 340.39 L496.60 340.48 L496.80 340.55 L497.00 340.62 L497.20 340.66 L497.40 340.69 L497.60 340.70 L497.80 340.67 L498.00 340.60 L498.20 340.49 L498.40 340.34 L498.60 340.17 L498.80 339.97 L499.00 339.76 L499.20 339.54 L499.40 339.32 L499.60 339.10 L499.80 338.89 L500.00 338.70 L500.20 338.50 L500.40 338.27 L500.60 338.02 L500.80 337.75 L501.00 337.49 L501.20 337.23 L501.40 336.98 L501.60 336.76 L501.80 336.57 L502.00 336.43 L502.20 336.33 L502.40 336.30 L502.60 336.32 L502.80 336.36 L503.00 336.43 L503.20 336.51 L503.40 336.60 L503.60 336.68 L503.80 336.76 L504.00 336.84 L504.20 336.92 L504.40 337.01 L504.60 337.09 L504.80 337.16 L505.00 337.19 L505.20 337.20 L505.40 337.20 L505.60 337.20 L505.80 337.20 L506.00 337.20 L506.20 337.20 L506.40 337.20 L506.60 337.20 L506.80 337.20 L507.00 337.20 L507.20 337.20 L507.40 337.22 L507.60 337.25 L507.80 337.28 L508.00 337.33 L508.20 337.39 L508.40 337.44 L508.60 337.50 L508.80 337.57 L509.00 337.65 L509.20 337.76 L509.40 337.88 L509.60 338.01 L509.80 338.15 L510.00 338.29 L510.20 338.44 L510.40 338.59 L510.60 338.74 L510.80 338.89 L511.00 339.03 L511.20 339.17 L511.40 339.29 L511.60 339.40 L511.80 339.51 L512.00 339.62 L512.20 339.73 L512.40 339.85 L512.60 339.96 L512.80 340.08 L513.00 340.19 L513.20 340.29 L513.40 340.39 L513.60 340.47 L513.80 340.55 L514.00 340.61 L514.20 340.66 L514.40 340.69 L514.60 340.70 L514.80 340.68 L515.00 340.61 L515.20 340.50 L515.40 340.36 L515.60 340.19 L515.80 339.99 L516.00 339.78 L516.20 339.56 L516.40 339.34 L516.60 339.12 L516.80 338.91 L517.00 338.72 L517.20 338.52 L517.40 338.29 L517.60 338.04 L517.80 337.78 L518.00 337.51 L518.20 337.25 L518.40 337.01 L518.60 336.78 L518.80 336.59 L519.00 336.44 L519.20 336.34 L519.40 336.30 L519.60 336.31 L519.80 336.36 L520.00 336.42 L520.20 336.50 L520.40 336.59 L520.60 336.68 L520.80 336.76 L521.00 336.83 L521.20 336.91 L521.40 337.00 L521.60 337.08 L521.80 337.15 L522.00 337.19 L522.20 337.20 L522.40 337.20 L522.60 337.20 L522.80 337.20 L523.00 337.20 L523.20 337.20 L523.40 337.20 L523.60 337.20 L523.80 337.20 L524.00 337.20 L524.20 337.20 L524.40 337.22 L524.60 337.24 L524.80 337.28 L525.00 337.33 L525.20 337.38 L525.40 337.44 L525.60 337.49 L525.80 337.56 L526.00 337.65 L526.20 337.75 L526.40 337.86 L526.60 337.99 L526.80 338.13 L527.00 338.28 L527.20 338.43 L527.40 338.58 L527.60 338.73 L527.80 338.88 L528.00 339.02 L528.20 339.15 L528.40 339.28 L528.60 339.39 L528.80 339.49 L529.00 339.61 L529.20 339.72 L529.40 339.84 L529.60 339.95 L529.80 340.06 L530.00 340.17 L530.20 340.28 L530.40 340.38 L530.60 340.46 L530.80 340.54 L531.00 340.60 L531.20 340.65 L531.40 340.69 L531.60 340.70 L531.80 340.68 L532.00 340.62 L532.20 340.52 L532.40 340.37 L532.60 340.21 L532.80 340.01 L533.00 339.80 L533.20 339.59 L533.40 339.36 L533.60 339.14 L533.80 338.93 L534.00 338.74 L534.20 338.54 L534.40 338.32 L534.60 338.07 L534.80 337.81 L535.00 337.54 L535.20 337.28 L535.40 337.03 L535.60 336.80 L535.80 336.61 L536.00 336.45 L536.20 336.35 L536.40 336.30 L536.60 336.31 L536.80 336.35 L537.00 336.41 L537.20 336.49 L537.40 336.58 L537.60 336.67 L537.80 336.75 L538.00 336.82 L538.20 336.90 L538.40 336.99 L538.60 337.07 L538.80 337.14 L539.00 337.19 L539.20 337.20 L539.40 337.20 L539.60 337.20 L539.80 337.20 L540.00 337.20 L540.20 337.20 L540.40 337.20 L540.60 337.20 L540.80 337.20 L541.00 337.20 L541.20 337.20 L541.40 337.21 L541.60 337.24 L541.80 337.28 L542.00 337.32 L542.20 337.37 L542.40 337.43 L542.60 337.49 L542.80 337.55 L543.00 337.64 L543.20 337.74 L543.40 337.85 L543.60 337.98 L543.80 338.12 L544.00 338.26 L544.20 338.41 L544.40 338.56 L544.60 338.71 L544.80 338.86 L545.00 339.01 L545.20 339.14 L545.40 339.27 L545.60 339.38 L545.80 339.48 L546.00 339.59 L546.20 339.71 L546.40 339.82 L546.60 339.94 L546.80 340.05 L547.00 340.16 L547.20 340.27 L547.40 340.37 L547.60 340.46 L547.80 340.53 L548.00 340.60 L548.20 340.65 L548.40 340.68 L548.60 340.70 L548.80 340.69 L549.00 340.63 L549.20 340.53 L549.40 340.39 L549.60 340.22 L549.80 340.03 L550.00 339.83 L550.20 339.61 L550.40 339.39 L550.60 339.17 L550.80 338.95 L551.00 338.76 L551.20 338.56 L551.40 338.34 L551.60 338.10 L551.80 337.83 L552.00 337.57 L552.20 337.30 L552.40 337.05 L552.60 336.82 L552.80 336.63 L553.00 336.47 L553.20 336.36 L553.40 336.30 L553.60 336.31 L553.80 336.35 L554.00 336.41 L554.20 336.48 L554.40 336.57 L554.60 336.66 L554.80 336.74 L555.00 336.81 L555.20 336.89 L555.40 336.98 L555.60 337.07 L555.80 337.14 L556.00 337.19 L556.20 337.20 L556.40 337.20 L556.60 337.20 L556.80 337.20 L557.00 337.20 L557.20 337.20 L557.40 337.20 L557.60 337.20 L557.80 337.20 L558.00 337.20 L558.20 337.20 L558.40 337.21 L558.60 337.24 L558.80 337.27 L559.00 337.32 L559.20 337.37 L559.40 337.43 L559.60 337.48 L559.80 337.55 L560.00 337.63 L560.20 337.73 L560.40 337.84 L560.60 337.97 L560.80 338.10 L561.00 338.25 L561.20 338.40 L561.40 338.55 L561.60 338.70 L561.80 338.85 L562.00 338.99 L562.20 339.13 L562.40 339.25 L562.60 339.37 L562.80 339.47 L563.00 339.58 L563.20 339.70 L563.40 339.81 L563.60 339.93 L563.80 340.04 L564.00 340.15 L564.20 340.26 L564.40 340.36 L564.60 340.45 L564.80 340.53 L565.00 340.59 L565.20 340.64 L565.40 340.68 L565.60 340.70 L565.80 340.69 L566.00 340.64 L566.20 340.54 L566.40 340.41 L566.60 340.24 L566.80 340.05 L567.00 339.85 L567.20 339.63 L567.40 339.41 L567.60 339.19 L567.80 338.97 L568.00 338.77 L568.20 338.58 L568.40 338.36 L568.60 338.12 L568.80 337.86 L569.00 337.59 L569.20 337.33 L569.40 337.08 L569.60 336.85 L569.80 336.64 L570.00 336.48 L570.20 336.36 L570.40 336.31 L570.60 336.31 L570.80 336.34 L571.00 336.40 L571.20 336.48 L571.40 336.56 L571.60 336.65 L571.80 336.73 L572.00 336.81 L572.20 336.88 L572.40 336.97 L572.60 337.06 L572.80 337.13 L573.00 337.18 L573.20 337.20 L573.40 337.20 L573.60 337.20 L573.80 337.20 L574.00 337.20 L574.20 337.20 L574.40 337.20 L574.60 337.20 L574.80 337.20 L575.00 337.20 L575.20 337.20 L575.40 337.21 L575.60 337.23 L575.80 337.27 L576.00 337.31 L576.20 337.36 L576.40 337.42 L576.60 337.48 L576.80 337.54 L577.00 337.62 L577.20 337.72 L577.40 337.83 L577.60 337.95 L577.80 338.09 L578.00 338.23 L578.20 338.38 L578.40 338.53 L578.60 338.68 L578.80 338.83 L579.00 338.98 L579.20 339.11 L579.40 339.24 L579.60 339.36 L579.80 339.46 L580.00 339.57 L580.20 339.69 L580.40 339.80 L580.60 339.92 L580.80 340.03 L581.00 340.14 L581.20 340.25 L581.40 340.35 L581.60 340.44 L581.80 340.52 L582.00 340.59 L582.20 340.64 L582.40 340.68 L582.60 340.70 L582.80 340.69 L583.00 340.64 L583.20 340.55 L583.40 340.42 L583.60 340.26 L583.80 340.07 L584.00 339.87 L584.20 339.65 L584.40 339.43 L584.60 339.21 L584.80 338.99 L585.00 338.79 L585.20 338.60 L585.40 338.39 L585.60 338.15 L585.80 337.89 L586.00 337.62 L586.20 337.36 L586.40 337.10 L586.60 336.87 L586.80 336.66 L587.00 336.49 L587.20 336.37 L587.40 336.31 L587.60 336.30 L587.80 336.34 L588.00 336.39 L588.20 336.47 L588.40 336.55 L588.60 336.64 L588.80 336.73 L589.00 336.80 L589.20 336.88 L589.40 336.96 L589.60 337.05 L589.80 337.13 L590.00 337.18 L590.20 337.20 L590.40 337.20 L590.60 337.20 L590.80 337.20 L591.00 337.20 L591.20 337.20 L591.40 337.20 L591.60 337.20 L591.80 337.20 L592.00 337.20 L592.20 337.20 L592.40 337.21 L592.60 337.23 L592.80 337.26 L593.00 337.31 L593.20 337.36 L593.40 337.41 L593.60 337.47 L593.80 337.53 L594.00 337.61 L594.20 337.70 L594.40 337.82 L594.60 337.94 L594.80 338.07 L595.00 338.22 L595.20 338.37 L595.40 338.52 L595.60 338.67 L595.80 338.82 L596.00 338.96 L596.20 339.10 L596.40 339.23 L596.60 339.35 L596.80 339.45 L597.00 339.56 L597.20 339.67 L597.40 339.79 L597.60 339.90 L597.80 340.02 L598.00 340.13 L598.20 340.24 L598.40 340.34 L598.60 340.43 L598.80 340.51 L599.00 340.58 L599.20 340.64 L599.40 340.67 L599.60 340.70 L599.80 340.70 L600.00 340.65 L600.20 340.56 L600.40 340.43 L600.60 340.28 L600.80 340.09 L601.00 339.89 L601.20 339.67 L601.40 339.45 L601.60 339.23 L601.80 339.02 L602.00 338.81 L602.20 338.62 L602.40 338.41 L602.60 338.17 L602.80 337.91 L603.00 337.65 L603.20 337.38 L603.40 337.13 L603.60 336.89 L603.80 336.68 L604.00 336.51 L604.20 336.38 L604.40 336.31 L604.60 336.30 L604.80 336.33 L605.00 336.39 L605.20 336.46 L605.40 336.54 L605.60 336.63 L605.80 336.72 L606.00 336.79 L606.20 336.87 L606.40 336.95 L606.60 337.04 L606.80 337.12 L607.00 337.18 L607.20 337.20 L607.40 337.20 L607.60 337.20 L607.80 337.20 L608.00 337.20 L608.20 337.20 L608.40 337.20 L608.60 337.20 L608.80 337.20 L609.00 337.20 L609.20 337.20 L609.40 337.21 L609.60 337.23 L609.80 337.26 L610.00 337.30 L610.20 337.35 L610.40 337.41 L610.60 337.47 L610.80 337.52 L611.00 337.60 L611.20 337.69 L611.40 337.80 L611.60 337.93 L611.80 338.06 L612.00 338.20 L612.20 338.35 L612.40 338.50 L612.60 338.65 L612.80 338.80 L613.00 338.95 L613.20 339.09 L613.40 339.22 L613.60 339.34 L613.80 339.44 L614.00 339.55 L614.20 339.66 L614.40 339.78 L614.60 339.89 L614.80 340.01 L615.00 340.12 L615.20 340.23 L615.40 340.33 L615.60 340.42 L615.80 340.50 L616.00 340.57 L616.20 340.63 L616.40 340.67 L616.60 340.70 L616.80 340.70 L617.00 340.66 L617.20 340.57 L617.40 340.45 L617.60 340.29 L617.80 340.11 L618.00 339.91 L618.20 339.70 L618.40 339.47 L618.60 339.25 L618.80 339.04 L619.00 338.83 L619.20 338.64 L619.40 338.43 L619.60 338.20 L619.80 337.94 L620.00 337.67 L620.20 337.41 L620.40 337.15 L620.60 336.91 L620.80 336.70 L621.00 336.52 L621.20 336.39 L621.40 336.32 L621.60 336.30 L621.80 336.33 L622.00 336.38 L622.20 336.45 L622.40 336.53 L622.60 336.62 L622.80 336.71 L623.00 336.79 L623.20 336.86 L623.40 336.95 L623.60 337.03 L623.80 337.11 L624.00 337.17 L624.20 337.20 L624.40 337.20 L624.60 337.20 L624.80 337.20 L625.00 337.20 L625.20 337.20 L625.40 337.20 L625.60 337.20 L625.80 337.20 L626.00 337.20 L626.20 337.20 L626.40 337.21 L626.60 337.22 L626.80 337.26 L627.00 337.30 L627.20 337.35 L627.40 337.40 L627.60 337.46 L627.80 337.52 L628.00 337.59 L628.20 337.68 L628.40 337.79 L628.60 337.91 L628.80 338.05 L629.00 338.19 L629.20 338.34 L629.40 338.49 L629.60 338.64 L629.80 338.79 L630.00 338.93 L630.20 339.07 L630.40 339.21 L630.60 339.32 L630.80 339.43 L631.00 339.54 L631.20 339.65 L631.40 339.77 L631.60 339.88 L631.80 340.00 L632.00 340.11 L632.20 340.22 L632.40 340.32 L632.60 340.41 L632.80 340.50 L633.00 340.57 L633.20 340.63 L633.40 340.67 L633.60 340.69 L633.80 340.70 L634.00 340.66 L634.20 340.58 L634.40 340.46 L634.60 340.31 L634.80 340.13 L635.00 339.93 L635.20 339.72 L635.40 339.50 L635.60 339.28 L635.80 339.06 L636.00 338.85 L636.20 338.66 L636.40 338.46 L636.60 338.22 L636.80 337.97 L637.00 337.70 L637.20 337.43 L637.40 337.18 L637.60 336.94 L637.80 336.72 L638.00 336.54 L638.20 336.40 L638.40 336.32 L638.60 336.30 L638.80 336.32 L639.00 336.37 L639.20 336.44 L639.40 336.53 L639.60 336.61 L639.80 336.70 L640.00 336.78 L640.20 336.85 L640.40 336.94 L640.60 337.02 L640.80 337.10 L641.00 337.17 L641.20 337.20 L641.40 337.20 L641.60 337.20 L641.80 337.20 L642.00 337.20 L642.20 337.20 L642.40 337.20 L642.60 337.20 L642.80 337.20 L643.00 337.20 L643.20 337.20 L643.40 337.20 L643.60 337.22 L643.80 337.25 L644.00 337.29 L644.20 337.34 L644.40 337.40 L644.60 337.45 L644.80 337.51 L645.00 337.58 L645.20 337.67 L645.40 337.78 L645.60 337.90 L645.80 338.03 L646.00 338.17 L646.20 338.32 L646.40 338.47 L646.60 338.62 L646.80 338.77 L647.00 338.92 L647.20 339.06 L647.40 339.19 L647.60 339.31 L647.80 339.42 L648.00 339.53 L648.20 339.64 L648.40 339.75 L648.60 339.87 L648.80 339.99 L649.00 340.10 L649.20 340.21 L649.40 340.31 L649.60 340.40 L649.80 340.49 L650.00 340.56 L650.20 340.62 L650.40 340.66 L650.60 340.69 L650.80 340.70 L651.00 340.67 L651.20 340.59 L651.40 340.48 L651.60 340.33 L651.80 340.15 L652.00 339.95 L652.20 339.74 L652.40 339.52" fill="none" stroke="#D95319" stroke-width="0.80" stroke-linejoin="round"/>
<path d="M378.70 471.70 L378.90 477.76 L379.10 483.74 L379.30 489.89 L379.50 497.22 L379.70 504.73 L379.90 511.05 L380.10 514.86 L380.30 515.31 L380.50 514.63 L380.70 513.47 L380.90 512.00 L381.10 510.42 L381.30 508.93 L381.50 507.70 L381.70 506.68 L381.90 505.68 L382.10 504.70 L382.30 503.74 L382.50 502.81 L382.70 501.89 L382.90 501.01 L383.10 500.15 L383.30 499.33 L383.50 498.53 L383.70 497.77 L383.90 497.05 L384.10 496.35 L384.30 495.65 L384.50 494.95 L384.70 494.26 L384.90 493.60 L385.10 492.98 L385.30 492.40 L385.50 491.90 L385.70 491.47 L385.90 491.13 L386.10 490.88 L386.30 490.66 L386.50 490.45 L386.70 490.27 L386.90 490.13 L387.10 490.03 L387.30 490.00 L387.50 490.04 L387.70 490.16 L387.90 490.34 L388.10 490.56 L388.30 490.81 L388.50 491.07 L388.70 491.34 L388.90 491.67 L389.10 492.08 L389.30 492.53 L389.50 493.02 L389.70 493.53 L389.90 494.05 L390.10 494.56 L390.30 495.05 L390.50 495.50 L390.70 495.90 L390.90 496.30 L391.10 496.69 L391.30 497.09 L391.50 497.48 L391.70 497.86 L391.90 498.23 L392.10 498.58 L392.30 498.92 L392.50 499.23 L392.70 499.52 L392.90 499.78 L393.10 500.02 L393.30 500.25 L393.50 500.49 L393.70 500.72 L393.90 500.94 L394.10 501.15 L394.30 501.34 L394.50 501.51 L394.70 501.65 L394.90 501.77 L395.10 501.85 L395.30 501.90 L395.50 501.93 L395.70 501.95 L395.90 501.97 L396.10 502.00 L396.30 502.02 L396.50 502.04 L396.70 502.06 L396.90 502.07 L397.10 502.09 L397.30 502.10 L397.50 502.12 L397.70 502.13 L397.90 502.14 L398.10 502.15 L398.30 502.16 L398.50 502.17 L398.70 502.18 L398.90 502.18 L399.10 502.19 L399.30 502.19 L399.50 502.20 L399.70 502.20 L399.90 502.20 L400.10 502.20 L400.30 502.20 L400.50 502.20 L400.70 502.20 L400.90 502.20 L401.10 502.19 L401.30 502.19 L401.50 502.19 L401.70 502.18 L401.90 502.18 L402.10 502.17 L402.30 502.17 L402.50 502.16 L402.70 502.15 L402.90 502.15 L403.10 502.14 L403.30 502.13 L403.50 502.12 L403.70 502.11 L403.90 502.08 L404.10 501.99 L404.30 501.85 L404.50 501.68 L404.70 501.51 L404.90 501.37 L405.10 501.30 L405.30 501.27 L405.50 501.24 L405.70 501.22 L405.90 501.20 L406.10 501.19 L406.30 501.17 L406.50 501.16 L406.70 501.15 L406.90 501.14 L407.10 501.13 L407.30 501.12 L407.50 501.11 L407.70 501.09 L407.90 501.07 L408.10 501.05 L408.30 501.02 L408.50 500.98 L408.70 500.90 L408.90 500.79 L409.10 500.66 L409.30 500.51 L409.50 500.37 L409.70 500.24 L409.90 500.12 L410.10 500.00 L410.30 499.88 L410.50 499.73 L410.70 499.55 L410.90 499.33 L411.10 499.01 L411.30 498.33 L411.50 497.33 L411.70 496.09 L411.90 494.68 L412.10 493.19 L412.30 491.70 L412.50 490.06 L412.70 488.14 L412.90 486.04 L413.10 483.87 L413.30 481.72 L413.50 479.70 L413.70 477.54 L413.90 475.11 L414.10 472.71 L414.30 470.62 L414.50 469.16 L414.70 468.60 L414.90 468.80 L415.10 469.36 L415.30 470.21 L415.50 471.28 L415.70 472.50 L415.90 473.80 L416.10 475.12 L416.30 476.63 L416.50 478.58 L416.70 480.83 L416.90 483.23 L417.10 485.61 L417.30 487.83 L417.50 489.74 L417.70 491.32 L417.90 492.82 L418.10 494.25 L418.30 495.58 L418.50 496.81 L418.70 497.92 L418.90 498.91 L419.10 499.80 L419.30 500.71 L419.50 501.59 L419.70 502.36 L419.90 502.97 L420.10 503.33 L420.30 503.39 L420.50 503.28 L420.70 503.05 L420.90 502.76 L421.10 502.41 L421.30 502.06 L421.50 501.72 L421.70 501.43 L421.90 501.21 L422.10 501.02 L422.30 500.85 L422.50 500.69 L422.70 500.54 L422.90 500.38 L423.10 500.21 L423.30 500.04 L423.50 499.88 L423.70 499.73 L423.90 499.58 L424.10 499.43 L424.30 499.27 L424.50 499.09 L424.70 498.88 L424.90 498.63 L425.10 498.34 L425.30 497.93 L425.50 497.30 L425.70 496.49 L425.90 495.56 L426.10 494.54 L426.30 493.49 L426.50 492.45 L426.70 491.42 L426.90 490.30 L427.10 489.11 L427.30 487.88 L427.50 486.62 L427.70 485.36 L427.90 484.13 L428.10 482.92 L428.30 481.65 L428.50 480.36 L428.70 479.09 L428.90 477.90 L429.10 476.83 L429.30 475.92 L429.50 475.00 L429.70 474.08 L429.90 473.24 L430.10 472.55 L430.30 472.07 L430.50 471.90 L430.70 472.07 L430.90 472.54 L431.10 473.26 L431.30 474.16 L431.50 475.19 L431.70 476.28 L431.90 477.40 L432.10 478.81 L432.30 480.61 L432.50 482.65 L432.70 484.81 L432.90 486.93 L433.10 488.87 L433.30 490.53 L433.50 492.08 L433.70 493.60 L433.90 495.05 L434.10 496.41 L434.30 497.63 L434.50 498.68 L434.70 499.54 L434.90 500.39 L435.10 501.21 L435.30 501.93 L435.50 502.49 L435.70 502.83 L435.90 502.89 L436.10 502.81 L436.30 502.64 L436.50 502.41 L436.70 502.15 L436.90 501.87 L437.10 501.60 L437.30 501.36 L437.50 501.17 L437.70 500.99 L437.90 500.82 L438.10 500.65 L438.30 500.48 L438.50 500.31 L438.70 500.13 L438.90 499.96 L439.10 499.79 L439.30 499.64 L439.50 499.49 L439.70 499.33 L439.90 499.15 L440.10 498.94 L440.30 498.69 L440.50 498.41 L440.70 498.01 L440.90 497.39 L441.10 496.57 L441.30 495.61 L441.50 494.56 L441.70 493.47 L441.90 492.40 L442.10 491.32 L442.30 490.13 L442.50 488.87 L442.70 487.57 L442.90 486.26 L443.10 484.98 L443.30 483.76 L443.50 482.55 L443.70 481.32 L443.90 480.09 L444.10 478.93 L444.30 477.87 L444.50 476.97 L444.70 476.17 L444.90 475.35 L445.10 474.57 L445.30 473.91 L445.50 473.44 L445.70 473.21 L445.90 473.29 L446.10 473.65 L446.30 474.24 L446.50 475.01 L446.70 475.91 L446.90 476.90 L447.10 477.91 L447.30 479.10 L447.50 480.69 L447.70 482.54 L447.90 484.55 L448.10 486.57 L448.30 488.47 L448.50 490.14 L448.70 491.66 L448.90 493.18 L449.10 494.66 L449.30 496.05 L449.50 497.32 L449.70 498.43 L449.90 499.33 L450.10 500.18 L450.30 501.01 L450.50 501.76 L450.70 502.36 L450.90 502.77 L451.10 502.90 L451.30 502.84 L451.50 502.69 L451.70 502.47 L451.90 502.21 L452.10 501.94 L452.30 501.66 L452.50 501.42 L452.70 501.22 L452.90 501.04 L453.10 500.86 L453.30 500.69 L453.50 500.53 L453.70 500.35 L453.90 500.18 L454.10 500.00 L454.30 499.83 L454.50 499.68 L454.70 499.53 L454.90 499.37 L455.10 499.19 L455.30 498.99 L455.50 498.76 L455.70 498.48 L455.90 498.13 L456.10 497.57 L456.30 496.79 L456.50 495.86 L456.70 494.83 L456.90 493.74 L457.10 492.66 L457.30 491.60 L457.50 490.43 L457.70 489.18 L457.90 487.88 L458.10 486.57 L458.30 485.28 L458.50 484.05 L458.70 482.88 L458.90 481.68 L459.10 480.49 L459.30 479.35 L459.50 478.31 L459.70 477.41 L459.90 476.65 L460.10 475.88 L460.30 475.14 L460.50 474.50 L460.70 474.01 L460.90 473.74 L461.10 473.74 L461.30 474.02 L461.50 474.53 L461.70 475.23 L461.90 476.07 L462.10 477.00 L462.30 477.97 L462.50 479.03 L462.70 480.49 L462.90 482.24 L463.10 484.16 L463.30 486.14 L463.50 488.04 L463.70 489.75 L463.90 491.27 L464.10 492.79 L464.30 494.28 L464.50 495.70 L464.70 497.01 L464.90 498.17 L465.10 499.13 L465.30 499.97 L465.50 500.81 L465.70 501.58 L465.90 502.23 L466.10 502.69 L466.30 502.89 L466.50 502.86 L466.70 502.73 L466.90 502.53 L467.10 502.28 L467.30 502.01 L467.50 501.73 L467.70 501.47 L467.90 501.26 L468.10 501.08 L468.30 500.91 L468.50 500.74 L468.70 500.57 L468.90 500.40 L469.10 500.22 L469.30 500.04 L469.50 499.87 L469.70 499.72 L469.90 499.57 L470.10 499.41 L470.30 499.24 L470.50 499.05 L470.70 498.82 L470.90 498.56 L471.10 498.24 L471.30 497.73 L471.50 497.00 L471.70 496.10 L471.90 495.09 L472.10 494.01 L472.30 492.93 L472.50 491.87 L472.70 490.73 L472.90 489.49 L473.10 488.19 L473.30 486.87 L473.50 485.58 L473.70 484.34 L473.90 483.18 L474.10 482.02 L474.30 480.85 L474.50 479.73 L474.70 478.70 L474.90 477.80 L475.10 477.05 L475.30 476.33 L475.50 475.62 L475.70 474.99 L475.90 474.49 L476.10 474.18 L476.30 474.11 L476.50 474.32 L476.70 474.76 L476.90 475.39 L477.10 476.17 L477.30 477.05 L477.50 477.98 L477.70 478.96 L477.90 480.28 L478.10 481.93 L478.30 483.78 L478.50 485.71 L478.70 487.62 L478.90 489.36 L479.10 490.88 L479.30 492.40 L479.50 493.90 L479.70 495.35 L479.90 496.69 L480.10 497.89 L480.30 498.91 L480.50 499.76 L480.70 500.60 L480.90 501.40 L481.10 502.08 L481.30 502.59 L481.50 502.87 L481.70 502.88 L481.90 502.77 L482.10 502.59 L482.30 502.35 L482.50 502.08 L482.70 501.80 L482.90 501.53 L483.10 501.31 L483.30 501.13 L483.50 500.95 L483.70 500.78 L483.90 500.61 L484.10 500.44 L484.30 500.27 L484.50 500.09 L484.70 499.91 L484.90 499.76 L485.10 499.60 L485.30 499.45 L485.50 499.28 L485.70 499.10 L485.90 498.88 L486.10 498.63 L486.30 498.32 L486.50 497.88 L486.70 497.20 L486.90 496.34 L487.10 495.35 L487.30 494.29 L487.50 493.20 L487.70 492.14 L487.90 491.02 L488.10 489.81 L488.30 488.52 L488.50 487.20 L488.70 485.90 L488.90 484.64 L489.10 483.47 L489.30 482.31 L489.50 481.14 L489.70 480.00 L489.90 478.94 L490.10 478.01 L490.30 477.23 L490.50 476.51 L490.70 475.79 L490.90 475.14 L491.10 474.60 L491.30 474.23 L491.50 474.10 L491.70 474.24 L491.90 474.63 L492.10 475.22 L492.30 475.97 L492.50 476.83 L492.70 477.75 L492.90 478.69 L493.10 479.92 L493.30 481.49 L493.50 483.30 L493.70 485.23 L493.90 487.15 L494.10 488.95 L494.30 490.51 L494.50 492.02 L494.70 493.53 L494.90 494.99 L495.10 496.37 L495.30 497.61 L495.50 498.67 L495.70 499.54 L495.90 500.39 L496.10 501.21 L496.30 501.93 L496.50 502.49 L496.70 502.83 L496.90 502.89 L497.10 502.81 L497.30 502.64 L497.50 502.41 L497.70 502.15 L497.90 501.87 L498.10 501.60 L498.30 501.36 L498.50 501.17 L498.70 500.99 L498.90 500.82 L499.10 500.65 L499.30 500.48 L499.50 500.31 L499.70 500.13 L499.90 499.96 L500.10 499.79 L500.30 499.64 L500.50 499.49 L500.70 499.33 L500.90 499.15 L501.10 498.94 L501.30 498.69 L501.50 498.41 L501.70 498.01 L501.90 497.39 L502.10 496.57 L502.30 495.61 L502.50 494.56 L502.70 493.47 L502.90 492.40 L503.10 491.31 L503.30 490.12 L503.50 488.84 L503.70 487.53 L503.90 486.22 L504.10 484.95 L504.30 483.76 L504.50 482.60 L504.70 481.43 L504.90 480.28 L505.10 479.20 L505.30 478.23 L505.50 477.41 L505.70 476.69 L505.90 475.97 L506.10 475.29 L506.30 474.72 L506.50 474.31 L506.70 474.11 L506.90 474.18 L507.10 474.51 L507.30 475.06 L507.50 475.77 L507.70 476.60 L507.90 477.51 L508.10 478.45 L508.30 479.57 L508.50 481.07 L508.70 482.83 L508.90 484.74 L509.10 486.68 L509.30 488.51 L509.50 490.14 L509.70 491.64 L509.90 493.15 L510.10 494.63 L510.30 496.03 L510.50 497.31 L510.70 498.43 L510.90 499.33 L511.10 500.18 L511.30 501.01 L511.50 501.76 L511.70 502.36 L511.90 502.77 L512.10 502.90 L512.30 502.84 L512.50 502.69 L512.70 502.47 L512.90 502.21 L513.10 501.94 L513.30 501.66 L513.50 501.42 L513.70 501.22 L513.90 501.04 L514.10 500.86 L514.30 500.69 L514.50 500.53 L514.70 500.35 L514.90 500.18 L515.10 500.00 L515.30 499.83 L515.50 499.68 L515.70 499.53 L515.90 499.37 L516.10 499.19 L516.30 498.99 L516.50 498.76 L516.70 498.48 L516.90 498.13 L517.10 497.57 L517.30 496.79 L517.50 495.86 L517.70 494.83 L517.90 493.74 L518.10 492.66 L518.30 491.60 L518.50 490.43 L518.70 489.17 L518.90 487.86 L519.10 486.55 L519.30 485.26 L519.50 484.05 L519.70 482.89 L519.90 481.72 L520.10 480.56 L520.30 479.46 L520.50 478.46 L520.70 477.60 L520.90 476.87 L521.10 476.15 L521.30 475.45 L521.50 474.85 L521.70 474.39 L521.90 474.13 L522.10 474.14 L522.30 474.41 L522.50 474.90 L522.70 475.58 L522.90 476.39 L523.10 477.28 L523.30 478.22 L523.50 479.25 L523.70 480.67 L523.90 482.38 L524.10 484.26 L524.30 486.20 L524.50 488.07 L524.70 489.76 L524.90 491.26 L525.10 492.78 L525.30 494.27 L525.50 495.69 L525.70 497.01 L525.90 498.17 L526.10 499.13 L526.30 499.97 L526.50 500.81 L526.70 501.58 L526.90 502.23 L527.10 502.69 L527.30 502.89 L527.50 502.86 L527.70 502.73 L527.90 502.53 L528.10 502.28 L528.30 502.01 L528.50 501.73 L528.70 501.47 L528.90 501.26 L529.10 501.08 L529.30 500.91 L529.50 500.74 L529.70 500.57 L529.90 500.40 L530.10 500.22 L530.30 500.04 L530.50 499.87 L530.70 499.72 L530.90 499.57 L531.10 499.41 L531.30 499.24 L531.50 499.05 L531.70 498.82 L531.90 498.56 L532.10 498.24 L532.30 497.73 L532.50 497.00 L532.70 496.10 L532.90 495.09 L533.10 494.01 L533.30 492.93 L533.50 491.87 L533.70 490.73 L533.90 489.49 L534.10 488.19 L534.30 486.87 L534.50 485.58 L534.70 484.34 L534.90 483.18 L535.10 482.02 L535.30 480.85 L535.50 479.73 L535.70 478.70 L535.90 477.80 L536.10 477.05 L536.30 476.33 L536.50 475.62 L536.70 474.99 L536.90 474.49 L537.10 474.18 L537.30 474.11 L537.50 474.32 L537.70 474.76 L537.90 475.39 L538.10 476.17 L538.30 477.05 L538.50 477.98 L538.70 478.96 L538.90 480.28 L539.10 481.93 L539.30 483.78 L539.50 485.71 L539.70 487.62 L539.90 489.36 L540.10 490.88 L540.30 492.40 L540.50 493.90 L540.70 495.35 L540.90 496.69 L541.10 497.89 L541.30 498.91 L541.50 499.76 L541.70 500.60 L541.90 501.40 L542.10 502.08 L542.30 502.59 L542.50 502.87 L542.70 502.88 L542.90 502.77 L543.10 502.59 L543.30 502.35 L543.50 502.08 L543.70 501.80 L543.90 501.53 L544.10 501.31 L544.30 501.13 L544.50 500.95 L544.70 500.78 L544.90 500.61 L545.10 500.44 L545.30 500.27 L545.50 500.09 L545.70 499.91 L545.90 499.76 L546.10 499.60 L546.30 499.45 L546.50 499.28 L546.70 499.10 L546.90 498.88 L547.10 498.63 L547.30 498.32 L547.50 497.88 L547.70 497.20 L547.90 496.34 L548.10 495.35 L548.30 494.29 L548.50 493.20 L548.70 492.14 L548.90 491.02 L549.10 489.81 L549.30 488.52 L549.50 487.20 L549.70 485.90 L549.90 484.64 L550.10 483.47 L550.30 482.31 L550.50 481.14 L550.70 480.00 L550.90 478.94 L551.10 478.01 L551.30 477.23 L551.50 476.51 L551.70 475.79 L551.90 475.14 L552.10 474.60 L552.30 474.23 L552.50 474.10 L552.70 474.24 L552.90 474.63 L553.10 475.22 L553.30 475.97 L553.50 476.83 L553.70 477.75 L553.90 478.69 L554.10 479.92 L554.30 481.49 L554.50 483.30 L554.70 485.23 L554.90 487.15 L555.10 488.95 L555.30 490.51 L555.50 492.02 L555.70 493.53 L555.90 494.99 L556.10 496.37 L556.30 497.61 L556.50 498.67 L556.70 499.54 L556.90 500.39 L557.10 501.21 L557.30 501.93 L557.50 502.49 L557.70 502.83 L557.90 502.89 L558.10 502.81 L558.30 502.64 L558.50 502.41 L558.70 502.15 L558.90 501.87 L559.10 501.60 L559.30 501.36 L559.50 501.17 L559.70 500.99 L559.90 500.82 L560.10 500.65 L560.30 500.48 L560.50 500.31 L560.70 500.13 L560.90 499.96 L561.10 499.79 L561.30 499.64 L561.50 499.49 L561.70 499.33 L561.90 499.15 L562.10 498.94 L562.30 498.69 L562.50 498.41 L562.70 498.01 L562.90 497.39 L563.10 496.57 L563.30 495.61 L563.50 494.56 L563.70 493.47 L563.90 492.40 L564.10 491.31 L564.30 490.12 L564.50 488.84 L564.70 487.53 L564.90 486.22 L565.10 484.95 L565.30 483.76 L565.50 482.60 L565.70 481.43 L565.90 480.28 L566.10 479.20 L566.30 478.23 L566.50 477.41 L566.70 476.69 L566.90 475.97 L567.10 475.29 L567.30 474.72 L567.50 474.31 L567.70 474.11 L567.90 474.18 L568.10 474.51 L568.30 475.06 L568.50 475.77 L568.70 476.60 L568.90 477.51 L569.10 478.45 L569.30 479.57 L569.50 481.07 L569.70 482.83 L569.90 484.74 L570.10 486.68 L570.30 488.51 L570.50 490.14 L570.70 491.64 L570.90 493.15 L571.10 494.63 L571.30 496.03 L571.50 497.31 L571.70 498.43 L571.90 499.33 L572.10 500.18 L572.30 501.01 L572.50 501.76 L572.70 502.36 L572.90 502.77 L573.10 502.90 L573.30 502.84 L573.50 502.69 L573.70 502.47 L573.90 502.21 L574.10 501.94 L574.30 501.66 L574.50 501.42 L574.70 501.22 L574.90 501.04 L575.10 500.86 L575.30 500.69 L575.50 500.53 L575.70 500.35 L575.90 500.18 L576.10 500.00 L576.30 499.83 L576.50 499.68 L576.70 499.53 L576.90 499.37 L577.10 499.19 L577.30 498.99 L577.50 498.76 L577.70 498.48 L577.90 498.13 L578.10 497.57 L578.30 496.79 L578.50 495.86 L578.70 494.83 L578.90 493.74 L579.10 492.66 L579.30 491.60 L579.50 490.43 L579.70 489.17 L579.90 487.86 L580.10 486.55 L580.30 485.26 L580.50 484.05 L580.70 482.89 L580.90 481.72 L581.10 480.56 L581.30 479.46 L581.50 478.46 L581.70 477.60 L581.90 476.87 L582.10 476.15 L582.30 475.45 L582.50 474.85 L582.70 474.39 L582.90 474.13 L583.10 474.14 L583.30 474.41 L583.50 474.90 L583.70 475.58 L583.90 476.39 L584.10 477.28 L584.30 478.22 L584.50 479.25 L584.70 480.67 L584.90 482.38 L585.10 484.26 L585.30 486.20 L585.50 488.07 L585.70 489.76 L585.90 491.26 L586.10 492.78 L586.30 494.27 L586.50 495.69 L586.70 497.01 L586.90 498.17 L587.10 499.13 L587.30 499.97 L587.50 500.81 L587.70 501.58 L587.90 502.23 L588.10 502.69 L588.30 502.89 L588.50 502.86 L588.70 502.73 L588.90 502.53 L589.10 502.28 L589.30 502.01 L589.50 501.73 L589.70 501.47 L589.90 501.26 L590.10 501.08 L590.30 500.91 L590.50 500.74 L590.70 500.57 L590.90 500.40 L591.10 500.22 L591.30 500.04 L591.50 499.87 L591.70 499.72 L591.90 499.57 L592.10 499.41 L592.30 499.24 L592.50 499.05 L592.70 498.82 L592.90 498.56 L593.10 498.24 L593.30 497.73 L593.50 497.00 L593.70 496.10 L593.90 495.09 L594.10 494.01 L594.30 492.93 L594.50 491.87 L594.70 490.73 L594.90 489.49 L595.10 488.19 L595.30 486.87 L595.50 485.58 L595.70 484.34 L595.90 483.18 L596.10 482.02 L596.30 480.85 L596.50 479.73 L596.70 478.70 L596.90 477.80 L597.10 477.05 L597.30 476.33 L597.50 475.62 L597.70 474.99 L597.90 474.49 L598.10 474.18 L598.30 474.11 L598.50 474.32 L598.70 474.76 L598.90 475.39 L599.10 476.17 L599.30 477.05 L599.50 477.98 L599.70 478.96 L599.90 480.28 L600.10 481.93 L600.30 483.78 L600.50 485.71 L600.70 487.62 L600.90 489.36 L601.10 490.88 L601.30 492.40 L601.50 493.90 L601.70 495.35 L601.90 496.69 L602.10 497.89 L602.30 498.91 L602.50 499.76 L602.70 500.60 L602.90 501.40 L603.10 502.08 L603.30 502.59 L603.50 502.87 L603.70 502.88 L603.90 502.77 L604.10 502.59 L604.30 502.35 L604.50 502.08 L604.70 501.80 L604.90 501.53 L605.10 501.31 L605.30 501.13 L605.50 500.95 L605.70 500.78 L605.90 500.61 L606.10 500.44 L606.30 500.27 L606.50 500.09 L606.70 499.91 L606.90 499.76 L607.10 499.60 L607.30 499.45 L607.50 499.28 L607.70 499.10 L607.90 498.88 L608.10 498.63 L608.30 498.32 L608.50 497.88 L608.70 497.20 L608.90 496.34 L609.10 495.35 L609.30 494.29 L609.50 493.20 L609.70 492.14 L609.90 491.02 L610.10 489.81 L610.30 488.52 L610.50 487.20 L610.70 485.90 L610.90 484.64 L611.10 483.47 L611.30 482.31 L611.50 481.14 L611.70 480.00 L611.90 478.94 L612.10 478.01 L612.30 477.23 L612.50 476.51 L612.70 475.79 L612.90 475.14 L613.10 474.60 L613.30 474.23 L613.50 474.10 L613.70 474.24 L613.90 474.63 L614.10 475.22 L614.30 475.97 L614.50 476.83 L614.70 477.75 L614.90 478.69 L615.10 479.92 L615.30 481.49 L615.50 483.30 L615.70 485.23 L615.90 487.15 L616.10 488.95 L616.30 490.51 L616.50 492.02 L616.70 493.53 L616.90 494.99 L617.10 496.37 L617.30 497.61 L617.50 498.67 L617.70 499.54 L617.90 500.39 L618.10 501.21 L618.30 501.93 L618.50 502.49 L618.70 502.83 L618.90 502.89 L619.10 502.81 L619.30 502.64 L619.50 502.41 L619.70 502.15 L619.90 501.87 L620.10 501.60 L620.30 501.36 L620.50 501.17 L620.70 500.99 L620.90 500.82 L621.10 500.65 L621.30 500.48 L621.50 500.31 L621.70 500.13 L621.90 499.96 L622.10 499.79 L622.30 499.64 L622.50 499.49 L622.70 499.33 L622.90 499.15 L623.10 498.94 L623.30 498.69 L623.50 498.41 L623.70 498.01 L623.90 497.39 L624.10 496.57 L624.30 495.61 L624.50 494.56 L624.70 493.47 L624.90 492.40 L625.10 491.31 L625.30 490.12 L625.50 488.84 L625.70 487.53 L625.90 486.22 L626.10 484.95 L626.30 483.76 L626.50 482.60 L626.70 481.43 L626.90 480.28 L627.10 479.20 L627.30 478.23 L627.50 477.41 L627.70 476.69 L627.90 475.97 L628.10 475.29 L628.30 474.72 L628.50 474.31 L628.70 474.11 L628.90 474.18 L629.10 474.51 L629.30 475.06 L629.50 475.77 L629.70 476.60 L629.90 477.51 L630.10 478.45 L630.30 479.57 L630.50 481.07 L630.70 482.83 L630.90 484.74 L631.10 486.68 L631.30 488.51 L631.50 490.14 L631.70 491.64 L631.90 493.15 L632.10 494.63 L632.30 496.03 L632.50 497.31 L632.70 498.43 L632.90 499.33 L633.10 500.18 L633.30 501.01 L633.50 501.76 L633.70 502.36 L633.90 502.77 L634.10 502.90 L634.30 502.84 L634.50 502.69 L634.70 502.47 L634.90 502.21 L635.10 501.94 L635.30 501.66 L635.50 501.42 L635.70 501.22 L635.90 501.04 L636.10 500.86 L636.30 500.69 L636.50 500.53 L636.70 500.35 L636.90 500.18 L637.10 500.00 L637.30 499.83 L637.50 499.68 L637.70 499.53 L637.90 499.37 L638.10 499.19 L638.30 498.99 L638.50 498.76 L638.70 498.48 L638.90 498.13 L639.10 497.57 L639.30 496.79 L639.50 495.86 L639.70 494.83 L639.90 493.74 L640.10 492.66 L640.30 491.60 L640.50 490.43 L640.70 489.17 L640.90 487.86 L641.10 486.55 L641.30 485.26 L641.50 484.05 L641.70 482.89 L641.90 481.72 L642.10 480.56 L642.30 479.46 L642.50 478.46 L642.70 477.60 L642.90 476.87 L643.10 476.15 L643.30 475.45 L643.50 474.85 L643.70 474.39 L643.90 474.13 L644.10 474.14 L644.30 474.41 L644.50 474.90 L644.70 475.58 L644.90 476.39 L645.10 477.28 L645.30 478.22 L645.50 479.25 L645.70 480.67 L645.90 482.38 L646.10 484.26 L646.30 486.20 L646.50 488.07 L646.70 489.76 L646.90 491.26 L647.10 492.78 L647.30 494.27 L647.50 495.69 L647.70 497.01 L647.90 498.17 L648.10 499.13 L648.30 499.97 L648.50 500.81 L648.70 501.58 L648.90 502.23 L649.10 502.69 L649.30 502.89 L649.50 502.86 L649.70 502.73 L649.90 502.53 L650.10 502.28 L650.30 502.01 L650.50 501.73 L650.70 501.47 L650.90 501.26 L651.10 501.08 L651.30 500.91 L651.50 500.74 L651.70 500.57 L651.90 500.40 L652.10 500.22 L652.30 500.04" fill="none" stroke="#0072BD" stroke-width="0.80" stroke-linejoin="round"/>
<line x1="378.60" y1="304.20" x2="652.40" y2="304.20" stroke="#262626" stroke-width="0.8" stroke-opacity="0.55"/>
<line x1="378.60" y1="519.00" x2="652.40" y2="519.00" stroke="#262626" stroke-width="0.8" stroke-opacity="0.55"/>
<line x1="378.60" y1="519.00" x2="378.60" y2="515.70" stroke="#262626" stroke-width="0.6" stroke-opacity="0.55"/>
<line x1="378.60" y1="304.20" x2="378.60" y2="307.50" stroke="#262626" stroke-width="0.6" stroke-opacity="0.55"/>
<path d="M763 0L583 0L583 1147Q518 1085 412 1023Q306 961 222 930L222 1104Q373 1175 486 1276Q599 1377 646 1472L763 1472Z" transform="translate(376.15 531.90) scale(0.00430 -0.00430)" fill="#404040"/>
<line x1="405.98" y1="519.00" x2="405.98" y2="515.70" stroke="#262626" stroke-width="0.6" stroke-opacity="0.55"/>
<line x1="405.98" y1="304.20" x2="405.98" y2="307.50" stroke="#262626" stroke-width="0.6" stroke-opacity="0.55"/>
<path d="M763 0L583 0L583 1147Q518 1085 412 1023Q306 961 222 930L222 1104Q373 1175 486 1276Q599 1377 646 1472L763 1472Z" transform="translate(399.86 531.90) scale(0.00430 -0.00430)" fill="#404040"/><text x="404.76" y="531.90" class="tk" fill="#404040">.</text><path d="M763 0L583 0L583 1147Q518 1085 412 1023Q306 961 222 930L222 1104Q373 1175 486 1276Q599 1377 646 1472L763 1472Z" transform="translate(407.20 531.90) scale(0.00430 -0.00430)" fill="#404040"/>
<line x1="433.36" y1="519.00" x2="433.36" y2="515.70" stroke="#262626" stroke-width="0.6" stroke-opacity="0.55"/>
<line x1="433.36" y1="304.20" x2="433.36" y2="307.50" stroke="#262626" stroke-width="0.6" stroke-opacity="0.55"/>
<path d="M763 0L583 0L583 1147Q518 1085 412 1023Q306 961 222 930L222 1104Q373 1175 486 1276Q599 1377 646 1472L763 1472Z" transform="translate(427.24 531.90) scale(0.00430 -0.00430)" fill="#404040"/><text x="432.14" y="531.90" class="tk" fill="#404040">.</text><text x="434.58" y="531.90" class="tk" fill="#404040">2</text>
<line x1="460.74" y1="519.00" x2="460.74" y2="515.70" stroke="#262626" stroke-width="0.6" stroke-opacity="0.55"/>
<line x1="460.74" y1="304.20" x2="460.74" y2="307.50" stroke="#262626" stroke-width="0.6" stroke-opacity="0.55"/>
<path d="M763 0L583 0L583 1147Q518 1085 412 1023Q306 961 222 930L222 1104Q373 1175 486 1276Q599 1377 646 1472L763 1472Z" transform="translate(454.62 531.90) scale(0.00430 -0.00430)" fill="#404040"/><text x="459.52" y="531.90" class="tk" fill="#404040">.</text><text x="461.96" y="531.90" class="tk" fill="#404040">3</text>
<line x1="488.12" y1="519.00" x2="488.12" y2="515.70" stroke="#262626" stroke-width="0.6" stroke-opacity="0.55"/>
<line x1="488.12" y1="304.20" x2="488.12" y2="307.50" stroke="#262626" stroke-width="0.6" stroke-opacity="0.55"/>
<path d="M763 0L583 0L583 1147Q518 1085 412 1023Q306 961 222 930L222 1104Q373 1175 486 1276Q599 1377 646 1472L763 1472Z" transform="translate(482.00 531.90) scale(0.00430 -0.00430)" fill="#404040"/><text x="486.90" y="531.90" class="tk" fill="#404040">.</text><text x="489.34" y="531.90" class="tk" fill="#404040">4</text>
<line x1="515.50" y1="519.00" x2="515.50" y2="515.70" stroke="#262626" stroke-width="0.6" stroke-opacity="0.55"/>
<line x1="515.50" y1="304.20" x2="515.50" y2="307.50" stroke="#262626" stroke-width="0.6" stroke-opacity="0.55"/>
<path d="M763 0L583 0L583 1147Q518 1085 412 1023Q306 961 222 930L222 1104Q373 1175 486 1276Q599 1377 646 1472L763 1472Z" transform="translate(509.38 531.90) scale(0.00430 -0.00430)" fill="#404040"/><text x="514.28" y="531.90" class="tk" fill="#404040">.</text><text x="516.72" y="531.90" class="tk" fill="#404040">5</text>
<line x1="542.88" y1="519.00" x2="542.88" y2="515.70" stroke="#262626" stroke-width="0.6" stroke-opacity="0.55"/>
<line x1="542.88" y1="304.20" x2="542.88" y2="307.50" stroke="#262626" stroke-width="0.6" stroke-opacity="0.55"/>
<path d="M763 0L583 0L583 1147Q518 1085 412 1023Q306 961 222 930L222 1104Q373 1175 486 1276Q599 1377 646 1472L763 1472Z" transform="translate(536.76 531.90) scale(0.00430 -0.00430)" fill="#404040"/><text x="541.66" y="531.90" class="tk" fill="#404040">.</text><text x="544.10" y="531.90" class="tk" fill="#404040">6</text>
<line x1="570.26" y1="519.00" x2="570.26" y2="515.70" stroke="#262626" stroke-width="0.6" stroke-opacity="0.55"/>
<line x1="570.26" y1="304.20" x2="570.26" y2="307.50" stroke="#262626" stroke-width="0.6" stroke-opacity="0.55"/>
<path d="M763 0L583 0L583 1147Q518 1085 412 1023Q306 961 222 930L222 1104Q373 1175 486 1276Q599 1377 646 1472L763 1472Z" transform="translate(564.14 531.90) scale(0.00430 -0.00430)" fill="#404040"/><text x="569.04" y="531.90" class="tk" fill="#404040">.</text><text x="571.48" y="531.90" class="tk" fill="#404040">7</text>
<line x1="597.64" y1="519.00" x2="597.64" y2="515.70" stroke="#262626" stroke-width="0.6" stroke-opacity="0.55"/>
<line x1="597.64" y1="304.20" x2="597.64" y2="307.50" stroke="#262626" stroke-width="0.6" stroke-opacity="0.55"/>
<path d="M763 0L583 0L583 1147Q518 1085 412 1023Q306 961 222 930L222 1104Q373 1175 486 1276Q599 1377 646 1472L763 1472Z" transform="translate(591.52 531.90) scale(0.00430 -0.00430)" fill="#404040"/><text x="596.42" y="531.90" class="tk" fill="#404040">.</text><text x="598.86" y="531.90" class="tk" fill="#404040">8</text>
<line x1="625.02" y1="519.00" x2="625.02" y2="515.70" stroke="#262626" stroke-width="0.6" stroke-opacity="0.55"/>
<line x1="625.02" y1="304.20" x2="625.02" y2="307.50" stroke="#262626" stroke-width="0.6" stroke-opacity="0.55"/>
<path d="M763 0L583 0L583 1147Q518 1085 412 1023Q306 961 222 930L222 1104Q373 1175 486 1276Q599 1377 646 1472L763 1472Z" transform="translate(618.90 531.90) scale(0.00430 -0.00430)" fill="#404040"/><text x="623.80" y="531.90" class="tk" fill="#404040">.</text><text x="626.24" y="531.90" class="tk" fill="#404040">9</text>
<line x1="652.40" y1="519.00" x2="652.40" y2="515.70" stroke="#262626" stroke-width="0.6" stroke-opacity="0.55"/>
<line x1="652.40" y1="304.20" x2="652.40" y2="307.50" stroke="#262626" stroke-width="0.6" stroke-opacity="0.55"/>
<text x="649.95" y="531.90" class="tk" fill="#404040">2</text>
<line x1="378.60" y1="304.20" x2="378.60" y2="519.00" stroke="#0072BD" stroke-width="0.9" stroke-opacity="0.60"/>
<line x1="652.50" y1="304.20" x2="652.50" y2="519.00" stroke="#D95319" stroke-width="0.9" stroke-opacity="0.70"/>
<line x1="378.60" y1="519.00" x2="381.60" y2="519.00" stroke="#0072BD" stroke-width="0.7" stroke-opacity="0.75"/>
<text x="370.31" y="522.50" class="tk" fill="#0072BD">0</text>
<line x1="652.40" y1="304.20" x2="649.40" y2="304.20" stroke="#D95319" stroke-width="0.7" stroke-opacity="0.6"/>
<text x="655.80" y="307.70" class="tk" fill="#D95319">0</text>
<line x1="378.60" y1="488.31" x2="381.60" y2="488.31" stroke="#0072BD" stroke-width="0.7" stroke-opacity="0.75"/>
<text x="370.31" y="491.81" class="tk" fill="#0072BD">5</text>
<line x1="652.40" y1="334.89" x2="649.40" y2="334.89" stroke="#D95319" stroke-width="0.7" stroke-opacity="0.6"/>
<text x="655.80" y="338.39" class="tk" fill="#D95319">-</text><text x="658.73" y="338.39" class="tk" fill="#D95319">5</text>
<line x1="378.60" y1="457.63" x2="381.60" y2="457.63" stroke="#0072BD" stroke-width="0.7" stroke-opacity="0.75"/>
<path d="M763 0L583 0L583 1147Q518 1085 412 1023Q306 961 222 930L222 1104Q373 1175 486 1276Q599 1377 646 1472L763 1472Z" transform="translate(365.41 461.13) scale(0.00430 -0.00430)" fill="#0072BD"/><text x="370.31" y="461.13" class="tk" fill="#0072BD">0</text>
<line x1="652.40" y1="365.57" x2="649.40" y2="365.57" stroke="#D95319" stroke-width="0.7" stroke-opacity="0.6"/>
<text x="655.80" y="369.07" class="tk" fill="#D95319">-</text><path d="M763 0L583 0L583 1147Q518 1085 412 1023Q306 961 222 930L222 1104Q373 1175 486 1276Q599 1377 646 1472L763 1472Z" transform="translate(658.73 369.07) scale(0.00430 -0.00430)" fill="#D95319"/><text x="663.62" y="369.07" class="tk" fill="#D95319">0</text>
<line x1="378.60" y1="426.94" x2="381.60" y2="426.94" stroke="#0072BD" stroke-width="0.7" stroke-opacity="0.75"/>
<path d="M763 0L583 0L583 1147Q518 1085 412 1023Q306 961 222 930L222 1104Q373 1175 486 1276Q599 1377 646 1472L763 1472Z" transform="translate(365.41 430.44) scale(0.00430 -0.00430)" fill="#0072BD"/><text x="370.31" y="430.44" class="tk" fill="#0072BD">5</text>
<line x1="652.40" y1="396.26" x2="649.40" y2="396.26" stroke="#D95319" stroke-width="0.7" stroke-opacity="0.6"/>
<text x="655.80" y="399.76" class="tk" fill="#D95319">-</text><path d="M763 0L583 0L583 1147Q518 1085 412 1023Q306 961 222 930L222 1104Q373 1175 486 1276Q599 1377 646 1472L763 1472Z" transform="translate(658.73 399.76) scale(0.00430 -0.00430)" fill="#D95319"/><text x="663.62" y="399.76" class="tk" fill="#D95319">5</text>
<line x1="378.60" y1="396.26" x2="381.60" y2="396.26" stroke="#0072BD" stroke-width="0.7" stroke-opacity="0.75"/>
<text x="365.41" y="399.76" class="tk" fill="#0072BD">2</text><text x="370.31" y="399.76" class="tk" fill="#0072BD">0</text>
<line x1="652.40" y1="426.94" x2="649.40" y2="426.94" stroke="#D95319" stroke-width="0.7" stroke-opacity="0.6"/>
<text x="655.80" y="430.44" class="tk" fill="#D95319">-</text><text x="658.73" y="430.44" class="tk" fill="#D95319">2</text><text x="663.62" y="430.44" class="tk" fill="#D95319">0</text>
<line x1="378.60" y1="365.57" x2="381.60" y2="365.57" stroke="#0072BD" stroke-width="0.7" stroke-opacity="0.75"/>
<text x="365.41" y="369.07" class="tk" fill="#0072BD">2</text><text x="370.31" y="369.07" class="tk" fill="#0072BD">5</text>
<line x1="652.40" y1="457.63" x2="649.40" y2="457.63" stroke="#D95319" stroke-width="0.7" stroke-opacity="0.6"/>
<text x="655.80" y="461.13" class="tk" fill="#D95319">-</text><text x="658.73" y="461.13" class="tk" fill="#D95319">2</text><text x="663.62" y="461.13" class="tk" fill="#D95319">5</text>
<line x1="378.60" y1="334.89" x2="381.60" y2="334.89" stroke="#0072BD" stroke-width="0.7" stroke-opacity="0.75"/>
<text x="365.41" y="338.39" class="tk" fill="#0072BD">3</text><text x="370.31" y="338.39" class="tk" fill="#0072BD">0</text>
<line x1="652.40" y1="488.31" x2="649.40" y2="488.31" stroke="#D95319" stroke-width="0.7" stroke-opacity="0.6"/>
<text x="655.80" y="491.81" class="tk" fill="#D95319">-</text><text x="658.73" y="491.81" class="tk" fill="#D95319">3</text><text x="663.62" y="491.81" class="tk" fill="#D95319">0</text>
<line x1="378.60" y1="304.20" x2="381.60" y2="304.20" stroke="#0072BD" stroke-width="0.7" stroke-opacity="0.75"/>
<text x="365.41" y="307.70" class="tk" fill="#0072BD">3</text><text x="370.31" y="307.70" class="tk" fill="#0072BD">5</text>
<line x1="652.40" y1="519.00" x2="649.40" y2="519.00" stroke="#D95319" stroke-width="0.7" stroke-opacity="0.6"/>
<text x="655.80" y="522.50" class="tk" fill="#D95319">-</text><text x="658.73" y="522.50" class="tk" fill="#D95319">3</text><text x="663.62" y="522.50" class="tk" fill="#D95319">5</text>
<text x="515.50" y="299.40" class="ttl" text-anchor="middle">Case-4 (DNV loads)</text>
<text x="515.50" y="545.80" class="lab" fill="#555555" stroke="#555555" text-anchor="middle">Time [Sec]</text>
<text transform="translate(361.00 412.90) rotate(-90)" class="lab" fill="#0072BD" stroke="#0072BD" text-anchor="middle">Peak Total Pressure [MPa]</text>
<text transform="translate(683.30 413.00) rotate(-90)" class="lab" fill="#D95319" stroke="#D95319" text-anchor="middle">Dang Van equivalent stress [MPa]</text>
<text x="0.80" y="11.80" class="let">a</text>
<text x="350.50" y="11.80" class="let">b</text>
<text x="1.20" y="299.40" class="let">c</text>
<text x="350.70" y="298.90" class="let">d</text>
</svg>
</body></html>
